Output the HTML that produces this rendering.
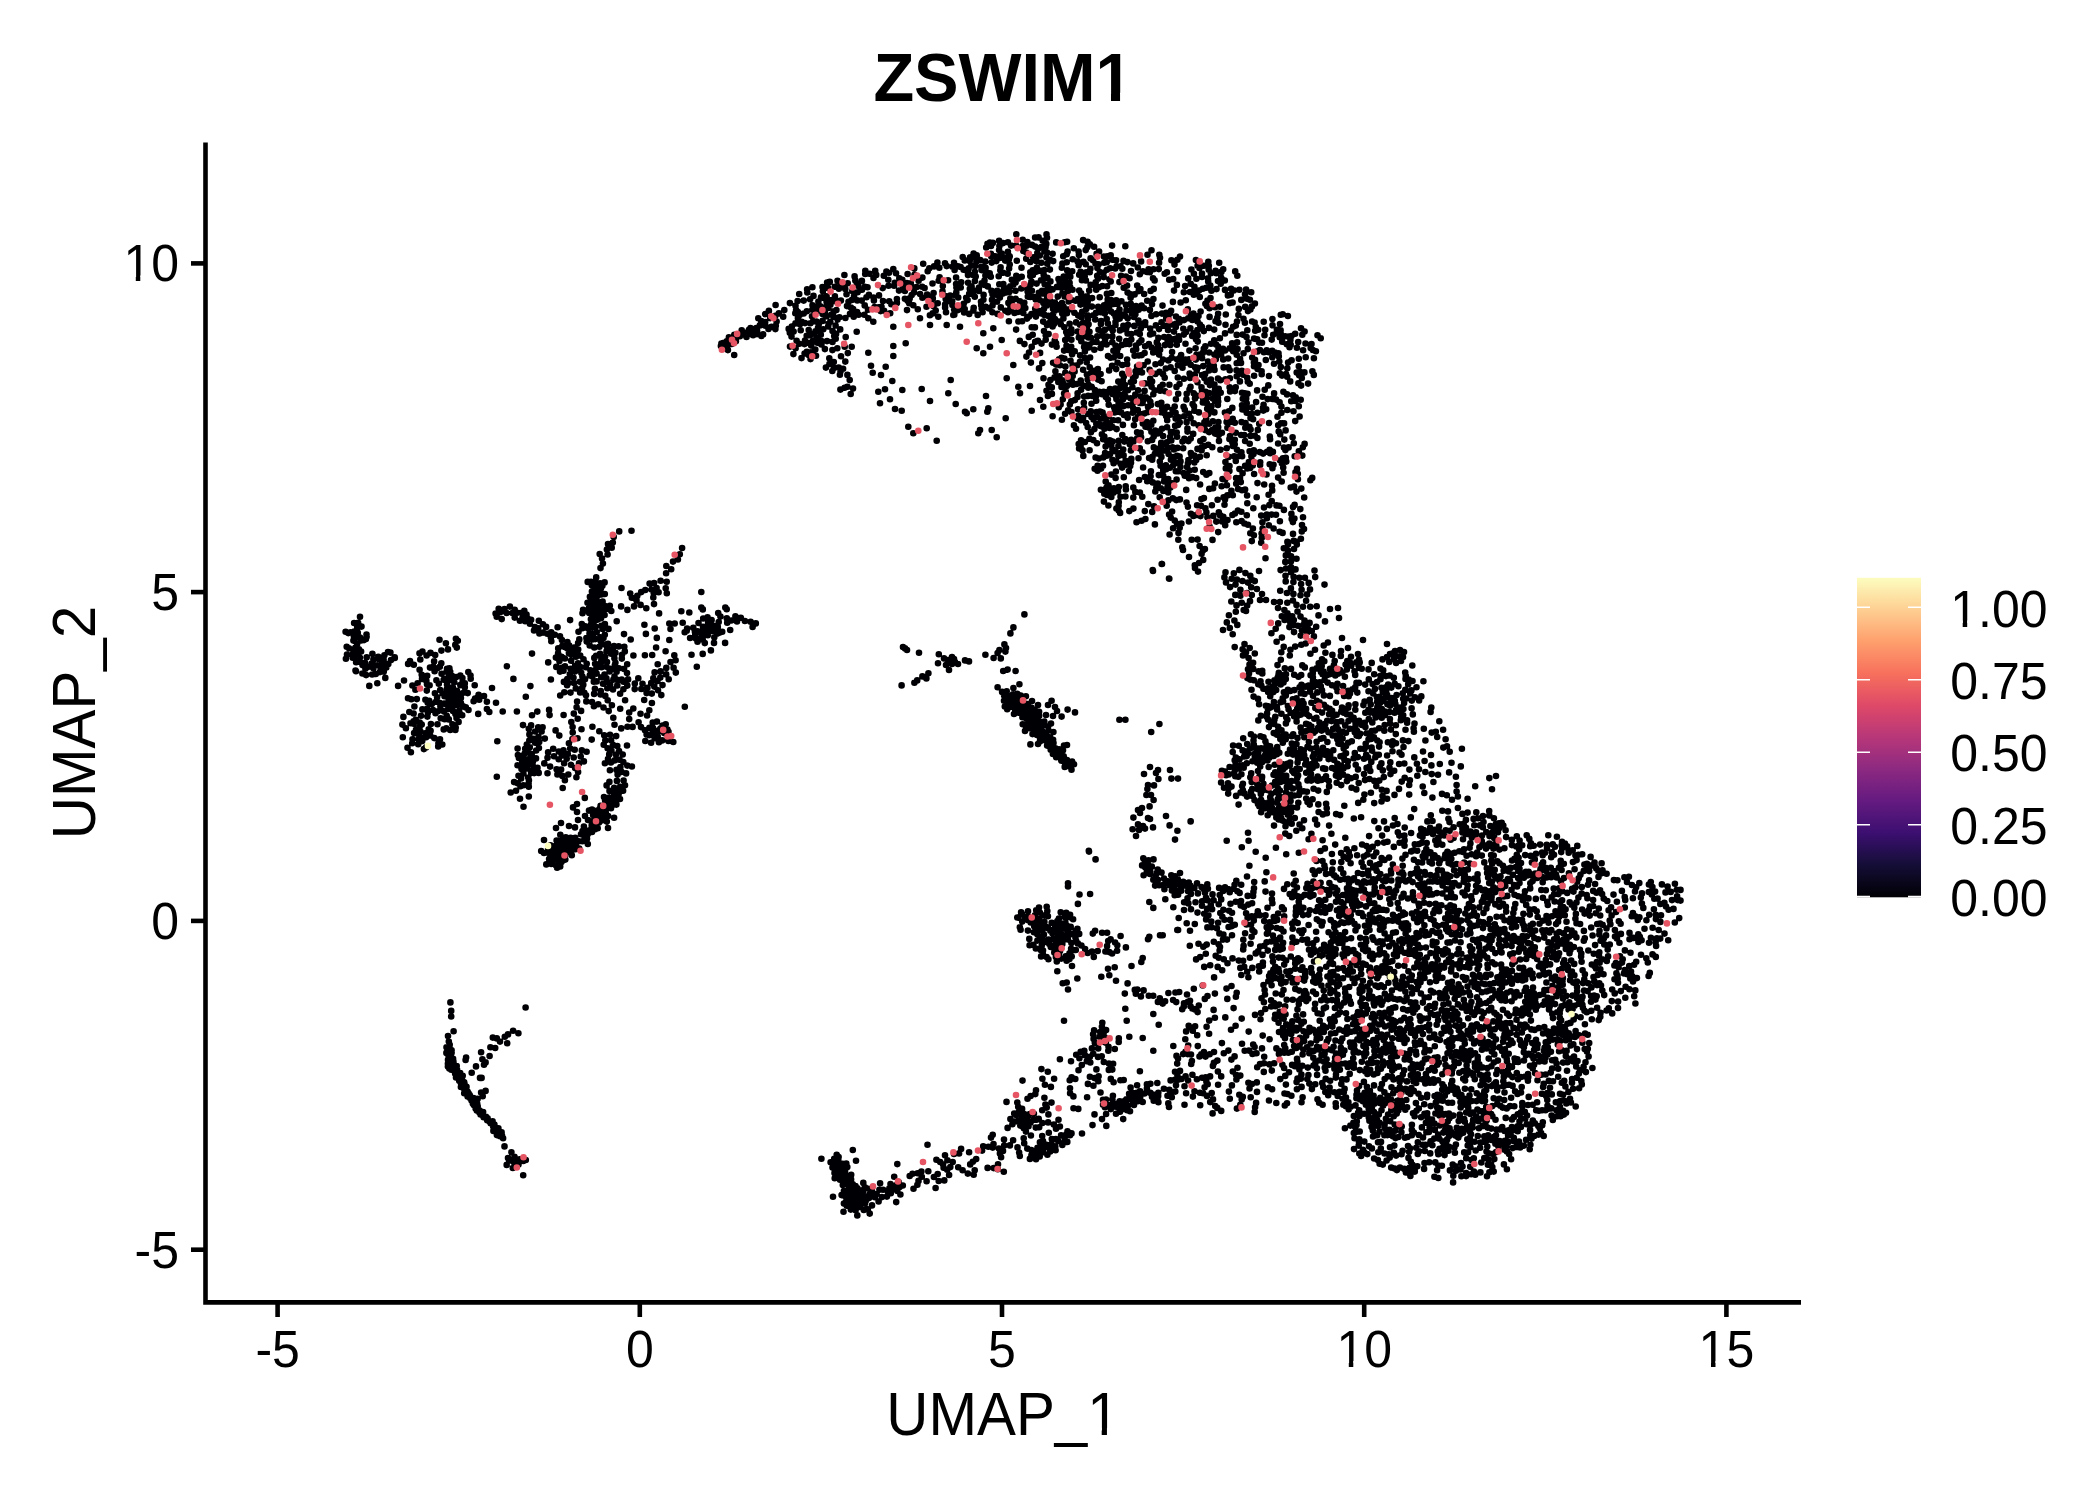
<!DOCTYPE html>
<html><head><meta charset="utf-8"><title>ZSWIM1</title><style>html,body{margin:0;padding:0;background:#fff}svg{display:block}</style></head><body><svg width="2100" height="1500" viewBox="0 0 2100 1500">
<path d="M739.9 336.2h.01M736.5 337.2h.01M746.7 332.5h.01M763.1 334.4h.01M727.0 346.8h.01M723.9 342.7h.01M744.3 333.0h.01M735.9 341.3h.01M726.7 341.4h.01M746.5 337.0h.01M720.9 346.1h.01M753.1 335.3h.01M734.3 338.8h.01M725.2 348.3h.01M753.1 330.3h.01M742.4 334.6h.01M728.9 337.4h.01M756.3 328.0h.01M757.0 334.1h.01M749.7 332.2h.01M721.4 343.6h.01M734.3 334.9h.01M727.9 350.1h.01M728.5 340.0h.01M757.1 330.9h.01M728.9 344.0h.01M741.7 330.2h.01M750.5 328.1h.01M723.7 346.0h.01M731.8 344.0h.01M726.4 344.0h.01M749.0 329.9h.01M761.4 336.0h.01M748.5 334.2h.01M734.2 355.0h.01M765.4 325.8h.01M778.9 313.4h.01M768.9 310.9h.01M775.3 315.8h.01M776.6 321.5h.01M770.1 318.1h.01M758.3 318.2h.01M761.2 321.0h.01M765.2 322.1h.01M765.1 314.1h.01M775.6 305.0h.01M759.9 325.4h.01M768.5 328.9h.01M774.0 327.1h.01M775.8 325.7h.01M775.4 329.1h.01M771.5 326.8h.01M1031.9 244.9h.01M854.0 296.3h.01M839.4 317.2h.01M856.9 283.7h.01M894.8 282.9h.01M954.3 314.8h.01M896.0 273.2h.01M914.0 287.5h.01M1008.0 312.2h.01M978.9 290.9h.01M796.1 310.1h.01M852.3 291.1h.01M924.6 288.0h.01M976.4 261.7h.01M875.2 270.7h.01M984.8 284.9h.01M1005.6 257.5h.01M1041.0 280.3h.01M1036.8 267.7h.01M818.7 324.5h.01M1007.7 273.7h.01M801.6 321.9h.01M1041.7 293.4h.01M1041.0 270.9h.01M1035.1 246.6h.01M991.5 290.9h.01M937.4 262.6h.01M975.7 276.5h.01M967.6 300.1h.01M1008.9 259.3h.01M1021.3 288.4h.01M1002.9 293.6h.01M1005.3 310.8h.01M1047.8 286.3h.01M812.4 287.3h.01M873.5 297.6h.01M999.3 284.2h.01M933.6 293.0h.01M867.5 287.2h.01M838.0 300.8h.01M807.3 292.5h.01M861.9 280.9h.01M828.4 308.0h.01M1007.9 251.7h.01M851.8 300.0h.01M1007.9 242.2h.01M865.3 270.8h.01M907.6 274.0h.01M848.5 301.8h.01M981.2 305.2h.01M824.8 312.6h.01M881.5 306.8h.01M999.4 246.0h.01M855.3 280.4h.01M826.4 316.2h.01M992.8 242.9h.01M1015.6 282.5h.01M890.2 313.2h.01M797.9 312.0h.01M822.9 291.2h.01M844.0 286.4h.01M1036.8 256.1h.01M956.4 287.5h.01M927.7 271.3h.01M1038.3 248.5h.01M957.9 310.1h.01M1008.4 302.9h.01M857.6 292.3h.01M1021.5 267.7h.01M973.1 294.5h.01M969.2 313.9h.01M969.8 288.7h.01M945.0 263.2h.01M806.8 311.2h.01M974.8 271.7h.01M1015.5 290.8h.01M991.7 262.6h.01M917.8 309.2h.01M1009.7 256.4h.01M974.9 281.0h.01M997.1 295.0h.01M893.3 269.0h.01M853.7 316.8h.01M844.4 275.0h.01M957.9 266.2h.01M963.7 303.8h.01M866.5 297.3h.01M1050.8 303.7h.01M997.1 301.6h.01M891.3 304.3h.01M946.7 266.1h.01M937.7 303.3h.01M1019.9 301.2h.01M956.1 277.6h.01M896.9 302.9h.01M830.4 304.8h.01M938.7 280.8h.01M1003.3 284.0h.01M968.7 268.3h.01M896.9 299.1h.01M1000.3 270.3h.01M999.7 292.4h.01M1041.3 262.8h.01M1009.7 264.5h.01M899.0 290.6h.01M1016.3 234.2h.01M847.0 306.1h.01M997.5 313.9h.01M986.0 271.9h.01M886.4 271.6h.01M950.2 295.6h.01M922.4 277.6h.01M954.0 262.8h.01M926.5 306.7h.01M932.7 313.4h.01M959.8 308.1h.01M942.5 291.4h.01M833.7 316.8h.01M1027.0 287.9h.01M945.7 299.1h.01M989.9 242.6h.01M1027.8 296.6h.01M865.2 274.0h.01M1035.1 237.5h.01M894.1 285.8h.01M789.9 303.1h.01M797.6 301.1h.01M807.1 289.2h.01M1003.1 243.1h.01M1017.8 278.8h.01M904.9 298.7h.01M956.3 292.4h.01M1047.2 296.7h.01M971.6 286.6h.01M1010.3 306.5h.01M1011.6 303.9h.01M946.5 296.2h.01M985.7 306.8h.01M831.8 300.1h.01M795.5 323.4h.01M850.9 307.6h.01M929.9 315.2h.01M1039.8 255.5h.01M963.6 269.7h.01M1052.6 253.7h.01M992.5 294.3h.01M826.6 302.0h.01M945.1 304.5h.01M826.6 296.2h.01M1022.6 246.0h.01M1009.3 291.9h.01M914.0 292.4h.01M979.0 287.5h.01M857.1 312.1h.01M799.6 315.0h.01M980.3 260.0h.01M784.3 310.1h.01M992.0 299.9h.01M948.1 280.3h.01M973.7 307.7h.01M981.5 270.1h.01M1030.3 276.0h.01M1009.1 268.6h.01M906.9 283.0h.01M1016.8 260.7h.01M803.7 313.5h.01M932.5 283.5h.01M853.1 309.1h.01M942.8 286.0h.01M822.5 287.0h.01M987.5 243.8h.01M929.3 268.3h.01M1033.2 257.3h.01M902.3 279.9h.01M962.7 257.0h.01M847.7 283.2h.01M868.9 294.9h.01M910.8 283.3h.01M1007.7 288.4h.01M973.0 274.9h.01M864.7 305.4h.01M889.0 272.8h.01M1043.4 303.1h.01M983.4 299.8h.01M822.6 314.0h.01M939.3 267.7h.01M883.8 275.7h.01M888.5 285.7h.01M1011.8 279.7h.01M874.6 307.1h.01M939.6 277.4h.01M922.4 297.8h.01M968.1 282.8h.01M904.9 290.9h.01M1001.6 253.6h.01M1027.6 291.6h.01M996.3 261.1h.01M1010.3 286.2h.01M961.2 282.2h.01M795.3 313.3h.01M797.9 318.2h.01M999.9 258.0h.01M864.4 314.7h.01M864.9 286.7h.01M817.2 310.9h.01M999.1 250.1h.01M1044.4 251.4h.01M976.7 255.4h.01M922.2 286.7h.01M960.7 287.5h.01M831.2 314.8h.01M934.1 266.4h.01M818.4 301.5h.01M1016.0 245.5h.01M960.6 267.0h.01M850.0 313.9h.01M974.5 257.6h.01M971.3 265.6h.01M805.0 323.1h.01M981.7 308.5h.01M967.8 272.3h.01M973.4 310.4h.01M956.1 284.1h.01M974.8 296.7h.01M933.6 306.2h.01M909.2 303.3h.01M810.1 299.3h.01M992.4 312.3h.01M833.7 311.4h.01M884.1 310.8h.01M952.4 305.0h.01M918.6 280.7h.01M1011.1 310.4h.01M964.7 309.1h.01M903.2 286.3h.01M876.2 274.9h.01M954.1 309.5h.01M834.9 296.3h.01M882.7 288.1h.01M916.7 287.0h.01M932.8 298.4h.01M861.7 300.6h.01M985.3 261.5h.01M935.7 310.6h.01M1020.5 307.7h.01M964.7 260.4h.01M954.6 270.0h.01M1035.7 299.5h.01M920.1 294.0h.01M914.3 268.4h.01M1016.3 275.8h.01M981.7 283.4h.01M834.8 286.7h.01M1026.2 258.8h.01M857.3 300.4h.01M946.0 312.3h.01M1046.6 290.5h.01M837.5 280.8h.01M983.6 294.9h.01M873.5 277.9h.01M783.2 316.7h.01M949.3 301.0h.01M826.4 306.2h.01M994.0 256.1h.01M1047.4 277.8h.01M1027.4 242.0h.01M1038.8 292.7h.01M845.3 289.1h.01M1023.3 251.0h.01M977.7 314.9h.01M999.9 297.6h.01M788.7 328.9h.01M984.5 280.6h.01M1032.7 270.4h.01M1044.5 270.1h.01M817.1 307.1h.01M969.7 260.9h.01M982.6 312.2h.01M888.3 279.8h.01M1031.4 281.6h.01M1003.2 272.7h.01M878.5 307.3h.01M968.0 275.1h.01M823.6 298.0h.01M840.1 286.4h.01M852.3 312.1h.01M997.2 290.8h.01M883.0 301.1h.01M1000.6 267.3h.01M975.1 265.9h.01M985.6 267.7h.01M899.3 278.2h.01M992.5 305.5h.01M799.2 294.0h.01M1050.2 260.0h.01M1013.4 284.4h.01M868.0 309.8h.01M997.7 256.4h.01M1011.1 245.6h.01M812.5 305.2h.01M1030.3 262.0h.01M1049.9 269.6h.01M1036.6 283.6h.01M858.6 314.8h.01M1047.3 263.8h.01M828.6 323.9h.01M812.0 316.3h.01M827.1 282.6h.01M913.3 305.2h.01M986.2 247.5h.01M1022.7 239.8h.01M1046.5 234.4h.01M1036.6 271.6h.01M914.5 274.8h.01M816.4 321.6h.01M812.3 309.8h.01M855.0 299.2h.01M821.0 297.4h.01M829.8 281.9h.01M907.0 310.1h.01M927.1 294.5h.01M907.6 300.7h.01M822.6 320.9h.01M889.2 301.2h.01M858.3 286.1h.01M1037.3 253.0h.01M1030.3 272.3h.01M985.4 275.5h.01M1030.5 284.8h.01M1003.9 289.3h.01M931.3 301.2h.01M955.4 295.3h.01M981.4 266.8h.01M1026.5 245.8h.01M990.8 276.8h.01M1006.1 292.5h.01M973.7 290.6h.01M952.6 266.7h.01M795.5 305.7h.01M835.0 301.1h.01M973.6 253.6h.01M1050.4 301.0h.01M1015.7 298.9h.01M1025.3 308.0h.01M820.3 306.3h.01M998.7 276.2h.01M1034.2 297.1h.01M1021.7 276.8h.01M958.2 297.5h.01M810.4 323.2h.01M846.5 294.2h.01M836.4 310.0h.01M945.1 307.6h.01M1014.5 313.0h.01M813.5 295.9h.01M1012.6 300.1h.01M830.3 321.8h.01M873.9 300.4h.01M1005.2 260.6h.01M1041.3 247.1h.01M969.2 293.8h.01M970.1 257.3h.01M880.6 311.1h.01M837.6 319.6h.01M840.9 300.6h.01M1032.9 274.9h.01M1039.9 300.3h.01M987.8 286.4h.01M845.4 318.0h.01M879.0 295.4h.01M828.0 287.9h.01M964.1 312.5h.01M1047.0 252.6h.01M928.5 297.4h.01M911.7 295.1h.01M966.2 297.8h.01M991.3 256.5h.01M1026.3 252.5h.01M991.0 245.9h.01M989.0 308.4h.01M923.2 263.7h.01M952.2 301.2h.01M999.1 240.8h.01M1000.8 307.4h.01M838.9 288.8h.01M862.0 289.8h.01M1010.3 298.6h.01M869.6 273.8h.01M803.7 300.6h.01M1042.7 240.8h.01M989.7 273.3h.01M1045.6 246.9h.01M909.7 298.4h.01M854.6 276.4h.01M990.9 253.7h.01M981.0 301.7h.01M844.6 387.7h.01M834.0 367.9h.01M816.1 339.3h.01M799.3 343.7h.01M817.4 342.8h.01M835.7 338.7h.01M816.0 355.8h.01M795.6 348.3h.01M808.7 330.1h.01M812.7 341.4h.01M805.0 340.6h.01M840.2 329.4h.01M840.4 389.6h.01M837.3 348.2h.01M832.3 371.0h.01M790.0 346.6h.01M827.0 341.1h.01M796.6 340.8h.01M815.5 331.2h.01M806.8 351.7h.01M839.9 374.7h.01M811.0 352.3h.01M832.5 341.9h.01M804.6 353.5h.01M804.5 344.1h.01M789.8 332.8h.01M799.9 324.3h.01M847.8 353.1h.01M813.1 321.4h.01M791.8 326.6h.01M793.6 331.6h.01M832.5 331.1h.01M833.8 362.0h.01M811.2 345.6h.01M823.3 329.3h.01M841.0 356.3h.01M829.3 358.3h.01M847.4 386.7h.01M840.5 371.6h.01M818.3 337.4h.01M835.6 325.5h.01M824.9 349.1h.01M807.7 342.8h.01M844.7 346.7h.01M810.3 335.3h.01M815.3 349.5h.01M838.7 367.5h.01M850.7 394.0h.01M810.5 359.1h.01M791.5 336.6h.01M801.5 358.1h.01M845.3 361.6h.01M821.4 341.0h.01M828.2 326.5h.01M845.7 337.1h.01M793.4 354.1h.01M836.1 333.9h.01M800.7 330.2h.01M832.4 350.1h.01M843.1 368.7h.01M821.4 344.4h.01M818.0 327.7h.01M814.2 333.5h.01M806.7 335.8h.01M853.0 388.6h.01M825.9 367.6h.01M847.4 374.9h.01M820.4 331.5h.01M808.7 355.1h.01M820.8 334.7h.01M834.2 336.1h.01M829.5 363.9h.01M849.7 380.1h.01M893.3 326.7h.01M930.0 325.0h.01M920.0 318.3h.01M938.3 316.7h.01M946.7 325.0h.01M868.3 352.7h.01M893.3 346.0h.01M905.7 343.3h.01M893.3 356.0h.01M871.0 365.7h.01M885.7 366.7h.01M872.7 372.7h.01M881.0 375.0h.01M892.3 381.0h.01M878.3 391.7h.01M885.0 389.3h.01M902.3 390.0h.01M880.0 403.3h.01M890.0 399.3h.01M921.7 389.0h.01M930.0 401.0h.01M895.0 409.0h.01M901.7 410.7h.01M948.3 393.3h.01M950.7 380.0h.01M955.7 404.0h.01M965.0 411.7h.01M966.7 413.3h.01M973.3 409.3h.01M986.0 396.0h.01M988.3 408.3h.01M987.3 411.7h.01M1005.7 418.3h.01M980.0 430.0h.01M978.3 433.3h.01M991.7 430.0h.01M996.7 437.3h.01M908.3 426.7h.01M913.3 433.3h.01M926.7 428.3h.01M936.7 440.7h.01M1006.7 378.3h.01M1018.3 386.7h.01M1020.0 393.3h.01M1030.0 386.0h.01M1031.7 410.7h.01M1043.3 406.7h.01M1040.0 400.0h.01M983.3 333.3h.01M990.0 346.7h.01M1001.7 340.0h.01M1013.3 365.0h.01M983.3 353.3h.01M976.7 348.3h.01M993.3 328.3h.01M953.3 315.0h.01M960.0 326.7h.01M851.7 346.7h.01M856.7 331.7h.01M873.3 321.7h.01M868.3 318.3h.01M1252.7 465.5h.01M1160.1 454.5h.01M1138.2 371.9h.01M1054.9 319.0h.01M1271.6 514.6h.01M1122.3 268.8h.01M1193.4 313.6h.01M1242.6 334.6h.01M1197.4 330.1h.01M1101.9 434.3h.01M1066.2 332.1h.01M1077.6 418.5h.01M1249.7 383.8h.01M1073.9 425.2h.01M1125.7 486.3h.01M1116.2 369.1h.01M1051.9 393.9h.01M1112.3 336.4h.01M1116.7 266.2h.01M1103.9 501.6h.01M1117.6 362.7h.01M1143.6 365.2h.01M1266.7 350.4h.01M1215.0 389.8h.01M1206.7 455.3h.01M1194.4 286.7h.01M1196.4 278.7h.01M1196.2 478.1h.01M1266.2 409.2h.01M1208.8 265.9h.01M1287.3 368.2h.01M1290.4 340.0h.01M1293.0 507.1h.01M1260.1 464.9h.01M1178.0 424.9h.01M1147.2 481.3h.01M1223.2 359.4h.01M1117.5 393.6h.01M1237.9 510.5h.01M1232.3 442.1h.01M1290.2 381.4h.01M1232.1 343.2h.01M1201.5 387.2h.01M1263.6 404.9h.01M1252.1 321.5h.01M1258.5 365.0h.01M1030.9 362.6h.01M1278.8 356.4h.01M1058.3 382.0h.01M1183.6 406.7h.01M1229.9 303.1h.01M1151.5 250.3h.01M1180.4 466.9h.01M1017.8 312.0h.01M1156.1 314.3h.01M1104.2 262.7h.01M1067.1 241.7h.01M1131.3 334.0h.01M1059.1 359.3h.01M1177.8 377.5h.01M1118.7 510.6h.01M1201.4 499.0h.01M1229.5 466.0h.01M1139.8 334.0h.01M1215.5 321.2h.01M1233.2 351.3h.01M1131.0 271.0h.01M1123.8 376.6h.01M1203.9 498.1h.01M1144.8 511.1h.01M1085.9 280.5h.01M1182.5 364.6h.01M1096.9 416.8h.01M1034.9 327.4h.01M1072.7 259.3h.01M1133.9 317.0h.01M1298.8 358.7h.01M1187.9 463.2h.01M1138.4 320.5h.01M1257.1 390.4h.01M1159.8 461.6h.01M1288.0 544.6h.01M1199.8 297.0h.01M1180.0 256.6h.01M1193.8 294.8h.01M1305.7 357.2h.01M1234.8 439.8h.01M1312.2 477.9h.01M1266.8 514.6h.01M1101.7 344.4h.01M1216.5 289.1h.01M1110.2 268.3h.01M1273.1 334.8h.01M1144.6 353.0h.01M1074.4 312.7h.01M1186.7 393.8h.01M1226.9 485.3h.01M1086.7 362.3h.01M1245.3 427.7h.01M1183.9 334.6h.01M1110.1 454.1h.01M1297.9 479.2h.01M1098.6 264.2h.01M1220.2 515.4h.01M1257.4 438.0h.01M1133.3 497.6h.01M1094.9 390.0h.01M1105.3 424.2h.01M1272.9 451.9h.01M1122.3 314.6h.01M1119.5 388.6h.01M1259.2 423.7h.01M1217.3 317.7h.01M1192.2 335.9h.01M1293.5 411.3h.01M1180.5 461.4h.01M1121.4 301.2h.01M1108.5 416.6h.01M1077.5 397.1h.01M1088.2 387.7h.01M1128.2 405.2h.01M1164.7 273.7h.01M1301.3 488.6h.01M1242.6 473.2h.01M1107.0 494.9h.01M1217.6 499.8h.01M1177.4 271.3h.01M1226.7 448.2h.01M1097.4 267.9h.01M1035.2 341.8h.01M1081.0 440.3h.01M1225.2 479.5h.01M1122.7 329.2h.01M1106.7 319.1h.01M1296.7 372.6h.01M1078.7 265.2h.01M1157.1 348.9h.01M1236.3 522.3h.01M1086.9 374.6h.01M1298.4 383.3h.01M1268.6 494.7h.01M1239.9 381.4h.01M1203.8 348.7h.01M1189.6 373.6h.01M1137.2 285.6h.01M1135.4 314.3h.01M1067.6 251.6h.01M1225.0 350.5h.01M1235.8 432.8h.01M1060.7 287.4h.01M1108.5 485.3h.01M1183.8 292.2h.01M1203.9 265.8h.01M1278.1 477.6h.01M1225.5 324.7h.01M1186.2 489.9h.01M1123.8 477.3h.01M1175.8 471.2h.01M1071.9 381.6h.01M1241.2 435.0h.01M1062.8 399.3h.01M1185.1 286.0h.01M1282.6 532.9h.01M1106.7 336.5h.01M1067.2 270.4h.01M1078.2 415.9h.01M1245.1 465.9h.01M1179.5 384.0h.01M1220.0 306.8h.01M1161.0 446.0h.01M1089.7 272.3h.01M1201.0 505.7h.01M1110.6 357.7h.01M1247.3 468.5h.01M1230.9 330.5h.01M1118.8 487.0h.01M1159.3 254.8h.01M1225.4 462.1h.01M1070.3 276.7h.01M1042.3 363.1h.01M1273.5 464.7h.01M1153.0 278.2h.01M1280.8 367.1h.01M1209.9 410.6h.01M1099.8 272.1h.01M1154.0 506.2h.01M1097.6 465.9h.01M1246.1 289.5h.01M1066.7 262.2h.01M1244.8 393.4h.01M1206.2 418.7h.01M1039.0 368.4h.01M1113.8 357.2h.01M1228.2 358.5h.01M1279.6 531.8h.01M1082.5 450.4h.01M1279.4 505.7h.01M1229.9 378.3h.01M1218.0 378.5h.01M1138.6 309.7h.01M1071.4 339.8h.01M1236.7 334.9h.01M1191.4 269.5h.01M1112.1 245.6h.01M1100.6 426.1h.01M1188.2 318.3h.01M1141.5 520.7h.01M1065.2 340.1h.01M1153.2 352.5h.01M1218.5 354.4h.01M1229.7 370.2h.01M1263.0 408.0h.01M1090.9 337.7h.01M1284.3 439.6h.01M1084.2 396.5h.01M1248.4 342.4h.01M1211.0 343.8h.01M1218.5 322.8h.01M1106.9 293.9h.01M1212.9 398.5h.01M1053.0 308.7h.01M1232.4 515.0h.01M1219.2 262.8h.01M1103.7 277.1h.01M1121.1 405.9h.01M1032.7 334.7h.01M1246.2 398.6h.01M1083.5 261.9h.01M1171.4 260.2h.01M1285.1 336.2h.01M1121.8 344.9h.01M1259.1 342.6h.01M1282.2 341.8h.01M1242.4 409.5h.01M1258.2 329.8h.01M1167.1 406.9h.01M1217.0 431.4h.01M1169.1 514.5h.01M1249.6 451.3h.01M1282.9 458.4h.01M1147.5 254.8h.01M1140.7 328.6h.01M1041.5 343.6h.01M1085.7 250.1h.01M1151.4 431.7h.01M1272.2 490.4h.01M1112.3 342.2h.01M1083.1 240.1h.01M1121.2 412.5h.01M1118.1 420.2h.01M1119.4 282.1h.01M1152.7 482.4h.01M1092.2 395.9h.01M1265.8 360.0h.01M1175.6 418.6h.01M1044.0 308.7h.01M1241.5 422.1h.01M1223.2 269.3h.01M1102.5 332.6h.01M1225.0 333.4h.01M1202.1 375.1h.01M1217.2 352.1h.01M1150.2 378.7h.01M1054.6 377.4h.01M1179.1 339.9h.01M1141.1 437.3h.01M1098.1 379.6h.01M1170.1 437.1h.01M1305.5 343.5h.01M1096.3 424.0h.01M1122.9 399.4h.01M1294.4 518.6h.01M1215.1 433.6h.01M1115.5 345.6h.01M1133.2 263.4h.01M1045.7 335.3h.01M1240.8 482.1h.01M1300.9 538.8h.01M1105.0 340.4h.01M1154.9 453.7h.01M1131.0 462.7h.01M1269.7 464.2h.01M1103.6 272.8h.01M1196.6 293.1h.01M1071.4 412.1h.01M1278.7 431.6h.01M1091.5 403.8h.01M1082.2 311.9h.01M1269.4 505.1h.01M1056.6 346.7h.01M1268.8 352.3h.01M1215.1 307.2h.01M1058.5 279.1h.01M1168.3 500.4h.01M1245.2 306.9h.01M1168.6 454.1h.01M1241.3 299.9h.01M1249.9 299.7h.01M1235.8 460.9h.01M1078.7 444.1h.01M1150.3 401.8h.01M1139.3 342.6h.01M1112.7 330.6h.01M1064.1 350.6h.01M1144.3 413.5h.01M1271.7 339.6h.01M1237.6 349.1h.01M1119.7 318.6h.01M1251.4 456.4h.01M1109.3 490.6h.01M1081.9 280.2h.01M1281.4 412.7h.01M1149.8 272.3h.01M1167.2 420.3h.01M1054.8 310.7h.01M1150.1 384.1h.01M1104.3 493.7h.01M1144.1 308.3h.01M1287.2 376.7h.01M1195.9 260.0h.01M1073.8 248.2h.01M1311.5 344.0h.01M1267.1 451.7h.01M1090.9 432.3h.01M1247.8 381.8h.01M1287.3 410.0h.01M1035.2 308.8h.01M1078.0 409.3h.01M1202.8 288.8h.01M1159.0 329.1h.01M1201.8 326.8h.01M1160.1 349.7h.01M1214.2 340.4h.01M1115.6 478.0h.01M1298.8 406.3h.01M1111.3 293.0h.01M1297.8 473.7h.01M1190.7 438.6h.01M1269.1 423.0h.01M1173.2 279.1h.01M1209.3 488.9h.01M1207.4 517.3h.01M1173.1 528.2h.01M1170.7 517.6h.01M1069.6 282.9h.01M1093.0 260.2h.01M1197.5 382.3h.01M1221.2 277.9h.01M1161.4 456.9h.01M1293.8 443.2h.01M1254.8 435.7h.01M1267.7 399.1h.01M1136.2 349.2h.01M1157.8 404.1h.01M1218.2 401.5h.01M1219.9 338.2h.01M1243.5 353.2h.01M1276.5 505.4h.01M1122.3 365.0h.01M1291.4 336.0h.01M1118.3 381.6h.01M1237.3 275.8h.01M1252.9 528.6h.01M1257.8 429.9h.01M1107.3 256.3h.01M1272.3 398.9h.01M1169.4 384.8h.01M1261.6 371.2h.01M1208.2 281.4h.01M1137.1 366.5h.01M1116.3 461.3h.01M1136.8 332.5h.01M1131.3 458.9h.01M1229.4 439.1h.01M1048.5 294.1h.01M1081.1 293.4h.01M1213.8 365.7h.01M1031.7 346.9h.01M1275.0 352.6h.01M1304.2 497.5h.01M1278.2 425.2h.01M1090.4 268.8h.01M1093.5 419.4h.01M1207.2 408.7h.01M1168.2 492.4h.01M1153.5 269.2h.01M1177.9 365.3h.01M1185.5 343.8h.01M1217.9 398.0h.01M1268.3 385.4h.01M1185.8 300.3h.01M1200.0 456.7h.01M1129.3 511.1h.01M1106.4 487.8h.01M1072.2 271.2h.01M1194.0 406.3h.01M1147.7 361.5h.01M1295.5 472.3h.01M1283.9 509.9h.01M1130.7 303.7h.01M1218.7 388.9h.01M1066.7 254.2h.01M1088.1 395.9h.01M1141.6 305.6h.01M1175.8 326.9h.01M1243.5 318.7h.01M1172.5 447.4h.01M1064.6 242.2h.01M1112.4 259.7h.01M1291.4 513.9h.01M1104.1 305.4h.01M1246.7 412.7h.01M1163.1 436.1h.01M1232.7 418.7h.01M1173.5 460.8h.01M1162.0 313.6h.01M1116.4 508.5h.01M1199.4 267.9h.01M1261.2 515.6h.01M1162.5 305.6h.01M1220.4 449.8h.01M1257.5 483.1h.01M1122.2 373.9h.01M1085.7 264.3h.01M1251.6 413.9h.01M1103.0 465.7h.01M1247.3 330.2h.01M1097.9 369.0h.01M1225.0 289.9h.01M1192.4 477.1h.01M1151.4 315.9h.01M1062.4 263.6h.01M1120.1 512.9h.01M1080.7 380.6h.01M1106.7 262.2h.01M1256.7 497.2h.01M1201.6 450.2h.01M1247.5 393.7h.01M1166.7 505.8h.01M1184.2 416.3h.01M1283.4 391.8h.01M1120.3 453.0h.01M1310.7 348.0h.01M1129.3 344.1h.01M1209.5 366.2h.01M1241.3 511.8h.01M1211.4 406.4h.01M1177.4 259.7h.01M1254.6 322.6h.01M1125.9 489.5h.01M1257.1 339.2h.01M1163.2 475.7h.01M1149.9 309.9h.01M1266.9 518.2h.01M1292.6 437.3h.01M1131.3 339.6h.01M1234.9 513.5h.01M1165.9 465.2h.01M1186.6 422.3h.01M1232.8 446.0h.01M1202.8 402.5h.01M1167.4 487.3h.01M1110.9 300.0h.01M1127.4 262.1h.01M1310.4 480.2h.01M1190.9 314.8h.01M1174.5 264.6h.01M1227.9 295.4h.01M1056.1 343.3h.01M1250.6 435.9h.01M1261.6 533.6h.01M1290.7 344.7h.01M1285.8 457.8h.01M1142.6 403.0h.01M1170.1 414.8h.01M1241.6 521.0h.01M1043.5 378.2h.01M1121.1 275.7h.01M1108.7 404.7h.01M1272.0 485.7h.01M1163.1 374.2h.01M1159.1 262.8h.01M1063.1 383.3h.01M1254.1 338.6h.01M1047.0 325.1h.01M1079.2 290.6h.01M1246.7 403.3h.01M1135.3 491.9h.01M1262.0 342.7h.01M1292.9 522.1h.01M1142.9 271.3h.01M1280.9 423.2h.01M1142.0 372.5h.01M1095.6 457.5h.01M1247.3 503.3h.01M1084.9 351.4h.01M1038.6 237.4h.01M1205.6 391.9h.01M1302.8 447.2h.01M1253.9 535.2h.01M1172.5 409.8h.01M1233.8 348.2h.01M1129.8 444.3h.01M1236.7 363.3h.01M1190.1 377.9h.01M1206.3 287.8h.01M1220.7 392.7h.01M1210.9 379.5h.01M1261.7 374.3h.01M1088.6 324.2h.01M1070.2 287.3h.01M1097.2 275.9h.01M1137.2 438.2h.01M1236.2 483.7h.01M1119.9 330.4h.01M1135.6 376.0h.01M1148.3 504.1h.01M1231.4 490.8h.01M1176.8 344.8h.01M1152.1 381.6h.01M1247.8 349.1h.01M1179.7 527.8h.01M1229.4 471.0h.01M1281.9 463.2h.01M1110.0 389.0h.01M1218.0 346.5h.01M1170.9 432.0h.01M1315.9 351.3h.01M1133.2 350.5h.01M1252.2 407.6h.01M1278.5 353.2h.01M1269.8 436.6h.01M1237.1 342.4h.01M1175.6 412.9h.01M1202.1 358.3h.01M1132.8 412.7h.01M1100.7 312.3h.01M1052.6 326.5h.01M1218.0 281.0h.01M1220.7 283.8h.01M1265.2 329.8h.01M1109.1 370.4h.01M1251.2 292.2h.01M1153.7 288.9h.01M1071.4 333.0h.01M1252.2 357.5h.01M1127.6 292.6h.01M1164.1 481.4h.01M1086.1 423.1h.01M1036.6 261.3h.01M1276.6 333.3h.01M1263.1 453.6h.01M1178.8 417.3h.01M1178.2 462.9h.01M1019.8 340.9h.01M1170.1 313.2h.01M1127.1 285.6h.01M1203.2 472.1h.01M1067.4 276.1h.01M1137.8 267.5h.01M1087.4 247.1h.01M1192.3 320.0h.01M1296.9 347.7h.01M1245.0 294.3h.01M1236.5 370.3h.01M1276.0 514.7h.01M1221.9 432.7h.01M1304.6 443.9h.01M1083.5 385.9h.01M1242.0 405.4h.01M1113.4 350.7h.01M1211.4 290.8h.01M1287.4 541.9h.01M1155.3 491.5h.01M1118.4 456.0h.01M1048.5 384.8h.01M1203.5 439.1h.01M1192.7 291.8h.01M1078.8 337.6h.01M1165.8 368.5h.01M1145.1 325.0h.01M1266.5 474.5h.01M1102.0 394.2h.01M1216.3 273.3h.01M1179.7 422.4h.01M1236.1 478.1h.01M1112.4 427.0h.01M1148.5 398.7h.01M1101.1 468.6h.01M1241.4 452.3h.01M1079.1 448.5h.01M1281.7 481.5h.01M1199.8 354.6h.01M1028.8 336.9h.01M1124.3 441.6h.01M1313.9 358.2h.01M1105.9 397.0h.01M1212.9 421.2h.01M1228.3 367.4h.01M1238.4 315.1h.01M1089.5 344.7h.01M1242.0 392.7h.01M1072.1 354.2h.01M1174.7 406.6h.01M1103.9 256.5h.01M1240.1 359.0h.01M1112.4 449.3h.01M1105.1 453.1h.01M1234.2 456.2h.01M1229.6 387.3h.01M1243.2 374.7h.01M1133.3 402.8h.01M1184.0 320.1h.01M1069.6 323.7h.01M1198.5 316.1h.01M1138.8 355.5h.01M1215.6 270.7h.01M1167.6 341.0h.01M1298.8 451.3h.01M1176.0 316.6h.01M1176.2 338.5h.01M1263.3 410.6h.01M1249.7 443.7h.01M1214.5 369.9h.01M1126.5 310.3h.01M1288.1 362.6h.01M1101.6 381.3h.01M1031.7 327.3h.01M1264.2 484.5h.01M1198.6 425.4h.01M1270.1 439.2h.01M1173.3 465.2h.01M1229.8 348.4h.01M1300.0 371.8h.01M1288.3 336.6h.01M1187.8 309.2h.01M1237.0 449.8h.01M1177.0 523.7h.01M1166.4 325.9h.01M1197.4 395.8h.01M1246.8 515.3h.01M1154.7 390.2h.01M1302.0 525.1h.01M1096.2 289.8h.01M1135.6 371.2h.01M1171.3 440.4h.01M1242.8 398.8h.01M1274.0 363.7h.01M1152.2 459.7h.01M1235.7 387.3h.01M1248.0 311.1h.01M1239.3 289.7h.01M1128.9 471.1h.01M1206.9 306.1h.01M1195.6 348.2h.01M1298.8 366.2h.01M1059.9 309.8h.01M1195.8 359.6h.01M1169.2 279.7h.01M1262.4 522.2h.01M1197.7 367.7h.01M1254.1 474.0h.01M1117.6 411.8h.01M1031.5 314.0h.01M1268.9 525.3h.01M1102.9 310.3h.01M1066.9 313.3h.01M1179.4 322.4h.01M1113.3 420.2h.01M1129.6 278.3h.01M1284.1 423.4h.01M1299.6 416.5h.01M1050.4 380.0h.01M1233.7 290.4h.01M1168.1 482.6h.01M1218.4 422.0h.01M1170.3 345.1h.01M1089.6 450.3h.01M1115.2 268.5h.01M1072.6 365.4h.01M1298.2 342.1h.01M1248.0 524.8h.01M1181.4 523.5h.01M1257.4 412.8h.01M1145.1 346.3h.01M1148.8 427.6h.01M1296.7 541.7h.01M1065.3 372.9h.01M1178.8 336.2h.01M1053.9 324.0h.01M1171.7 357.7h.01M1165.0 345.1h.01M1240.5 373.4h.01M1126.0 304.9h.01M1200.5 516.1h.01M1189.0 359.2h.01M1163.3 490.9h.01M1194.4 462.5h.01M1209.9 385.1h.01M1294.7 456.2h.01M1206.4 474.7h.01M1222.5 479.1h.01M1295.5 401.0h.01M1302.3 455.6h.01M1016.1 329.6h.01M1208.9 327.9h.01M1205.4 303.7h.01M1121.8 395.0h.01M1294.1 486.6h.01M1053.0 314.6h.01M1160.6 465.7h.01M1039.6 311.0h.01M1080.5 304.6h.01M1072.9 384.8h.01M1234.7 444.2h.01M1110.7 255.3h.01M1245.1 489.6h.01M1144.9 477.0h.01M1108.0 356.0h.01M1097.5 470.7h.01M1249.4 426.8h.01M1188.9 413.7h.01M1230.0 436.1h.01M1089.8 244.3h.01M1287.9 316.0h.01M1210.3 285.6h.01M1152.0 304.3h.01M1026.4 356.6h.01M1153.7 436.6h.01M1123.5 260.9h.01M1289.5 347.2h.01M1090.6 284.9h.01M1153.8 447.4h.01M1221.1 354.8h.01M1253.3 508.3h.01M1291.7 519.0h.01M1122.9 380.8h.01M1089.2 290.6h.01M1115.2 451.3h.01M1083.5 325.5h.01M1208.0 278.3h.01M1022.1 321.2h.01M1164.2 337.0h.01M1068.1 410.2h.01M1209.3 473.1h.01M1100.6 374.1h.01M1138.2 417.0h.01M1240.0 478.1h.01M1135.3 394.5h.01M1230.3 422.1h.01M1078.2 315.6h.01M1122.1 467.6h.01M1294.6 504.9h.01M1263.7 321.7h.01M1223.6 367.4h.01M1077.2 365.3h.01M1023.3 312.9h.01M1046.2 300.2h.01M1287.0 394.4h.01M1246.6 407.9h.01M1190.9 513.7h.01M1084.1 347.0h.01M1132.0 308.6h.01M1110.7 281.5h.01M1140.4 289.1h.01M1158.8 269.1h.01M1159.7 497.3h.01M1060.8 324.3h.01M1213.1 488.2h.01M1150.6 290.9h.01M1099.1 251.6h.01M1194.7 469.7h.01M1238.1 489.0h.01M1186.5 502.6h.01M1209.1 432.1h.01M1223.3 516.7h.01M1272.3 357.3h.01M1064.6 296.4h.01M1130.8 294.3h.01M1279.3 361.6h.01M1228.9 411.4h.01M1283.6 472.7h.01M1127.3 414.4h.01M1209.6 526.6h.01M1285.4 450.1h.01M1098.2 306.9h.01M1111.3 445.0h.01M1297.0 468.9h.01M1216.1 344.5h.01M1078.6 251.6h.01M1101.1 321.1h.01M1255.2 330.7h.01M1193.2 433.9h.01M1150.6 476.2h.01M1113.9 488.4h.01M1200.6 311.5h.01M1232.8 495.3h.01M1245.1 441.0h.01M1142.4 452.2h.01M1247.1 495.5h.01M1077.6 261.4h.01M1179.9 499.4h.01M1061.9 419.7h.01M1119.2 338.7h.01M1071.3 401.2h.01M1080.6 271.9h.01M1170.4 487.6h.01M1091.6 386.9h.01M1178.2 393.7h.01M1062.2 313.5h.01M1254.1 375.8h.01M1134.6 355.7h.01M1155.5 364.2h.01M1153.1 333.5h.01M1203.8 331.1h.01M1227.4 427.8h.01M1250.5 418.1h.01M1080.1 355.2h.01M1189.5 389.6h.01M1246.6 298.6h.01M1090.8 411.3h.01M1163.0 359.6h.01M1201.5 447.5h.01M1291.2 401.3h.01M1086.3 308.9h.01M1133.4 508.6h.01M1253.9 362.6h.01M1230.1 391.5h.01M1279.8 373.3h.01M1052.5 289.4h.01M1112.4 394.0h.01M1147.0 271.9h.01M1264.5 335.3h.01M1214.2 329.6h.01M1172.9 301.9h.01M1066.2 309.2h.01M1152.2 511.9h.01M1159.6 451.6h.01M1147.2 300.7h.01M1095.5 263.8h.01M1271.7 501.0h.01M1300.7 399.8h.01M1063.4 318.4h.01M1156.3 487.7h.01M1077.6 393.2h.01M1065.7 391.2h.01M1257.6 368.9h.01M1172.2 483.4h.01M1217.9 405.0h.01M1189.0 478.2h.01M1196.7 370.8h.01M1259.9 350.1h.01M1093.3 440.1h.01M1295.2 421.1h.01M1088.1 414.0h.01M1285.6 430.4h.01M1216.3 521.6h.01M1283.9 447.6h.01M1080.6 446.3h.01M1113.4 492.7h.01M1109.1 306.7h.01M1142.3 496.7h.01M1055.4 371.2h.01M1176.3 500.1h.01M1174.0 290.6h.01M1215.5 427.5h.01M1064.1 393.6h.01M1059.6 282.0h.01M1183.2 448.3h.01M1196.7 514.9h.01M1253.8 450.2h.01M1185.6 359.6h.01M1046.5 390.8h.01M1106.6 344.5h.01M1173.4 457.0h.01M1288.6 447.4h.01M1286.8 344.3h.01M1074.6 371.4h.01M1272.4 319.0h.01M1224.9 412.6h.01M1299.2 375.3h.01M1279.9 521.2h.01M1214.4 354.6h.01M1148.6 269.4h.01M1159.1 354.6h.01M1167.1 451.1h.01M1117.1 350.6h.01M1280.0 460.3h.01M1255.0 359.9h.01M1160.0 257.7h.01M1082.5 298.5h.01M1123.7 406.1h.01M1301.1 385.6h.01M1106.9 269.8h.01M1194.4 410.8h.01M1261.2 542.8h.01M1083.3 455.9h.01M1194.3 455.5h.01M1208.7 269.8h.01M1084.1 407.9h.01M1193.4 515.9h.01M1180.6 302.5h.01M1197.6 265.7h.01M1168.0 330.0h.01M1218.1 313.8h.01M1172.8 498.2h.01M1257.6 351.4h.01M1293.7 540.9h.01M1037.9 340.8h.01M1179.7 358.1h.01M1193.9 273.7h.01M1204.4 378.1h.01M1225.0 499.6h.01M1096.2 400.8h.01M1251.8 541.1h.01M1190.6 418.1h.01M1155.4 373.9h.01M1041.3 313.4h.01M1190.5 386.9h.01M1139.5 413.9h.01M1163.2 470.4h.01M1109.7 440.4h.01M1094.4 429.1h.01M1094.3 349.7h.01M1120.5 266.2h.01M1281.4 406.5h.01M1105.7 481.6h.01M1115.6 316.8h.01M1120.2 356.0h.01M1279.7 337.3h.01M1130.2 465.9h.01M1210.5 298.0h.01M1063.2 256.3h.01M1272.5 325.3h.01M1040.1 352.9h.01M1286.3 461.6h.01M1148.0 406.8h.01M1276.9 329.8h.01M1248.9 462.1h.01M1108.4 505.5h.01M1227.3 399.0h.01M1176.5 386.9h.01M1125.3 246.2h.01M1130.6 398.2h.01M1172.1 511.5h.01M1096.6 253.9h.01M1206.7 398.0h.01M1153.4 299.1h.01M1283.2 467.5h.01M1242.1 456.3h.01M1072.7 375.9h.01M1103.3 457.4h.01M1280.2 434.2h.01M1301.8 531.4h.01M1175.9 399.3h.01M1060.6 404.5h.01M1166.9 272.2h.01M1154.6 280.4h.01M1127.1 359.5h.01M1048.4 315.9h.01M1273.6 528.5h.01M1080.0 324.7h.01M1187.9 506.8h.01M1145.9 397.2h.01M1276.1 399.6h.01M1138.5 458.2h.01M1078.9 255.1h.01M1202.0 276.9h.01M1147.8 441.2h.01M1212.3 447.2h.01M1174.7 520.6h.01M1050.4 281.4h.01M1245.5 423.0h.01M1063.5 306.6h.01M1183.9 378.8h.01M1182.0 360.1h.01M1062.5 293.2h.01M1098.5 329.8h.01M1269.0 376.0h.01M1197.5 448.9h.01M1096.6 342.0h.01M1127.6 333.5h.01M1170.9 459.7h.01M1205.4 508.2h.01M1057.8 296.6h.01M1058.8 407.2h.01M1018.4 321.5h.01M1051.9 344.6h.01M1089.4 438.7h.01M1234.8 422.7h.01M1303.0 517.2h.01M1125.6 460.9h.01M1244.3 435.0h.01M1241.0 362.9h.01M1053.1 362.7h.01M1223.0 348.7h.01M1094.7 468.7h.01M1160.8 488.2h.01M1209.6 316.9h.01M1083.2 322.9h.01M1290.7 487.5h.01M1207.5 300.5h.01M1056.2 242.4h.01M1140.7 396.6h.01M1083.1 417.7h.01M1236.7 354.8h.01M1177.0 455.9h.01M1088.8 347.5h.01M1293.0 395.3h.01M1206.8 381.8h.01M1057.9 321.4h.01M1092.1 298.1h.01M1173.1 339.4h.01M1134.3 325.9h.01M1144.1 294.0h.01M1272.2 350.8h.01M1255.8 327.0h.01M1166.1 416.1h.01M1052.6 416.2h.01M1303.1 350.2h.01M1227.4 495.4h.01M1304.6 331.5h.01M1224.8 280.5h.01M1037.9 296.8h.01M1188.9 521.5h.01M1069.2 379.6h.01M1312.8 350.0h.01M1116.6 429.1h.01M1090.6 258.4h.01M1151.6 386.8h.01M1142.8 423.5h.01M1254.9 303.5h.01M1168.2 479.1h.01M1185.6 362.8h.01M1092.9 342.0h.01M1150.1 334.5h.01M1118.8 502.2h.01M1071.2 346.7h.01M1264.0 507.5h.01M1205.2 430.1h.01M1053.2 261.1h.01M1148.9 344.0h.01M1263.9 352.3h.01M1296.8 544.6h.01M1251.7 460.2h.01M1251.9 306.4h.01M1242.0 490.2h.01M1226.6 422.1h.01M1225.8 314.5h.01M1227.5 520.1h.01M1173.4 432.4h.01M1280.8 314.8h.01M1127.7 417.8h.01M1312.4 371.3h.01M1301.8 378.0h.01M1313.8 374.9h.01M1295.7 397.2h.01M1228.6 456.9h.01M1296.5 491.6h.01M1205.3 346.4h.01M1176.9 284.9h.01M1118.6 505.8h.01M1209.0 370.4h.01M1125.9 276.6h.01M1164.6 413.2h.01M1090.1 357.5h.01M1262.5 396.8h.01M1086.1 330.1h.01M1214.9 483.5h.01M1293.0 533.9h.01M1091.9 306.6h.01M1250.3 533.3h.01M1304.4 372.4h.01M1115.9 471.6h.01M1308.1 383.6h.01M1024.4 344.1h.01M1270.1 453.3h.01M1280.6 330.3h.01M1259.7 452.1h.01M1222.1 521.5h.01M1109.7 427.9h.01M1133.0 378.1h.01M1279.6 402.2h.01M1112.1 365.9h.01M1046.4 257.6h.01M1291.6 360.3h.01M1141.1 261.4h.01M1302.3 334.7h.01M1145.4 519.0h.01M1238.8 308.9h.01M1095.7 282.3h.01M1256.1 402.1h.01M1235.2 271.4h.01M1062.5 380.4h.01M1086.9 296.2h.01M1155.9 325.4h.01M1157.8 483.5h.01M1138.7 291.1h.01M1247.2 377.8h.01M1102.4 335.8h.01M1087.6 241.8h.01M1097.3 336.4h.01M1197.1 505.2h.01M1050.8 319.8h.01M1125.4 496.5h.01M1100.9 323.9h.01M1139.1 480.0h.01M1163.5 325.7h.01M1254.0 366.2h.01M1188.4 460.1h.01M1260.2 462.2h.01M1109.4 279.2h.01M1137.1 432.3h.01M1221.6 486.3h.01M1218.8 512.4h.01M1195.8 317.8h.01M1099.2 391.9h.01M1096.1 396.0h.01M1189.5 470.6h.01M1051.8 387.4h.01M1250.4 309.5h.01M1233.1 326.7h.01M1274.1 393.4h.01M1152.5 456.9h.01M1144.6 390.9h.01M1059.5 379.3h.01M1116.1 260.3h.01M1235.8 325.6h.01M1056.1 364.6h.01M1218.7 435.1h.01M1139.8 274.2h.01M1272.4 468.3h.01M1047.0 237.8h.01M1189.9 292.0h.01M1237.0 321.5h.01M1070.5 360.7h.01M1224.5 504.8h.01M1154.9 524.4h.01M1244.9 322.8h.01M1262.6 528.6h.01M1295.2 333.8h.01M1153.3 394.2h.01M1094.1 246.7h.01M1250.2 468.0h.01M1134.6 294.4h.01M1080.8 420.3h.01M1130.6 297.8h.01M1190.7 283.8h.01M1230.7 294.8h.01M1250.6 429.6h.01M1236.7 376.3h.01M1065.1 413.8h.01M1096.6 375.6h.01M1102.6 412.6h.01M1061.8 267.8h.01M1100.6 347.9h.01M1199.0 290.5h.01M1096.5 412.0h.01M1301.0 328.3h.01M1008.9 321.2h.01M1062.0 303.0h.01M1076.0 428.7h.01M1241.9 370.9h.01M1098.0 278.8h.01M1300.3 509.1h.01M1209.5 308.3h.01M1109.8 423.4h.01M1097.0 443.3h.01M1223.6 497.3h.01M1046.3 243.9h.01M1158.2 345.4h.01M1100.9 489.7h.01M1127.1 364.3h.01M1061.5 387.0h.01M1066.5 345.9h.01M1261.8 537.8h.01M1139.9 492.6h.01M1277.5 416.7h.01M1210.8 273.2h.01M1118.1 347.8h.01M1113.8 313.6h.01M1029.0 352.6h.01M1213.3 515.9h.01M1118.0 491.2h.01M1317.5 335.3h.01M1280.6 333.0h.01M1237.6 456.5h.01M1231.1 288.7h.01M1225.2 525.2h.01M1067.4 334.9h.01M1239.4 469.1h.01M1159.5 371.9h.01M1099.2 423.4h.01M1151.6 347.6h.01M1166.2 318.6h.01M1048.6 334.1h.01M1115.2 388.5h.01M1084.9 442.0h.01M1107.3 303.4h.01M1111.3 497.0h.01M1128.0 324.9h.01M1171.7 324.5h.01M1156.3 448.7h.01M1221.4 271.9h.01M1264.7 389.7h.01M1125.6 344.0h.01M1133.3 487.6h.01M1074.7 351.2h.01M1047.9 396.0h.01M1203.2 398.7h.01M1138.1 390.2h.01M1043.2 321.6h.01M1246.5 337.0h.01M1178.9 318.7h.01M1204.4 446.1h.01M1085.4 344.6h.01M1278.1 443.5h.01M1162.0 428.8h.01M1176.7 432.5h.01M1200.1 484.5h.01M1269.6 449.8h.01M1211.9 505.3h.01M1111.0 311.6h.01M1202.0 273.5h.01M1286.0 374.0h.01M1202.0 391.1h.01M1089.5 331.8h.01M1282.0 375.6h.01M1232.6 302.5h.01M1253.1 419.2h.01M1208.3 261.9h.01M1225.8 468.4h.01M1209.1 393.0h.01M1074.9 400.1h.01M1244.4 523.5h.01M1120.5 496.7h.01M1253.5 454.0h.01M1220.3 380.2h.01M1184.8 475.7h.01M1206.4 512.4h.01M1225.5 379.3h.01M1127.9 390.3h.01M1187.1 473.5h.01M1188.2 278.4h.01M1045.7 339.8h.01M1054.7 340.5h.01M1098.8 458.5h.01M1130.9 450.4h.01M1115.5 322.0h.01M1042.1 290.7h.01M1218.2 427.3h.01M1197.7 341.6h.01M1186.4 399.4h.01M1161.0 412.3h.01M1141.4 340.2h.01M1095.8 286.7h.01M1104.3 436.5h.01M1086.2 272.2h.01M1162.7 384.8h.01M1124.5 393.9h.01M1030.3 296.9h.01M1120.7 463.9h.01M1105.8 418.9h.01M1133.9 425.2h.01M1104.8 313.6h.01M1081.3 341.2h.01M1165.0 391.2h.01M1056.4 307.6h.01M1119.3 315.7h.01M1065.4 366.5h.01M1071.3 329.2h.01M1124.4 388.0h.01M1111.3 474.6h.01M1145.5 426.8h.01M1109.9 327.8h.01M1080.0 361.8h.01M1183.6 473.0h.01M1094.4 370.9h.01M1044.4 314.9h.01M1107.7 299.4h.01M1112.6 441.5h.01M1171.1 310.7h.01M1099.9 411.5h.01M1104.8 329.9h.01M1166.9 442.2h.01M1208.3 444.7h.01M1071.4 300.0h.01M1072.5 289.7h.01M1081.1 383.4h.01M1058.4 305.3h.01M1084.7 276.6h.01M1219.0 440.9h.01M1075.6 300.7h.01M1140.6 432.9h.01M1079.2 274.8h.01M1176.6 479.6h.01M1161.2 442.9h.01M1174.7 371.0h.01M1136.0 345.6h.01M1057.0 286.9h.01M1161.3 402.8h.01M1194.8 374.7h.01M1105.7 308.5h.01M1196.0 339.3h.01M1065.7 282.0h.01M1234.9 391.1h.01M1049.7 288.6h.01M1196.2 459.9h.01M1124.4 465.3h.01M1125.6 396.8h.01M1104.4 428.7h.01M1214.4 384.5h.01M1160.8 363.1h.01M1124.0 415.0h.01M1117.6 303.9h.01M1125.3 316.1h.01M1190.8 453.1h.01M1195.1 367.2h.01M1086.0 304.7h.01M1216.4 356.4h.01M1137.8 410.0h.01M1158.4 337.9h.01M1167.5 447.9h.01M1187.5 431.6h.01M1088.3 337.4h.01M1195.0 398.4h.01M1170.6 367.3h.01M1059.9 365.3h.01M1114.6 412.4h.01M1130.8 382.3h.01M1087.6 379.6h.01M1036.0 312.1h.01M1123.6 455.4h.01M1029.0 316.6h.01M1087.7 301.4h.01M1122.9 424.9h.01M1116.2 300.2h.01M1177.1 436.7h.01M1095.2 319.4h.01M1164.7 377.8h.01M1081.5 317.3h.01M1172.1 352.1h.01M1166.2 312.7h.01M1087.7 427.0h.01M1068.7 301.4h.01M1083.8 402.7h.01M1044.0 331.1h.01M1119.5 309.6h.01M1147.0 422.0h.01M1069.8 309.2h.01M1141.7 355.1h.01M1126.2 341.1h.01M1189.4 350.6h.01M1227.4 419.4h.01M1183.3 328.7h.01M1168.4 360.4h.01M1134.4 400.0h.01M1112.4 459.8h.01M1164.3 444.0h.01M1182.5 441.6h.01M1157.6 433.4h.01M1147.5 412.2h.01M1084.2 335.9h.01M1126.3 328.0h.01M1175.9 323.7h.01M1164.8 408.7h.01M1132.4 387.2h.01M1122.3 435.1h.01M1027.0 318.6h.01M1106.7 455.7h.01M1143.1 467.5h.01M1197.6 321.5h.01M1175.1 425.9h.01M1168.3 316.6h.01M1103.1 439.3h.01M1076.5 384.0h.01M1087.0 326.9h.01M1090.9 373.0h.01M1099.7 297.3h.01M1139.8 402.9h.01M1197.6 335.5h.01M1192.6 404.0h.01M1103.6 391.7h.01M1209.1 352.5h.01M1135.2 419.2h.01M1113.6 463.3h.01M1190.7 364.7h.01M1153.3 420.8h.01M1061.6 357.8h.01M1083.1 369.8h.01M1062.7 282.4h.01M1133.3 408.6h.01M1063.7 276.6h.01M1107.9 323.5h.01M1071.8 373.0h.01M1199.9 324.6h.01M1169.8 467.7h.01M1215.1 394.3h.01M1107.1 441.1h.01M1100.9 418.8h.01M1184.4 438.9h.01M1179.6 456.5h.01M1220.8 351.6h.01M1215.8 359.3h.01M1089.7 367.3h.01M1150.9 471.4h.01M1162.1 407.2h.01M1077.7 331.6h.01M1150.2 328.5h.01M1207.0 403.6h.01M1131.9 312.9h.01M1204.4 425.4h.01M1120.7 385.3h.01M1088.0 319.3h.01M1107.9 399.6h.01M1198.9 412.4h.01M1158.8 475.1h.01M1133.9 381.2h.01M1104.5 416.6h.01M1102.4 286.0h.01M1043.8 278.2h.01M1162.9 450.7h.01M1093.4 315.3h.01M1139.8 448.4h.01M1116.0 396.4h.01M1139.3 323.4h.01M1196.5 354.8h.01M1208.0 361.6h.01M1204.4 422.2h.01M1118.5 402.5h.01M1066.9 385.9h.01M1174.0 331.6h.01M1149.1 458.0h.01M1118.4 446.1h.01M1064.3 327.3h.01M1151.3 424.8h.01M1145.2 322.3h.01M1118.7 408.8h.01M1117.0 355.3h.01M1193.6 333.2h.01M1113.7 303.9h.01M1084.5 302.3h.01M1044.7 284.2h.01M1200.3 441.1h.01M1187.4 428.5h.01M1116.4 399.0h.01M1133.5 441.4h.01M1182.5 367.7h.01M1115.5 324.9h.01M1177.5 447.9h.01M1212.1 430.0h.01M1045.6 294.0h.01M1214.4 412.4h.01M1065.2 287.1h.01M1124.8 385.0h.01M1203.2 366.1h.01M1149.6 369.8h.01M1108.1 391.9h.01M1127.7 318.3h.01M1159.7 431.4h.01M1160.1 390.7h.01M1193.7 423.3h.01M1081.1 389.7h.01M1084.9 358.0h.01M1076.1 322.4h.01M1166.1 469.2h.01M1131.2 439.9h.01M1123.2 449.6h.01M1152.1 439.9h.01M1114.2 407.4h.01M1167.1 427.3h.01M1155.2 430.5h.01M1160.2 387.1h.01M1160.5 448.8h.01M1088.3 384.8h.01M1136.0 306.1h.01M1188.4 441.1h.01M1168.7 337.1h.01M1107.1 286.3h.01M1209.2 423.8h.01M1096.0 312.9h.01M1049.6 322.9h.01M1123.7 287.7h.01M1125.3 439.1h.01M1035.9 316.6h.01M1205.1 374.1h.01M1161.5 322.3h.01M1190.4 328.2h.01M1118.7 440.8h.01M1046.8 305.5h.01M1174.0 449.5h.01M1143.1 400.3h.01M1123.4 325.8h.01M1043.7 275.0h.01M1091.5 417.0h.01M1191.5 455.8h.01M1064.4 358.6h.01M1024.3 302.8h.01M1187.1 467.0h.01M1150.9 405.0h.01M1202.8 352.9h.01M1232.3 407.9h.01M1069.8 404.5h.01M1068.3 349.9h.01M1139.9 368.3h.01M1181.1 355.1h.01M1178.6 471.3h.01M1177.0 359.2h.01M1193.7 393.3h.01M1087.5 315.2h.01M1105.6 446.5h.01M1156.8 342.4h.01M1059.5 376.4h.01M1031.9 290.7h.01M1054.9 302.5h.01M1077.7 299.0h.01M1144.9 383.4h.01M1099.0 287.2h.01M1208.3 413.9h.01M1186.1 332.0h.01M1117.4 312.8h.01M1068.1 290.9h.01M1134.1 310.8h.01M1184.8 409.7h.01M1214.9 400.9h.01M1282.7 314.3h.01M1280.0 324.0h.01M1320.7 338.3h.01M1218.2 532.1h.01M1191.7 539.7h.01M1169.6 534.5h.01M1182.3 547.2h.01M1178.5 532.9h.01M1199.6 546.0h.01M1201.6 553.8h.01M1203.2 559.9h.01M1197.6 539.6h.01M1136.5 522.2h.01M1178.3 539.8h.01M1194.8 565.2h.01M1204.9 549.0h.01M1212.5 539.9h.01M1152.7 570.0h.01M1161.7 564.0h.01M1169.3 578.7h.01M1290.9 561.5h.01M1291.1 556.4h.01M1291.1 567.4h.01M1286.0 568.5h.01M1285.5 575.7h.01M1293.6 576.7h.01M1283.8 548.3h.01M1294.0 549.0h.01M1288.0 550.7h.01M1295.5 569.4h.01M1296.5 558.7h.01M1285.8 555.4h.01M1285.3 561.9h.01M1285.7 581.4h.01M1291.1 572.2h.01M1280.6 570.1h.01M1293.4 582.1h.01M1306.1 600.7h.01M1308.7 582.9h.01M1303.0 606.8h.01M1301.6 589.7h.01M1293.4 593.9h.01M1280.2 590.8h.01M1284.4 610.1h.01M1292.9 600.5h.01M1301.9 630.6h.01M1297.5 611.5h.01M1309.6 622.9h.01M1296.5 604.9h.01M1324.5 584.6h.01M1279.9 602.1h.01M1310.2 606.8h.01M1299.3 577.8h.01M1300.5 616.6h.01M1287.3 602.8h.01M1265.5 558.2h.01M1304.9 577.8h.01M1318.5 615.4h.01M1293.8 620.1h.01M1286.9 593.0h.01M1310.0 589.4h.01M1287.8 617.5h.01M1314.5 570.5h.01M1289.4 627.1h.01M1307.1 594.4h.01M1301.1 584.1h.01M1300.5 595.2h.01M1311.8 631.1h.01M1315.2 577.1h.01M1316.7 606.3h.01M1290.9 588.4h.01M1297.8 625.7h.01M1293.4 625.1h.01M1284.6 620.0h.01M1300.7 635.6h.01M1281.8 616.3h.01M1307.7 627.5h.01M1304.5 620.6h.01M1303.5 624.7h.01M1307.3 632.2h.01M1290.2 622.1h.01M1294.0 632.1h.01M1316.2 626.7h.01M1287.4 613.3h.01M1292.2 616.3h.01M1234.4 620.5h.01M1223.0 630.0h.01M1239.4 569.9h.01M1242.5 581.0h.01M1241.7 602.8h.01M1243.7 610.0h.01M1246.9 593.0h.01M1240.4 595.7h.01M1251.8 595.0h.01M1235.8 611.8h.01M1236.9 579.6h.01M1224.4 577.4h.01M1233.8 573.3h.01M1237.3 624.9h.01M1240.4 589.9h.01M1229.8 628.0h.01M1236.5 605.4h.01M1228.9 615.3h.01M1247.9 582.6h.01M1245.4 573.1h.01M1232.7 634.3h.01M1235.3 594.9h.01M1226.0 582.4h.01M1226.8 622.4h.01M1231.3 601.5h.01M1234.7 647.1h.01M1225.5 572.3h.01M1254.8 581.1h.01M1251.2 587.3h.01M1230.1 587.1h.01M1231.7 578.8h.01M1250.0 601.3h.01M1250.3 575.9h.01M1235.5 584.6h.01M1256.9 589.0h.01M1247.2 605.5h.01M1242.6 649.3h.01M1254.8 653.5h.01M1248.6 658.1h.01M1253.1 662.7h.01M1248.0 669.2h.01M1244.5 644.1h.01M1253.2 668.9h.01M1243.0 655.4h.01M1249.0 673.4h.01M1246.0 652.5h.01M1249.5 664.6h.01M1247.4 678.1h.01M1249.7 648.0h.01M1259.0 571.0h.01M1252.0 580.0h.01M1262.0 594.0h.01M1266.0 600.0h.01M1274.0 602.0h.01M1278.0 608.0h.01M1260.0 600.0h.01M1250.0 601.0h.01M1246.0 611.0h.01M1330.0 609.0h.01M1338.0 608.0h.01M1339.0 618.0h.01M1325.0 621.4h.01M1342.0 638.0h.01M1363.0 640.0h.01M1387.0 644.0h.01M1348.0 648.0h.01M1341.0 651.0h.01M1358.0 654.0h.01M1387.0 657.0h.01M1390.0 654.0h.01M1395.0 651.0h.01M1400.0 650.0h.01M1404.0 652.0h.01M1403.0 657.0h.01M1401.0 661.0h.01M1304.0 529.0h.01M1162.0 564.0h.01M1153.0 571.0h.01M1169.0 578.6h.01M1189.0 557.0h.01M1199.0 563.0h.01M1195.0 568.0h.01M1198.0 571.6h.01M1203.0 550.4h.01M1183.0 550.0h.01M1289.8 655.5h.01M1310.4 653.8h.01M1281.3 652.2h.01M1290.4 649.8h.01M1313.9 636.4h.01M1315.0 649.8h.01M1332.4 654.9h.01M1305.7 643.5h.01M1323.7 645.5h.01M1276.6 641.7h.01M1283.7 646.9h.01M1280.8 659.8h.01M1281.9 637.6h.01M1340.8 655.9h.01M1301.3 644.7h.01M1325.4 652.7h.01M1295.2 646.6h.01M1327.9 642.5h.01M1278.2 623.4h.01M1271.4 633.3h.01M1275.7 628.8h.01M1385.9 687.4h.01M1313.2 686.8h.01M1233.1 745.5h.01M1321.8 750.7h.01M1316.3 747.5h.01M1258.3 720.4h.01M1375.3 757.3h.01M1299.1 787.7h.01M1370.3 771.0h.01M1301.5 691.0h.01M1390.5 774.1h.01M1276.8 707.0h.01M1285.8 679.1h.01M1387.9 742.2h.01M1370.3 712.6h.01M1282.6 820.6h.01M1304.5 693.9h.01M1389.2 661.9h.01M1411.4 690.4h.01M1306.9 791.8h.01M1309.7 804.6h.01M1260.7 790.1h.01M1277.7 731.5h.01M1258.3 751.9h.01M1354.8 732.3h.01M1368.5 739.6h.01M1258.3 684.3h.01M1253.9 747.5h.01M1306.2 798.6h.01M1393.8 677.7h.01M1407.1 722.8h.01M1258.0 771.1h.01M1259.3 806.2h.01M1232.7 752.1h.01M1364.0 758.7h.01M1308.6 685.5h.01M1296.5 698.3h.01M1364.0 774.1h.01M1250.2 679.6h.01M1334.7 661.1h.01M1273.5 774.7h.01M1379.1 728.3h.01M1251.0 791.5h.01M1346.0 753.2h.01M1322.0 690.4h.01M1313.6 788.8h.01M1274.3 810.3h.01M1334.4 671.7h.01M1265.4 741.3h.01M1342.3 672.5h.01M1411.6 708.2h.01M1296.5 768.9h.01M1281.4 713.7h.01M1386.2 690.7h.01M1234.7 760.3h.01M1413.9 731.8h.01M1408.7 679.5h.01M1312.8 673.3h.01M1332.1 768.0h.01M1282.7 698.3h.01M1381.8 709.0h.01M1235.9 757.5h.01M1236.1 795.9h.01M1260.5 681.3h.01M1374.2 674.2h.01M1394.6 712.8h.01M1258.7 671.4h.01M1348.5 721.1h.01M1271.5 793.8h.01M1258.5 759.2h.01M1322.0 659.2h.01M1336.4 687.6h.01M1359.1 720.8h.01M1301.5 684.7h.01M1298.9 794.9h.01M1410.2 693.4h.01M1411.8 700.6h.01M1268.1 706.4h.01M1252.7 796.3h.01M1344.1 696.0h.01M1331.5 721.1h.01M1316.4 717.8h.01M1263.4 688.7h.01M1363.4 705.1h.01M1312.6 799.2h.01M1350.0 662.6h.01M1275.1 683.8h.01M1228.4 788.7h.01M1364.3 749.0h.01M1275.3 716.7h.01M1398.9 656.2h.01M1268.0 688.2h.01M1258.0 698.9h.01M1327.2 751.2h.01M1254.5 800.1h.01M1242.9 790.4h.01M1336.7 782.8h.01M1347.3 661.1h.01M1271.4 802.8h.01M1325.8 729.2h.01M1364.7 722.8h.01M1297.4 715.9h.01M1296.3 781.0h.01M1375.0 730.6h.01M1270.2 696.3h.01M1279.3 752.7h.01M1350.2 714.9h.01M1351.3 665.6h.01M1309.4 731.7h.01M1336.5 726.1h.01M1270.1 746.4h.01M1338.4 743.6h.01M1251.2 773.4h.01M1294.1 716.2h.01M1328.6 759.1h.01M1267.1 713.4h.01M1300.7 749.4h.01M1339.9 670.1h.01M1339.1 777.0h.01M1354.9 720.5h.01M1280.1 769.9h.01M1310.1 691.8h.01M1253.8 680.2h.01M1275.2 772.2h.01M1247.2 744.0h.01M1373.2 711.2h.01M1382.8 770.4h.01M1265.2 749.9h.01M1253.5 740.6h.01M1370.7 704.4h.01M1312.5 669.9h.01M1380.6 675.7h.01M1403.2 698.8h.01M1317.8 709.8h.01M1359.0 659.6h.01M1300.6 727.5h.01M1347.5 776.8h.01M1389.6 712.0h.01M1275.2 781.7h.01M1238.8 745.7h.01M1412.5 681.0h.01M1341.3 711.4h.01M1298.3 802.8h.01M1406.3 698.5h.01M1350.0 693.5h.01M1380.5 668.6h.01M1268.7 767.0h.01M1309.6 778.8h.01M1321.5 779.9h.01M1318.2 727.7h.01M1338.1 729.3h.01M1310.6 675.3h.01M1395.9 725.2h.01M1291.8 743.6h.01M1368.5 669.4h.01M1407.1 720.2h.01M1329.6 708.7h.01M1343.1 774.6h.01M1279.4 775.0h.01M1403.2 715.3h.01M1392.5 751.3h.01M1262.4 788.0h.01M1312.6 768.1h.01M1280.0 765.6h.01M1356.4 662.2h.01M1381.4 763.4h.01M1287.4 719.7h.01M1373.9 737.4h.01M1293.2 734.2h.01M1315.4 731.0h.01M1398.4 686.2h.01M1336.5 722.1h.01M1262.3 673.5h.01M1368.5 691.2h.01M1341.1 771.4h.01M1342.6 731.7h.01M1333.3 750.2h.01M1281.2 678.5h.01M1405.2 672.5h.01M1242.9 783.7h.01M1310.7 764.4h.01M1302.3 665.4h.01M1244.5 793.6h.01M1399.5 752.5h.01M1322.5 725.2h.01M1354.8 753.1h.01M1316.9 685.0h.01M1271.4 755.1h.01M1379.1 746.6h.01M1387.1 755.5h.01M1341.3 721.3h.01M1287.8 753.7h.01M1393.0 653.4h.01M1251.5 689.7h.01M1376.9 697.3h.01M1291.0 668.9h.01M1303.3 711.7h.01M1383.2 670.3h.01M1266.7 716.8h.01M1316.6 741.7h.01M1253.9 736.6h.01M1371.6 747.6h.01M1287.9 689.7h.01M1370.0 733.9h.01M1265.5 808.3h.01M1375.6 717.5h.01M1365.4 727.0h.01M1345.6 664.6h.01M1387.4 704.2h.01M1296.6 721.4h.01M1342.0 707.5h.01M1402.9 740.4h.01M1274.5 688.5h.01M1340.5 756.2h.01M1319.5 702.2h.01M1341.5 744.2h.01M1286.2 717.2h.01M1278.8 795.7h.01M1304.3 737.3h.01M1338.8 769.9h.01M1316.6 668.4h.01M1380.0 703.0h.01M1242.6 750.4h.01M1396.1 662.9h.01M1261.1 748.2h.01M1290.0 749.5h.01M1368.8 719.1h.01M1323.9 704.7h.01M1329.1 714.2h.01M1396.6 695.0h.01M1341.2 785.1h.01M1346.8 669.5h.01M1286.2 775.9h.01M1278.7 819.4h.01M1392.7 741.2h.01M1405.5 679.0h.01M1303.6 791.3h.01M1280.3 739.1h.01M1338.0 673.8h.01M1283.0 764.3h.01M1323.1 768.4h.01M1250.3 777.3h.01M1324.9 754.8h.01M1287.8 814.7h.01M1261.0 799.8h.01M1390.3 762.4h.01M1276.3 817.4h.01M1272.7 706.3h.01M1340.5 740.1h.01M1279.3 681.4h.01M1340.5 737.3h.01M1291.6 736.3h.01M1395.8 734.1h.01M1375.0 714.3h.01M1268.6 750.1h.01M1380.5 679.3h.01M1312.9 681.4h.01M1318.7 663.3h.01M1372.0 750.6h.01M1332.1 710.9h.01M1346.0 732.7h.01M1379.8 766.9h.01M1221.1 782.5h.01M1399.5 712.0h.01M1305.2 764.5h.01M1265.2 755.1h.01M1243.7 767.7h.01M1360.2 733.7h.01M1260.4 736.2h.01M1245.8 751.6h.01M1258.0 803.9h.01M1290.2 690.9h.01M1335.2 735.6h.01M1327.3 674.9h.01M1308.9 742.1h.01M1366.6 733.2h.01M1383.9 700.9h.01M1365.8 746.9h.01M1268.0 719.5h.01M1327.2 720.8h.01M1226.1 775.3h.01M1280.4 781.9h.01M1297.5 738.0h.01M1344.4 759.8h.01M1318.2 790.6h.01M1378.8 754.8h.01M1333.9 665.3h.01M1294.8 818.0h.01M1416.5 687.2h.01M1296.2 753.0h.01M1267.7 815.3h.01M1309.6 688.0h.01M1262.1 776.9h.01M1281.9 797.4h.01M1357.3 692.6h.01M1310.7 748.5h.01M1343.9 755.4h.01M1317.7 776.6h.01M1343.8 712.8h.01M1307.5 802.0h.01M1332.0 685.2h.01M1297.3 777.7h.01M1382.8 691.6h.01M1354.5 671.2h.01M1291.1 812.1h.01M1269.2 757.7h.01M1347.6 766.3h.01M1252.2 789.0h.01M1257.0 748.3h.01M1312.8 756.7h.01M1254.5 754.0h.01M1253.6 696.6h.01M1319.7 682.2h.01M1276.9 754.2h.01M1355.4 726.8h.01M1377.3 707.2h.01M1286.0 792.6h.01M1261.2 757.6h.01M1335.3 769.6h.01M1306.2 731.0h.01M1281.1 817.7h.01M1262.3 761.9h.01M1327.6 682.6h.01M1277.5 665.1h.01M1400.2 707.5h.01M1356.9 730.7h.01M1400.8 720.3h.01M1286.0 674.3h.01M1348.6 705.2h.01M1290.5 712.7h.01M1299.6 687.2h.01M1337.3 739.2h.01M1285.6 734.5h.01M1335.9 775.6h.01M1254.8 757.1h.01M1274.7 764.7h.01M1346.8 714.3h.01M1288.7 784.4h.01M1423.4 681.3h.01M1315.3 708.0h.01M1355.7 776.9h.01M1302.3 701.0h.01M1330.0 668.9h.01M1358.0 769.4h.01M1278.8 672.7h.01M1320.8 686.2h.01M1320.6 753.5h.01M1311.4 726.6h.01M1248.2 753.6h.01M1322.6 674.2h.01M1355.4 704.3h.01M1282.2 675.4h.01M1269.0 727.1h.01M1359.1 667.8h.01M1385.7 697.2h.01M1389.7 675.5h.01M1388.2 684.5h.01M1372.6 684.0h.01M1401.5 754.8h.01M1404.1 703.0h.01M1326.8 791.9h.01M1376.1 710.7h.01M1405.8 676.1h.01M1351.8 741.2h.01M1243.2 738.2h.01M1321.7 666.1h.01M1267.5 760.4h.01M1274.5 680.3h.01M1250.9 734.2h.01M1234.2 773.0h.01M1302.8 707.7h.01M1315.2 779.2h.01M1390.9 729.6h.01M1224.0 787.7h.01M1393.9 658.9h.01M1320.8 738.7h.01M1385.9 676.1h.01M1316.8 700.9h.01M1326.0 776.4h.01M1324.2 778.8h.01M1351.0 656.8h.01M1285.7 739.2h.01M1282.8 742.7h.01M1402.8 693.3h.01M1368.8 679.4h.01M1346.9 781.1h.01M1359.7 662.4h.01M1260.9 715.7h.01M1414.9 697.2h.01M1273.4 692.1h.01M1408.2 684.3h.01M1391.3 687.6h.01M1304.2 755.4h.01M1289.8 817.9h.01M1308.9 724.9h.01M1319.5 722.6h.01M1277.6 677.8h.01M1333.1 728.9h.01M1412.3 665.5h.01M1314.4 760.2h.01M1395.4 704.1h.01M1355.7 764.8h.01M1353.7 758.2h.01M1323.4 738.0h.01M1365.7 743.7h.01M1412.8 714.4h.01M1358.4 665.0h.01M1304.8 667.4h.01M1361.7 668.7h.01M1371.3 761.9h.01M1419.1 700.4h.01M1314.0 754.0h.01M1309.1 716.1h.01M1377.2 701.9h.01M1307.5 746.9h.01M1324.3 661.3h.01M1239.3 768.6h.01M1355.2 687.2h.01M1311.0 774.1h.01M1311.4 702.8h.01M1263.6 806.4h.01M1271.9 785.6h.01M1326.3 707.4h.01M1285.9 723.4h.01M1377.3 740.5h.01M1294.2 674.7h.01M1270.1 812.5h.01M1277.8 799.4h.01M1381.5 687.7h.01M1379.5 696.7h.01M1239.5 759.3h.01M1379.3 715.4h.01M1277.9 788.4h.01M1268.1 692.0h.01M1391.6 698.1h.01M1405.5 729.7h.01M1259.1 704.2h.01M1382.5 659.4h.01M1242.4 765.3h.01M1368.0 757.3h.01M1291.7 823.7h.01M1337.5 691.2h.01M1316.5 765.5h.01M1389.5 767.9h.01M1389.9 719.1h.01M1278.4 813.3h.01M1244.2 756.5h.01M1356.6 735.6h.01M1270.2 797.2h.01M1263.5 737.2h.01M1297.0 807.5h.01M1262.2 670.7h.01M1274.0 750.4h.01M1347.9 761.4h.01M1369.7 699.8h.01M1286.3 822.5h.01M1329.1 786.4h.01M1296.5 744.0h.01M1380.6 700.1h.01M1365.0 780.1h.01M1336.6 714.8h.01M1394.8 700.8h.01M1379.6 742.2h.01M1371.7 662.9h.01M1356.3 789.4h.01M1448.4 818.8h.01M1425.3 772.0h.01M1299.5 824.6h.01M1329.1 825.6h.01M1452.0 799.7h.01M1358.7 783.0h.01M1363.3 799.7h.01M1399.1 764.0h.01M1483.5 822.1h.01M1345.3 837.7h.01M1414.3 757.4h.01M1445.6 739.2h.01M1451.5 762.8h.01M1383.8 777.1h.01M1318.6 812.0h.01M1455.9 776.7h.01M1361.1 817.2h.01M1304.0 820.2h.01M1386.9 828.9h.01M1351.6 787.7h.01M1394.7 818.1h.01M1370.9 792.8h.01M1431.0 755.0h.01M1433.4 782.0h.01M1438.0 774.8h.01M1424.6 761.0h.01M1410.8 817.4h.01M1397.5 824.0h.01M1285.5 826.2h.01M1322.8 814.4h.01M1449.1 772.4h.01M1326.9 813.3h.01M1315.1 819.5h.01M1442.0 793.9h.01M1379.3 780.6h.01M1401.7 781.6h.01M1423.0 751.5h.01M1431.4 765.4h.01M1443.1 729.7h.01M1409.2 794.6h.01M1417.3 775.7h.01M1344.3 805.7h.01M1456.6 785.0h.01M1446.8 795.3h.01M1386.6 790.9h.01M1374.2 803.1h.01M1462.4 813.9h.01M1430.1 827.9h.01M1387.1 798.7h.01M1331.4 833.8h.01M1285.3 833.6h.01M1376.3 786.1h.01M1326.7 808.3h.01M1302.3 828.3h.01M1404.7 827.6h.01M1437.2 737.0h.01M1317.1 824.6h.01M1443.3 747.6h.01M1419.0 769.2h.01M1350.9 778.2h.01M1369.4 779.0h.01M1326.1 803.8h.01M1442.3 810.8h.01M1399.0 788.9h.01M1430.6 711.9h.01M1392.9 825.5h.01M1422.7 786.5h.01M1394.5 794.9h.01M1374.3 821.1h.01M1430.8 815.2h.01M1460.8 766.4h.01M1374.3 780.9h.01M1459.7 824.3h.01M1409.2 785.0h.01M1424.3 793.0h.01M1467.6 812.6h.01M1476.3 812.3h.01M1378.5 828.2h.01M1427.4 821.4h.01M1289.3 836.0h.01M1448.0 811.4h.01M1439.8 764.0h.01M1404.7 777.7h.01M1435.8 731.7h.01M1414.2 809.1h.01M1384.0 821.4h.01M1489.3 815.4h.01M1431.3 707.5h.01M1336.1 814.1h.01M1394.2 770.8h.01M1461.9 748.7h.01M1340.1 815.1h.01M1397.8 832.2h.01M1432.5 821.0h.01M1318.3 804.4h.01M1449.7 751.8h.01M1423.8 728.7h.01M1381.5 801.5h.01M1467.6 798.8h.01M1456.6 791.5h.01M1421.3 696.4h.01M1381.8 789.7h.01M1475.2 786.2h.01M1480.0 825.4h.01M1457.9 808.0h.01M1414.5 723.5h.01M1432.4 797.6h.01M1409.4 769.6h.01M1416.9 763.7h.01M1457.9 796.5h.01M1409.9 780.3h.01M1425.4 740.5h.01M1447.0 746.2h.01M1431.7 732.6h.01M1364.4 794.5h.01M1274.0 825.6h.01M1358.2 802.9h.01M1413.6 728.2h.01M1353.8 818.5h.01M1382.5 796.1h.01M1431.7 774.1h.01M1408.4 741.1h.01M1439.3 721.3h.01M1296.3 830.7h.01M1465.9 819.9h.01M1404.3 763.5h.01M1238.8 765.6h.01M1273.9 702.0h.01M1274.2 724.0h.01M1286.8 787.4h.01M1273.7 733.1h.01M1385.1 715.1h.01M1277.8 779.0h.01M1306.2 772.7h.01M1268.9 753.0h.01M1365.2 684.6h.01M1247.1 796.6h.01M1366.2 754.9h.01M1315.0 763.6h.01M1359.0 682.9h.01M1267.9 708.8h.01M1284.9 767.6h.01M1272.3 686.8h.01M1307.5 780.5h.01M1287.4 763.7h.01M1385.0 711.5h.01M1390.7 700.5h.01M1297.9 757.8h.01M1361.9 725.0h.01M1291.7 781.0h.01M1339.7 733.7h.01M1278.2 726.7h.01M1390.0 705.7h.01M1280.7 684.4h.01M1305.6 686.6h.01M1345.5 709.5h.01M1335.9 702.7h.01M1313.7 732.7h.01M1297.2 708.9h.01M1325.3 768.9h.01M1324.6 680.1h.01M1287.9 706.0h.01M1281.7 774.7h.01M1312.9 677.3h.01M1337.4 683.7h.01M1291.9 807.6h.01M1273.7 756.0h.01M1323.5 671.6h.01M1251.7 782.1h.01M1257.5 789.1h.01M1328.5 732.2h.01M1278.5 674.9h.01M1313.0 695.7h.01M1283.9 692.3h.01M1276.1 783.9h.01M1348.2 742.8h.01M1396.1 710.1h.01M1292.3 771.0h.01M1263.8 790.1h.01M1292.9 788.5h.01M1238.3 776.8h.01M1280.5 702.3h.01M1274.5 719.4h.01M1329.9 695.9h.01M1229.6 767.0h.01M1358.9 736.1h.01M1261.8 779.0h.01M1282.3 736.8h.01M1401.2 713.8h.01M1279.0 808.0h.01M1343.4 768.5h.01M1346.0 746.0h.01M1295.6 711.7h.01M1319.4 758.4h.01M1249.9 748.4h.01M1392.1 744.9h.01M1341.3 765.5h.01M1271.1 800.5h.01M1271.1 722.0h.01M1301.4 732.4h.01M1283.5 682.4h.01M1259.4 776.5h.01M1321.6 730.6h.01M1345.2 725.6h.01M1390.1 723.5h.01M1394.7 683.9h.01M1277.0 734.8h.01M1309.5 767.9h.01M1298.1 775.4h.01M1364.6 701.6h.01M1299.7 792.5h.01M1263.5 802.9h.01M1298.5 676.8h.01M1270.3 707.6h.01M1350.0 728.7h.01M1373.2 693.4h.01M1403.5 747.0h.01M1348.7 696.2h.01M1306.1 708.9h.01M1335.3 675.4h.01M1330.1 674.1h.01M1337.4 763.7h.01M1343.7 748.6h.01M1317.3 692.4h.01M1299.3 753.0h.01M1352.5 689.2h.01M1328.7 781.1h.01M1314.3 718.7h.01M1300.9 714.6h.01M1355.6 723.9h.01M1260.8 793.9h.01M1356.5 682.9h.01M1317.8 752.1h.01M1291.9 752.2h.01M1246.8 763.2h.01M1348.2 707.8h.01M1403.4 709.0h.01M1277.2 680.0h.01M1334.1 759.9h.01M1375.9 754.7h.01M1372.3 722.5h.01M1283.1 701.4h.01M1374.9 688.9h.01M1277.2 747.1h.01M1405.3 689.9h.01M1290.2 762.5h.01M1387.1 694.8h.01M1297.8 705.1h.01M1330.2 755.3h.01M1369.1 766.9h.01M1306.1 723.9h.01M1355.3 709.8h.01M1355.2 674.9h.01M1284.8 668.4h.01M1290.4 787.1h.01M1371.1 739.0h.01M1277.1 802.8h.01M1261.3 685.6h.01M1303.7 750.9h.01M1396.0 743.3h.01M1353.6 717.8h.01M1294.0 748.3h.01M1281.5 730.4h.01M1401.2 716.7h.01M1276.2 690.0h.01M1285.8 695.6h.01M1360.4 748.7h.01M1315.1 682.0h.01M1326.9 753.6h.01M1377.0 682.1h.01M1268.3 790.3h.01M1332.7 735.5h.01M1294.4 690.1h.01M1277.1 709.5h.01M1290.6 794.8h.01M1235.3 776.2h.01M1323.0 747.9h.01M1294.4 795.5h.01M1257.3 784.3h.01M1344.9 676.8h.01M1288.6 709.2h.01M1287.3 809.0h.01M1265.9 705.8h.01M1381.7 717.8h.01M1343.1 686.0h.01M1366.6 767.9h.01M1365.3 712.7h.01M1322.1 712.6h.01M1379.2 708.8h.01M1348.2 690.7h.01M1384.3 730.8h.01M1292.8 699.3h.01M1321.0 672.1h.01M1333.3 715.9h.01M1240.6 792.5h.01M1305.9 759.7h.01M1286.4 804.9h.01M1241.4 774.3h.01M1380.7 712.0h.01M1342.6 738.5h.01M1384.7 725.0h.01M1311.2 780.6h.01M1306.7 714.1h.01M1357.8 757.1h.01M1368.6 709.7h.01M1266.6 745.0h.01M1317.8 780.7h.01M1303.6 703.5h.01M1296.6 701.2h.01M1282.9 769.4h.01M1325.3 723.8h.01M1327.4 742.0h.01M1371.8 731.1h.01M1323.9 695.4h.01M1301.2 675.0h.01M1268.5 681.7h.01M1392.8 702.0h.01M1300.8 693.2h.01M1496.0 776.0h.01M1489.3 778.1h.01M1492.0 789.3h.01M1190.7 821.3h.01M1226.7 840.8h.01M1248.0 832.8h.01M1548.3 1050.0h.01M1359.0 1142.2h.01M1514.6 997.5h.01M1412.8 1064.4h.01M1465.0 895.4h.01M1420.1 878.3h.01M1479.6 1095.5h.01M1563.1 1062.6h.01M1474.1 1027.1h.01M1461.7 1007.5h.01M1537.6 1044.4h.01M1376.7 1044.5h.01M1493.4 1047.8h.01M1499.0 900.0h.01M1573.4 1061.5h.01M1548.8 1080.9h.01M1525.2 979.4h.01M1490.0 1029.1h.01M1456.9 914.5h.01M1415.9 1031.4h.01M1359.8 1070.1h.01M1537.5 1006.0h.01M1470.4 831.5h.01M1382.1 835.6h.01M1407.4 1027.6h.01M1563.2 907.0h.01M1526.6 1004.4h.01M1411.8 975.5h.01M1317.1 1046.8h.01M1385.4 970.6h.01M1365.9 1104.7h.01M1561.6 845.2h.01M1375.2 1125.5h.01M1455.0 910.9h.01M1262.9 962.6h.01M1354.0 1149.1h.01M1416.3 938.0h.01M1541.3 1074.7h.01M1422.4 1063.2h.01M1350.6 1106.7h.01M1390.3 903.8h.01M1470.4 1147.3h.01M1482.0 1101.1h.01M1514.6 1058.5h.01M1362.1 844.5h.01M1512.6 1148.1h.01M1363.9 1081.9h.01M1514.3 908.6h.01M1497.5 930.7h.01M1495.3 892.1h.01M1497.6 1087.2h.01M1486.2 1140.8h.01M1416.3 1054.6h.01M1502.2 1127.1h.01M1330.7 972.5h.01M1533.7 845.7h.01M1438.7 831.0h.01M1458.7 949.1h.01M1488.4 946.9h.01M1374.6 890.0h.01M1295.2 963.4h.01M1296.4 1015.7h.01M1511.1 1159.3h.01M1482.2 983.5h.01M1335.1 1057.9h.01M1373.5 939.8h.01M1329.5 908.8h.01M1285.0 1038.3h.01M1379.9 924.5h.01M1483.4 899.2h.01M1424.1 1044.7h.01M1437.9 1014.6h.01M1401.4 1132.3h.01M1578.7 878.2h.01M1468.1 1152.3h.01M1561.8 1082.7h.01M1397.0 1089.8h.01M1514.6 923.7h.01M1424.4 1052.4h.01M1470.4 1113.9h.01M1452.1 1102.7h.01M1505.7 1117.9h.01M1480.1 1029.8h.01M1433.0 967.2h.01M1411.2 851.4h.01M1475.0 1067.0h.01M1418.4 1028.3h.01M1394.6 1068.3h.01M1424.5 1113.9h.01M1516.7 1034.8h.01M1476.8 915.9h.01M1355.3 894.8h.01M1364.9 925.8h.01M1499.8 881.3h.01M1452.0 986.6h.01M1402.7 865.7h.01M1451.2 1084.2h.01M1487.3 1068.0h.01M1554.7 980.1h.01M1436.5 1060.8h.01M1502.1 887.9h.01M1567.9 966.8h.01M1294.9 1066.3h.01M1289.7 894.1h.01M1442.4 1098.2h.01M1443.2 924.8h.01M1450.5 1031.8h.01M1390.7 1012.7h.01M1582.6 970.2h.01M1453.2 1115.6h.01M1324.6 1053.7h.01M1378.8 1114.4h.01M1521.9 1032.5h.01M1358.0 1012.0h.01M1448.3 1015.5h.01M1279.1 972.0h.01M1511.6 946.1h.01M1507.6 1037.5h.01M1521.0 863.1h.01M1290.2 971.0h.01M1461.2 920.6h.01M1512.0 1119.4h.01M1315.3 1084.2h.01M1510.7 867.9h.01M1577.2 881.7h.01M1344.6 1088.9h.01M1471.1 963.3h.01M1331.8 886.8h.01M1556.0 874.5h.01M1404.4 835.6h.01M1443.4 1004.5h.01M1437.8 1112.6h.01M1388.4 982.7h.01M1445.5 1030.8h.01M1572.9 862.1h.01M1543.7 1083.9h.01M1383.2 1105.4h.01M1342.5 954.4h.01M1348.0 899.9h.01M1525.2 855.1h.01M1436.5 942.2h.01M1299.1 1000.6h.01M1473.6 818.9h.01M1535.2 999.0h.01M1417.9 944.9h.01M1398.4 1104.2h.01M1492.5 832.4h.01M1306.3 888.0h.01M1429.5 831.8h.01M1319.1 974.9h.01M1390.3 1134.8h.01M1410.4 1176.0h.01M1525.3 1013.1h.01M1477.1 1041.0h.01M1350.4 1125.6h.01M1542.1 852.6h.01M1362.9 1149.7h.01M1537.5 1080.3h.01M1493.4 1021.4h.01M1537.7 917.0h.01M1536.0 853.7h.01M1281.1 929.1h.01M1558.9 867.7h.01M1534.1 909.2h.01M1514.3 978.9h.01M1309.3 1053.3h.01M1383.5 926.9h.01M1483.5 912.9h.01M1430.2 1153.4h.01M1429.6 1127.3h.01M1434.8 1129.9h.01M1476.1 885.8h.01M1374.6 909.2h.01M1427.5 1117.5h.01M1519.4 942.5h.01M1271.2 1006.5h.01M1545.6 1057.4h.01M1328.4 1038.9h.01M1516.2 1147.0h.01M1489.2 883.1h.01M1448.3 1102.7h.01M1364.3 1141.6h.01M1393.9 1020.9h.01M1447.4 851.8h.01M1542.7 855.2h.01M1564.9 843.5h.01M1524.4 929.2h.01M1452.3 886.8h.01M1531.9 874.9h.01M1324.4 865.6h.01M1503.8 1076.9h.01M1351.8 920.8h.01M1456.5 864.0h.01M1373.7 1002.9h.01M1393.9 954.6h.01M1474.3 825.3h.01M1475.2 1174.8h.01M1499.1 828.2h.01M1425.9 1122.8h.01M1500.5 876.2h.01M1272.4 956.4h.01M1381.5 1004.8h.01M1429.5 862.0h.01M1522.7 936.1h.01M1393.5 1079.4h.01M1541.3 890.0h.01M1486.9 895.9h.01M1417.3 963.1h.01M1434.3 1138.6h.01M1549.9 1000.7h.01M1317.1 1074.9h.01M1536.0 1039.7h.01M1468.4 916.4h.01M1518.6 857.8h.01M1539.5 923.8h.01M1582.2 854.3h.01M1496.1 1152.1h.01M1448.4 1150.8h.01M1560.0 1111.0h.01M1410.5 1050.0h.01M1504.6 1130.9h.01M1432.1 964.4h.01M1479.4 907.4h.01M1455.5 1011.5h.01M1484.3 1091.4h.01M1312.5 887.9h.01M1316.5 1040.3h.01M1514.5 858.9h.01M1394.7 1124.6h.01M1561.7 943.4h.01M1491.4 1139.9h.01M1322.3 955.0h.01M1429.5 1006.1h.01M1568.4 1091.9h.01M1360.8 968.8h.01M1538.9 966.5h.01M1530.5 1001.8h.01M1435.1 1003.7h.01M1462.4 828.8h.01M1412.8 895.8h.01M1480.0 1111.0h.01M1561.9 1050.4h.01M1445.0 1130.4h.01M1511.1 980.4h.01M1528.0 1074.1h.01M1444.2 967.6h.01M1548.9 972.9h.01M1321.5 1055.2h.01M1476.2 1116.3h.01M1319.7 1029.5h.01M1306.3 1001.1h.01M1478.9 1128.3h.01M1420.7 1030.8h.01M1582.4 1004.9h.01M1467.8 869.4h.01M1384.0 842.6h.01M1443.4 1132.6h.01M1409.5 1167.8h.01M1319.1 1102.7h.01M1521.7 1015.5h.01M1304.2 980.6h.01M1381.5 1110.3h.01M1434.5 1007.6h.01M1486.2 974.7h.01M1448.1 1132.3h.01M1377.7 1101.0h.01M1436.9 893.1h.01M1446.2 1142.8h.01M1284.0 888.9h.01M1421.8 883.9h.01M1449.1 1146.9h.01M1488.5 1079.6h.01M1450.7 839.8h.01M1391.3 1110.0h.01M1370.0 967.6h.01M1433.3 992.4h.01M1535.4 952.2h.01M1569.3 1002.4h.01M1323.4 1049.1h.01M1329.5 963.5h.01M1381.0 1141.9h.01M1308.6 925.0h.01M1308.4 1075.0h.01M1354.4 848.3h.01M1464.0 878.4h.01M1543.1 866.9h.01M1505.6 830.3h.01M1530.2 950.1h.01M1292.8 999.8h.01M1363.8 1037.7h.01M1450.4 905.3h.01M1382.8 1164.6h.01M1456.6 1018.3h.01M1298.8 1004.0h.01M1440.3 1108.6h.01M1416.5 1067.2h.01M1415.0 873.1h.01M1382.5 941.5h.01M1480.1 1074.7h.01M1410.9 1032.8h.01M1426.3 849.1h.01M1278.6 1022.7h.01M1547.2 901.7h.01M1478.5 1121.2h.01M1372.4 1101.9h.01M1344.8 879.1h.01M1325.5 1070.7h.01M1525.3 1076.6h.01M1328.7 956.8h.01M1516.8 854.9h.01M1391.5 1087.2h.01M1421.1 1097.7h.01M1471.5 1159.9h.01M1372.3 996.9h.01M1556.5 915.1h.01M1313.1 943.4h.01M1556.6 933.6h.01M1556.9 836.8h.01M1529.4 929.9h.01M1547.5 1105.7h.01M1530.2 888.4h.01M1434.5 1057.8h.01M1318.3 982.2h.01M1555.0 1004.1h.01M1518.2 1062.0h.01M1487.5 964.6h.01M1434.3 1034.5h.01M1460.5 960.4h.01M1361.6 862.5h.01M1396.7 1113.6h.01M1451.1 917.8h.01M1395.7 945.5h.01M1457.5 1055.3h.01M1408.1 925.4h.01M1340.0 935.3h.01M1530.6 943.8h.01M1332.4 1026.6h.01M1309.8 910.2h.01M1503.7 870.7h.01M1307.5 883.9h.01M1414.3 967.6h.01M1462.0 929.3h.01M1396.9 956.1h.01M1493.6 827.0h.01M1490.7 929.1h.01M1496.3 845.7h.01M1488.8 897.8h.01M1572.7 1008.7h.01M1353.8 1116.0h.01M1508.9 1044.8h.01M1441.0 1113.1h.01M1357.8 882.3h.01M1486.9 1086.5h.01M1283.5 990.1h.01M1463.8 823.9h.01M1542.8 1122.3h.01M1326.7 890.1h.01M1392.5 1008.1h.01M1523.8 877.8h.01M1281.2 983.6h.01M1547.3 1031.3h.01M1300.6 978.7h.01M1481.8 855.6h.01M1517.5 860.5h.01M1501.9 981.8h.01M1534.8 1123.3h.01M1354.5 1138.2h.01M1347.2 953.2h.01M1451.9 897.2h.01M1374.6 1022.5h.01M1388.2 999.1h.01M1334.3 927.3h.01M1437.1 1170.2h.01M1442.2 1124.1h.01M1404.3 1017.9h.01M1551.1 877.3h.01M1527.0 1039.6h.01M1489.1 990.4h.01M1507.4 868.7h.01M1293.9 884.4h.01M1459.8 990.8h.01M1383.4 1048.8h.01M1434.4 855.4h.01M1384.5 1016.1h.01M1472.9 907.2h.01M1555.5 911.2h.01M1568.7 1033.4h.01M1311.9 1089.1h.01M1357.2 903.1h.01M1449.6 1128.2h.01M1357.1 1015.2h.01M1503.3 1086.3h.01M1349.0 883.4h.01M1452.3 864.8h.01M1354.7 1031.1h.01M1438.0 870.1h.01M1281.5 976.8h.01M1422.1 842.8h.01M1552.1 1060.2h.01M1538.3 1126.1h.01M1340.2 879.8h.01M1498.0 993.8h.01M1537.2 1048.2h.01M1311.7 972.8h.01M1556.6 1063.6h.01M1335.9 1106.8h.01M1361.5 986.0h.01M1504.9 1140.7h.01M1417.0 868.5h.01M1507.3 895.9h.01M1560.7 907.9h.01M1471.8 837.4h.01M1552.8 1120.0h.01M1510.5 1033.0h.01M1484.9 1045.6h.01M1499.7 1141.1h.01M1550.5 1032.2h.01M1552.9 1039.6h.01M1363.4 1045.9h.01M1354.5 923.9h.01M1489.2 811.0h.01M1525.9 1055.2h.01M1374.0 1112.1h.01M1482.3 1067.4h.01M1338.0 968.6h.01M1559.9 902.2h.01M1446.2 962.5h.01M1313.5 895.1h.01M1483.0 928.1h.01M1544.6 1047.9h.01M1552.1 1068.6h.01M1331.1 1022.9h.01M1575.1 1016.3h.01M1460.1 1026.8h.01M1546.0 871.0h.01M1469.8 1138.0h.01M1429.2 889.4h.01M1529.0 955.0h.01M1303.6 1031.2h.01M1540.5 869.1h.01M1467.5 986.5h.01M1463.1 992.5h.01M1359.7 993.0h.01M1549.5 932.5h.01M1572.7 850.3h.01M1561.6 969.0h.01M1393.2 1093.3h.01M1568.6 1009.5h.01M1476.0 832.3h.01M1511.8 927.6h.01M1413.1 1078.1h.01M1325.3 1092.0h.01M1437.5 881.8h.01M1482.2 890.2h.01M1494.6 933.8h.01M1442.3 844.8h.01M1428.8 997.3h.01M1537.1 959.0h.01M1393.2 1048.3h.01M1404.3 1168.9h.01M1531.2 1006.3h.01M1358.2 1022.1h.01M1453.1 1182.4h.01M1373.6 856.2h.01M1430.0 1082.7h.01M1320.9 904.0h.01M1468.9 992.2h.01M1511.1 1097.7h.01M1452.7 1164.6h.01M1518.3 863.8h.01M1405.0 1137.8h.01M1586.9 1051.6h.01M1429.2 1162.2h.01M1430.7 1106.1h.01M1447.6 879.5h.01M1454.8 897.4h.01M1537.1 1102.2h.01M1418.2 919.7h.01M1465.3 913.5h.01M1562.9 1035.0h.01M1349.9 894.8h.01M1295.7 915.2h.01M1373.0 1014.1h.01M1438.6 978.0h.01M1547.3 1093.1h.01M1547.8 905.0h.01M1581.6 999.8h.01M1379.8 941.4h.01M1584.9 1024.2h.01M1546.3 930.2h.01M1408.2 1092.3h.01M1387.5 841.7h.01M1534.8 859.4h.01M1402.8 1033.7h.01M1494.9 1140.2h.01M1445.5 990.7h.01M1438.6 837.6h.01M1533.9 993.4h.01M1330.4 906.2h.01M1369.0 849.5h.01M1451.9 981.7h.01M1529.3 838.9h.01M1369.4 970.9h.01M1414.1 900.2h.01M1502.1 1051.0h.01M1391.3 880.5h.01M1370.6 882.2h.01M1379.0 1002.3h.01M1343.4 903.7h.01M1480.8 977.4h.01M1551.6 897.2h.01M1356.5 1124.9h.01M1486.3 939.4h.01M1520.3 1024.8h.01M1417.8 1142.2h.01M1345.9 1106.2h.01M1355.8 953.8h.01M1350.1 1063.3h.01M1487.1 873.1h.01M1337.3 1003.0h.01M1489.7 943.7h.01M1391.9 990.5h.01M1511.9 845.1h.01M1418.3 885.0h.01M1486.5 991.4h.01M1551.8 852.2h.01M1574.3 907.8h.01M1479.6 1067.4h.01M1369.8 914.9h.01M1385.6 966.5h.01M1401.7 1126.5h.01M1339.2 915.9h.01M1411.4 979.9h.01M1554.0 871.1h.01M1361.5 1029.7h.01M1389.2 889.0h.01M1579.9 949.7h.01M1392.6 920.7h.01M1424.1 1168.9h.01M1378.3 1152.3h.01M1394.3 894.0h.01M1563.1 1094.8h.01M1494.3 1054.4h.01M1499.2 1098.7h.01M1398.6 882.1h.01M1429.4 904.1h.01M1424.7 997.6h.01M1455.4 1025.6h.01M1361.6 913.3h.01M1443.1 954.4h.01M1404.4 1037.0h.01M1435.7 975.9h.01M1477.7 1059.9h.01M1384.5 859.9h.01M1346.5 1079.4h.01M1328.2 1095.3h.01M1477.2 1008.3h.01M1276.5 945.2h.01M1410.8 874.1h.01M1425.3 1083.4h.01M1471.0 1134.2h.01M1432.4 894.4h.01M1429.6 1037.8h.01M1272.9 961.6h.01M1382.3 966.2h.01M1343.3 1104.7h.01M1295.9 911.4h.01M1353.8 1133.1h.01M1533.0 987.6h.01M1348.8 996.8h.01M1571.9 971.6h.01M1300.4 960.0h.01M1524.7 991.0h.01M1457.6 1132.3h.01M1310.5 892.6h.01M1326.0 1007.3h.01M1414.6 1116.2h.01M1493.0 873.7h.01M1467.0 1126.2h.01M1413.9 850.2h.01M1391.5 1029.7h.01M1435.3 1162.4h.01M1370.5 894.7h.01M1395.4 980.4h.01M1368.5 875.4h.01M1338.0 896.6h.01M1539.3 1061.4h.01M1566.6 939.2h.01M1351.3 901.3h.01M1483.7 1042.7h.01M1331.9 854.0h.01M1354.0 878.2h.01M1392.4 961.1h.01M1404.2 1001.1h.01M1479.4 847.2h.01M1468.0 1104.4h.01M1548.3 835.3h.01M1474.5 978.5h.01M1454.4 1147.5h.01M1454.6 852.8h.01M1425.3 963.2h.01M1489.8 984.0h.01M1483.8 1141.8h.01M1516.9 975.9h.01M1398.4 1110.2h.01M1380.3 1055.7h.01M1395.5 1138.1h.01M1528.3 1077.1h.01M1449.5 822.1h.01M1379.8 998.4h.01M1369.1 994.9h.01M1374.0 1117.9h.01M1451.3 858.8h.01M1266.7 927.2h.01M1480.8 1118.8h.01M1449.7 1050.6h.01M1503.1 1041.7h.01M1283.8 909.5h.01M1384.1 923.0h.01M1434.4 1123.6h.01M1288.2 975.0h.01M1513.5 1027.7h.01M1567.0 929.3h.01M1564.7 1026.9h.01M1448.3 882.2h.01M1387.5 1135.1h.01M1492.2 949.0h.01M1279.0 1032.0h.01M1386.6 1160.5h.01M1440.8 965.7h.01M1536.2 1110.3h.01M1464.8 875.0h.01M1349.8 856.0h.01M1525.0 891.2h.01M1307.1 939.5h.01M1292.4 937.5h.01M1546.7 844.8h.01M1301.2 912.2h.01M1350.4 951.2h.01M1381.4 1050.5h.01M1482.0 835.5h.01M1544.6 1061.4h.01M1366.9 1086.8h.01M1273.9 1003.1h.01M1374.3 903.3h.01M1409.6 945.5h.01M1512.6 1085.9h.01M1512.8 874.9h.01M1423.2 896.8h.01M1353.6 1052.5h.01M1471.8 900.1h.01M1393.8 1024.4h.01M1368.2 1063.2h.01M1503.3 825.5h.01M1412.6 882.1h.01M1470.2 1166.7h.01M1572.1 888.7h.01M1448.1 913.6h.01M1424.4 925.2h.01M1464.7 1004.5h.01M1321.1 1047.5h.01M1495.5 1119.8h.01M1438.1 1080.2h.01M1326.0 873.9h.01M1444.3 1012.1h.01M1429.9 1143.8h.01M1478.8 955.9h.01M1353.4 1122.8h.01M1558.5 987.6h.01M1442.2 833.0h.01M1522.3 1106.4h.01M1565.6 909.2h.01M1489.4 1172.3h.01M1465.1 1080.5h.01M1404.8 985.4h.01M1573.3 982.6h.01M1406.6 997.4h.01M1331.0 1033.6h.01M1295.3 988.9h.01M1425.4 857.2h.01M1451.2 911.7h.01M1576.9 981.6h.01M1572.0 1082.7h.01M1556.7 877.4h.01M1549.7 1006.5h.01M1417.8 1074.4h.01M1479.2 1099.4h.01M1509.7 922.1h.01M1359.7 989.4h.01M1328.5 1065.0h.01M1321.0 912.2h.01M1437.5 1057.3h.01M1560.2 1101.1h.01M1302.3 1065.7h.01M1430.4 852.2h.01M1436.7 1024.8h.01M1406.7 1039.5h.01M1432.5 881.5h.01M1493.7 855.5h.01M1447.4 1091.5h.01M1463.4 1035.6h.01M1317.9 907.0h.01M1395.8 1052.5h.01M1363.0 949.2h.01M1403.0 976.9h.01M1418.8 1135.0h.01M1563.7 933.4h.01M1411.3 941.3h.01M1278.7 957.6h.01M1545.8 890.3h.01M1467.6 885.2h.01M1372.0 1062.9h.01M1543.1 1087.0h.01M1534.8 947.2h.01M1316.6 951.3h.01M1447.0 897.6h.01M1455.9 1144.6h.01M1316.9 960.1h.01M1306.2 1035.7h.01M1384.8 1012.8h.01M1358.3 1052.5h.01M1575.7 1106.5h.01M1550.0 1087.7h.01M1562.7 984.8h.01M1397.2 1032.9h.01M1438.3 1165.5h.01M1316.0 1033.5h.01M1374.3 1005.4h.01M1449.2 1026.5h.01M1494.7 875.7h.01M1399.3 940.5h.01M1455.6 1094.0h.01M1405.4 991.7h.01M1422.8 1002.6h.01M1576.5 995.2h.01M1370.0 1031.0h.01M1316.7 887.1h.01M1419.8 954.7h.01M1520.9 1126.9h.01M1316.0 994.0h.01M1416.7 982.0h.01M1516.1 926.6h.01M1322.2 1083.0h.01M1366.2 932.0h.01M1560.7 979.5h.01M1519.5 967.9h.01M1345.6 997.2h.01M1468.9 879.0h.01M1350.2 968.5h.01M1351.6 898.2h.01M1538.9 1110.7h.01M1510.5 1133.2h.01M1495.3 995.3h.01M1457.7 1091.2h.01M1523.7 940.2h.01M1418.5 1093.8h.01M1578.6 1003.8h.01M1476.9 942.3h.01M1425.4 931.7h.01M1464.2 1119.1h.01M1339.2 984.4h.01M1346.0 1097.5h.01M1495.0 964.2h.01M1384.9 1037.4h.01M1562.2 891.2h.01M1286.4 971.5h.01M1462.8 977.0h.01M1439.3 1138.8h.01M1378.5 878.0h.01M1345.1 932.0h.01M1394.3 1145.6h.01M1319.6 979.3h.01M1519.8 1040.1h.01M1309.5 1027.9h.01M1465.6 1055.6h.01M1396.1 1155.6h.01M1476.8 1024.4h.01M1389.9 937.4h.01M1340.7 868.7h.01M1439.3 993.0h.01M1453.6 838.0h.01M1469.9 946.2h.01M1350.1 889.1h.01M1412.8 1005.4h.01M1347.6 949.0h.01M1413.0 1113.3h.01M1491.0 1164.4h.01M1398.2 965.7h.01M1259.2 971.5h.01M1534.1 956.2h.01M1435.3 840.5h.01M1477.6 874.4h.01M1434.8 1046.3h.01M1462.1 1048.3h.01M1516.5 992.1h.01M1333.6 1046.7h.01M1395.9 932.3h.01M1369.7 1098.4h.01M1304.7 894.9h.01M1323.8 1032.0h.01M1407.0 1081.4h.01M1367.4 854.5h.01M1553.0 1018.1h.01M1362.6 874.1h.01M1471.6 915.4h.01M1491.2 1128.6h.01M1344.9 1128.3h.01M1303.3 907.7h.01M1407.5 1010.4h.01M1448.5 1067.6h.01M1570.6 1058.8h.01M1523.7 948.5h.01M1555.8 1102.2h.01M1421.1 828.9h.01M1523.4 913.8h.01M1570.0 1098.7h.01M1387.2 1034.8h.01M1472.4 949.3h.01M1281.8 994.4h.01M1374.4 1051.0h.01M1258.9 966.2h.01M1474.8 1079.3h.01M1453.0 1090.0h.01M1553.9 1028.5h.01M1368.5 920.5h.01M1459.3 851.3h.01M1282.7 948.6h.01M1530.9 843.3h.01M1302.6 1054.5h.01M1513.8 1137.9h.01M1387.5 938.7h.01M1334.4 1016.7h.01M1513.8 1141.0h.01M1330.4 989.6h.01M1516.8 836.3h.01M1415.9 1051.5h.01M1369.9 1090.8h.01M1500.0 976.6h.01M1292.7 982.5h.01M1332.1 1000.1h.01M1368.8 1117.4h.01M1405.5 854.9h.01M1473.4 1075.6h.01M1550.9 1051.8h.01M1383.8 987.1h.01M1326.2 966.8h.01M1565.4 1030.6h.01M1566.5 921.7h.01M1487.5 904.1h.01M1484.1 955.5h.01M1307.3 1079.0h.01M1310.7 1043.5h.01M1344.4 1050.5h.01M1416.3 1076.9h.01M1327.9 1049.2h.01M1457.5 1014.1h.01M1419.9 835.6h.01M1556.0 993.0h.01M1467.2 934.4h.01M1545.6 1074.5h.01M1404.3 1053.6h.01M1307.9 943.2h.01M1512.0 860.5h.01M1555.1 957.0h.01M1507.9 879.0h.01M1492.0 998.3h.01M1335.5 938.9h.01M1441.8 870.5h.01M1483.6 1116.6h.01M1347.0 888.4h.01M1574.9 1037.0h.01M1330.7 959.8h.01M1460.7 1107.5h.01M1357.9 873.0h.01M1389.9 969.1h.01M1580.6 1017.2h.01M1562.9 978.0h.01M1508.5 1130.2h.01M1512.4 941.2h.01M1323.7 990.6h.01M1448.7 1046.4h.01M1563.2 963.3h.01M1535.1 1073.1h.01M1532.0 997.0h.01M1569.0 1039.3h.01M1492.4 1106.1h.01M1498.8 1020.0h.01M1336.0 1053.6h.01M1470.4 843.4h.01M1564.2 1080.7h.01M1492.3 962.4h.01M1559.2 916.8h.01M1432.4 931.0h.01M1357.8 962.6h.01M1438.5 842.0h.01M1403.1 1009.0h.01M1429.0 894.7h.01M1397.8 885.8h.01M1502.6 978.0h.01M1315.1 1003.7h.01M1436.5 1039.0h.01M1292.9 1040.0h.01M1532.3 1043.0h.01M1466.3 978.0h.01M1305.0 991.0h.01M1386.4 1131.0h.01M1335.4 1040.5h.01M1491.9 881.8h.01M1471.0 1072.8h.01M1453.6 827.3h.01M1339.2 1056.9h.01M1522.0 919.7h.01M1569.0 936.7h.01M1461.4 1176.2h.01M1379.4 1131.7h.01M1519.2 849.6h.01M1585.5 1062.2h.01M1550.7 1072.6h.01M1534.4 1006.9h.01M1524.1 971.4h.01M1521.7 1087.1h.01M1577.3 845.9h.01M1543.2 994.0h.01M1545.6 867.9h.01M1386.9 892.7h.01M1465.1 967.0h.01M1389.3 899.3h.01M1404.5 1043.0h.01M1315.4 1062.9h.01M1574.4 933.4h.01M1347.8 1066.9h.01M1296.4 941.8h.01M1443.4 1146.5h.01M1307.0 1047.3h.01M1410.8 1075.4h.01M1466.1 1173.1h.01M1592.4 1068.0h.01M1539.8 1128.3h.01M1413.8 1132.6h.01M1363.3 866.8h.01M1459.9 1117.6h.01M1459.8 1114.5h.01M1309.2 1031.7h.01M1546.2 1096.0h.01M1477.6 969.0h.01M1524.0 1060.5h.01M1547.8 1047.3h.01M1381.5 1018.4h.01M1430.2 1122.3h.01M1335.8 1077.6h.01M1310.3 1050.5h.01M1502.0 1028.5h.01M1337.2 976.6h.01M1484.8 889.9h.01M1500.4 1105.8h.01M1543.3 877.4h.01M1528.7 1096.9h.01M1466.2 1100.8h.01M1302.4 939.7h.01M1484.3 862.4h.01M1385.9 1052.6h.01M1371.6 1126.9h.01M1469.5 923.3h.01M1373.3 1040.0h.01M1446.2 929.2h.01M1439.0 826.6h.01M1370.2 1069.9h.01M1511.9 1127.1h.01M1511.9 983.8h.01M1313.5 1065.5h.01M1313.3 1057.8h.01M1426.4 1132.3h.01M1391.9 1076.9h.01M1319.2 870.6h.01M1341.4 922.4h.01M1363.2 916.3h.01M1392.5 942.7h.01M1317.5 1099.2h.01M1452.4 1069.3h.01M1302.4 967.3h.01M1528.0 1105.0h.01M1486.7 1120.3h.01M1348.8 852.1h.01M1466.0 827.9h.01M1306.5 994.0h.01M1275.2 949.9h.01M1591.8 1019.3h.01M1384.2 953.2h.01M1445.5 1020.0h.01M1494.4 1012.8h.01M1267.8 950.6h.01M1328.4 985.5h.01M1304.8 998.7h.01M1271.5 979.3h.01M1551.8 978.4h.01M1411.4 1088.1h.01M1472.6 955.4h.01M1575.4 855.3h.01M1355.5 930.4h.01M1398.0 1126.5h.01M1448.0 982.7h.01M1316.8 919.3h.01M1392.3 1038.3h.01M1329.9 1019.2h.01M1570.6 1045.5h.01M1501.9 968.5h.01M1422.7 856.2h.01M1382.1 1023.9h.01M1514.5 894.7h.01M1407.5 1137.0h.01M1305.2 971.0h.01M1494.2 837.9h.01M1334.2 875.4h.01M1310.9 954.8h.01M1426.1 1027.0h.01M1584.9 974.3h.01M1389.6 1129.8h.01M1375.6 922.3h.01M1505.6 1028.4h.01M1374.0 1085.4h.01M1478.1 939.5h.01M1461.4 1051.4h.01M1498.4 1024.1h.01M1574.0 1056.5h.01M1465.5 1051.3h.01M1460.6 942.3h.01M1275.7 993.5h.01M1408.2 929.8h.01M1468.2 834.0h.01M1378.3 986.9h.01M1514.1 885.0h.01M1487.5 1127.6h.01M1401.9 1039.2h.01M1469.5 1035.0h.01M1437.2 1064.8h.01M1467.3 1139.3h.01M1393.0 914.8h.01M1329.5 891.8h.01M1449.4 1118.3h.01M1335.7 949.2h.01M1432.6 945.1h.01M1506.5 945.1h.01M1468.8 1143.1h.01M1554.1 894.3h.01M1519.6 840.6h.01M1502.1 973.5h.01M1451.1 893.4h.01M1468.2 1018.3h.01M1501.6 952.5h.01M1412.9 938.2h.01M1315.9 911.0h.01M1516.3 846.5h.01M1493.0 1153.9h.01M1364.4 1152.2h.01M1415.4 1002.5h.01M1549.0 1009.4h.01M1445.3 994.4h.01M1458.6 984.2h.01M1437.7 858.1h.01M1446.5 1042.1h.01M1535.2 873.5h.01M1367.4 1009.4h.01M1565.2 1004.6h.01M1523.8 1145.6h.01M1476.5 1101.1h.01M1334.4 1068.7h.01M1486.2 1003.0h.01M1401.7 939.4h.01M1444.4 876.8h.01M1488.3 1042.0h.01M1381.6 858.1h.01M1559.1 970.1h.01M1430.9 990.7h.01M1558.1 1033.3h.01M1418.0 862.3h.01M1465.6 1008.0h.01M1470.3 1005.7h.01M1375.0 1017.0h.01M1506.7 1058.7h.01M1336.0 1074.4h.01M1477.7 1056.8h.01M1565.8 1056.1h.01M1523.9 925.9h.01M1447.4 917.5h.01M1359.4 1116.1h.01M1562.0 841.7h.01M1464.5 1040.3h.01M1482.4 1080.2h.01M1372.8 1130.6h.01M1581.3 1081.0h.01M1481.4 1011.5h.01M1360.9 944.8h.01M1551.3 1108.4h.01M1466.6 855.7h.01M1560.0 993.0h.01M1291.2 1034.0h.01M1333.6 982.2h.01M1398.4 1137.0h.01M1532.6 880.9h.01M1402.8 1074.6h.01M1413.9 859.8h.01M1414.8 844.3h.01M1371.9 1107.8h.01M1374.9 1100.0h.01M1299.8 908.0h.01M1288.3 1052.8h.01M1462.3 1057.8h.01M1466.2 1158.2h.01M1462.6 873.4h.01M1318.7 1049.5h.01M1471.7 1025.6h.01M1489.3 843.6h.01M1520.7 975.9h.01M1563.6 991.3h.01M1356.9 1131.7h.01M1447.0 874.7h.01M1578.4 854.7h.01M1439.6 1100.2h.01M1579.1 1088.3h.01M1385.9 1118.8h.01M1422.7 1079.4h.01M1279.7 1011.9h.01M1339.6 1091.9h.01M1332.9 956.3h.01M1337.2 890.4h.01M1330.4 953.0h.01M1387.0 972.8h.01M1319.8 956.7h.01M1566.3 995.9h.01M1461.4 1095.0h.01M1336.0 901.8h.01M1314.7 874.2h.01M1364.7 1092.9h.01M1284.2 916.4h.01M1554.1 939.2h.01M1520.5 872.7h.01M1335.5 932.3h.01M1492.4 1116.3h.01M1496.6 916.8h.01M1442.4 1084.3h.01M1552.3 1013.9h.01M1443.8 874.2h.01M1481.3 1162.5h.01M1292.7 928.7h.01M1368.7 1108.5h.01M1475.1 1053.2h.01M1471.5 982.3h.01M1355.5 1105.4h.01M1369.4 1120.7h.01M1338.1 924.5h.01M1330.7 920.1h.01M1522.9 900.2h.01M1407.2 941.2h.01M1543.1 862.3h.01M1471.1 896.4h.01M1568.9 873.3h.01M1510.5 918.9h.01M1576.6 860.1h.01M1373.7 1045.7h.01M1301.4 897.1h.01M1387.3 1049.0h.01M1491.1 1114.0h.01M1342.5 914.3h.01M1482.9 827.3h.01M1275.0 940.6h.01M1581.6 961.7h.01M1570.1 1007.1h.01M1424.0 902.7h.01M1427.2 1094.9h.01M1373.7 1074.5h.01M1377.0 1119.8h.01M1346.5 916.1h.01M1308.3 914.6h.01M1433.0 858.0h.01M1442.4 1115.3h.01M1535.2 930.5h.01M1504.4 929.1h.01M1438.8 1062.5h.01M1469.8 863.5h.01M1449.0 920.0h.01M1310.2 896.6h.01M1481.1 1003.6h.01M1549.9 1037.5h.01M1524.8 1111.7h.01M1482.9 1126.1h.01M1556.1 924.1h.01M1364.0 1096.0h.01M1460.8 988.1h.01M1388.2 920.4h.01M1527.3 875.5h.01M1569.9 944.7h.01M1368.6 998.5h.01M1425.4 874.8h.01M1442.7 1149.6h.01M1471.8 1012.5h.01M1564.0 878.1h.01M1378.1 1126.1h.01M1384.6 1124.4h.01M1498.7 933.9h.01M1418.6 958.6h.01M1465.6 834.0h.01M1471.7 1101.0h.01M1445.5 1125.3h.01M1322.6 1104.7h.01M1350.9 1047.1h.01M1402.4 858.6h.01M1290.8 956.5h.01M1313.7 1050.9h.01M1498.9 944.3h.01M1428.3 971.5h.01M1468.3 1108.0h.01M1400.4 988.4h.01M1340.2 940.9h.01M1461.0 1163.0h.01M1452.6 1019.6h.01M1434.7 910.0h.01M1488.1 877.5h.01M1491.3 860.6h.01M1417.2 850.8h.01M1371.3 1059.2h.01M1316.1 931.8h.01M1478.2 818.3h.01M1454.1 870.3h.01M1490.6 871.0h.01M1359.2 1110.3h.01M1530.7 855.9h.01M1399.6 842.7h.01M1385.7 881.1h.01M1361.8 1061.7h.01M1567.1 846.3h.01M1511.1 1040.6h.01M1479.7 888.0h.01M1370.0 956.2h.01M1416.6 1110.8h.01M1432.9 834.1h.01M1349.7 1073.9h.01M1361.9 1016.5h.01M1547.7 918.8h.01M1581.3 953.6h.01M1400.8 948.6h.01M1574.6 869.3h.01M1564.3 1100.8h.01M1490.4 826.0h.01M1425.4 916.1h.01M1570.7 975.2h.01M1479.1 921.5h.01M1515.8 1009.5h.01M1559.2 888.3h.01M1405.3 1109.7h.01M1517.8 1114.3h.01M1333.0 963.9h.01M1485.0 1100.8h.01M1417.3 1166.2h.01M1480.4 1172.4h.01M1548.6 922.8h.01M1513.3 913.1h.01M1393.8 846.9h.01M1491.8 1051.4h.01M1567.4 1062.3h.01M1326.8 1041.9h.01M1568.5 850.0h.01M1313.2 981.6h.01M1486.5 1048.4h.01M1578.9 1073.4h.01M1446.9 1010.9h.01M1297.5 1009.4h.01M1402.3 872.2h.01M1411.8 1129.9h.01M1380.9 1068.8h.01M1456.0 935.0h.01M1424.9 911.8h.01M1393.5 897.2h.01M1475.7 1150.5h.01M1559.1 1051.2h.01M1451.3 968.8h.01M1442.4 977.7h.01M1422.1 862.4h.01M1399.7 1081.7h.01M1373.6 1095.8h.01M1338.1 1014.5h.01M1539.8 871.7h.01M1300.0 1043.6h.01M1508.7 1053.7h.01M1507.8 937.8h.01M1567.2 892.9h.01M1366.2 941.7h.01M1517.1 938.8h.01M1489.4 891.4h.01M1415.3 1009.3h.01M1410.1 1009.7h.01M1459.3 1072.7h.01M1456.0 1170.8h.01M1529.7 909.5h.01M1519.0 1141.5h.01M1439.5 1148.8h.01M1403.5 928.5h.01M1576.5 902.6h.01M1515.3 904.1h.01M1460.5 1102.3h.01M1424.8 1150.9h.01M1557.5 1039.2h.01M1506.9 1169.3h.01M1347.5 890.9h.01M1404.5 952.7h.01M1504.0 1144.8h.01M1571.6 930.5h.01M1376.8 968.3h.01M1304.1 1041.1h.01M1434.4 1176.7h.01M1509.0 1065.7h.01M1426.0 1076.4h.01M1525.9 871.8h.01M1282.4 957.8h.01M1448.6 863.1h.01M1484.5 1110.9h.01M1419.2 906.5h.01M1358.1 1112.8h.01M1581.1 956.6h.01M1398.4 879.5h.01M1574.2 963.9h.01M1297.0 1058.9h.01M1579.1 1035.2h.01M1419.3 1044.0h.01M1276.8 928.0h.01M1442.4 893.5h.01M1424.9 1059.4h.01M1390.6 996.1h.01M1314.0 961.5h.01M1432.8 941.5h.01M1456.0 930.1h.01M1301.4 1023.7h.01M1487.3 1146.5h.01M1482.8 952.3h.01M1272.9 935.5h.01M1441.8 1010.1h.01M1374.3 1103.8h.01M1361.2 974.0h.01M1483.0 816.0h.01M1463.0 852.0h.01M1343.6 856.7h.01M1277.7 939.7h.01M1381.4 1034.5h.01M1576.7 1077.8h.01M1397.0 1055.9h.01M1411.9 1124.8h.01M1489.8 919.1h.01M1576.5 923.3h.01M1343.3 873.3h.01M1434.7 829.8h.01M1585.1 1033.6h.01M1405.6 933.5h.01M1408.5 1157.9h.01M1409.1 1171.5h.01M1444.6 1155.1h.01M1353.9 1064.0h.01M1492.7 989.9h.01M1327.1 1000.6h.01M1345.3 1063.6h.01M1484.9 1096.1h.01M1376.3 865.3h.01M1545.7 1042.3h.01M1352.2 904.4h.01M1281.0 1017.2h.01M1285.6 982.1h.01M1275.7 978.0h.01M1332.6 941.1h.01M1361.5 884.8h.01M1491.6 846.5h.01M1568.7 852.8h.01M1410.7 1068.4h.01M1437.0 948.9h.01M1424.2 1104.2h.01M1484.3 1158.1h.01M1459.8 962.9h.01M1393.0 1064.8h.01M1456.0 995.2h.01M1412.9 1071.9h.01M1370.0 862.9h.01M1511.8 956.6h.01M1460.8 1033.5h.01M1271.6 985.3h.01M1285.2 1006.4h.01M1530.2 846.3h.01M1539.5 995.0h.01M1482.5 1038.6h.01M1576.4 937.4h.01M1391.0 1057.6h.01M1413.3 1012.8h.01M1523.2 967.9h.01M1352.8 971.5h.01M1493.8 1137.1h.01M1561.0 880.9h.01M1480.1 1147.7h.01M1346.7 1033.8h.01M1397.4 1100.8h.01M1357.1 855.3h.01M1491.2 1007.9h.01M1509.8 977.3h.01M1380.3 909.7h.01M1418.3 985.7h.01M1434.2 1015.0h.01M1369.1 836.1h.01M1491.6 896.9h.01M1345.2 992.8h.01M1497.9 1060.6h.01M1502.4 1141.9h.01M1350.8 915.0h.01M1518.0 871.1h.01M1410.3 1019.1h.01M1464.9 1088.7h.01M1542.9 897.8h.01M1292.2 923.6h.01M1515.9 867.0h.01M1552.8 844.4h.01M1345.5 1101.4h.01M1384.4 1092.2h.01M1390.0 1147.2h.01M1563.0 998.4h.01M1482.1 1018.3h.01M1529.7 1149.2h.01M1510.1 1106.1h.01M1411.8 1135.2h.01M1427.2 1113.3h.01M1575.6 1031.1h.01M1451.8 1073.4h.01M1433.3 1037.0h.01M1523.7 1028.0h.01M1294.6 921.4h.01M1501.7 822.9h.01M1532.8 923.9h.01M1496.0 1135.3h.01M1373.2 867.5h.01M1418.1 876.4h.01M1297.7 923.0h.01M1455.1 940.5h.01M1577.0 987.1h.01M1504.5 1149.7h.01M1296.3 1027.7h.01M1353.3 1042.6h.01M1406.4 923.4h.01M1517.7 1131.2h.01M1457.9 1004.4h.01M1468.3 1060.6h.01M1453.3 1175.8h.01M1471.4 1038.5h.01M1507.2 934.9h.01M1352.7 909.7h.01M1525.2 1118.8h.01M1386.5 910.3h.01M1427.0 1008.6h.01M1502.7 1107.6h.01M1346.0 1013.3h.01M1402.5 943.3h.01M1551.8 1094.4h.01M1499.4 849.6h.01M1268.1 930.8h.01M1506.1 1023.0h.01M1562.2 848.1h.01M1291.8 1051.8h.01M1359.9 1095.6h.01M1477.1 959.9h.01M1491.4 1066.3h.01M1432.4 1145.3h.01M1297.8 896.4h.01M1353.8 1067.7h.01M1319.7 1020.7h.01M1526.7 835.2h.01M1466.7 1010.9h.01M1575.4 918.7h.01M1517.5 1094.0h.01M1490.3 868.3h.01M1532.7 1068.3h.01M1329.8 1091.5h.01M1580.0 1070.4h.01M1449.9 1170.4h.01M1437.1 1098.8h.01M1430.5 919.0h.01M1589.2 1043.1h.01M1369.0 924.9h.01M1372.6 1027.8h.01M1430.0 982.3h.01M1437.2 1107.4h.01M1520.9 1077.0h.01M1434.7 1070.7h.01M1518.7 951.8h.01M1570.9 1102.5h.01M1415.5 955.8h.01M1570.1 980.3h.01M1436.7 844.7h.01M1473.0 1031.4h.01M1560.1 1041.0h.01M1442.2 1089.7h.01M1489.6 1000.8h.01M1537.1 878.0h.01M1268.3 981.3h.01M1373.5 1120.6h.01M1299.3 1046.5h.01M1528.6 1053.8h.01M1335.1 887.8h.01M1561.0 864.0h.01M1469.6 847.8h.01M1292.9 893.9h.01M1542.7 882.2h.01M1420.5 982.2h.01M1292.3 1021.4h.01M1376.1 1040.7h.01M1371.9 1148.4h.01M1409.6 950.1h.01M1587.0 863.9h.01M1445.8 1070.6h.01M1425.5 1049.3h.01M1532.1 934.3h.01M1575.3 887.4h.01M1372.8 918.4h.01M1422.5 1144.7h.01M1341.1 853.0h.01M1464.8 1121.7h.01M1567.0 1070.7h.01M1359.3 1153.5h.01M1522.2 845.2h.01M1381.2 1100.7h.01M1296.5 982.4h.01M1361.1 1156.0h.01M1540.1 844.6h.01M1532.8 1120.5h.01M1357.1 1028.0h.01M1473.0 939.8h.01M1275.4 1006.3h.01M1505.3 940.3h.01M1469.3 967.7h.01M1424.5 978.0h.01M1524.3 895.5h.01M1542.8 1056.9h.01M1527.1 1115.5h.01M1437.8 1151.5h.01M1399.4 1107.5h.01M1474.5 878.5h.01M1505.3 885.9h.01M1471.2 1174.2h.01M1456.8 1127.7h.01M1314.4 976.9h.01M1435.8 1102.5h.01M1300.1 1037.7h.01M1551.6 998.7h.01M1557.2 1012.3h.01M1546.9 954.1h.01M1506.1 837.1h.01M1442.6 885.5h.01M1464.8 1043.7h.01M1493.9 1084.2h.01M1458.9 911.1h.01M1367.4 1073.9h.01M1404.5 845.7h.01M1338.9 978.7h.01M1452.4 883.3h.01M1584.7 1049.0h.01M1514.0 1117.0h.01M1335.3 1033.0h.01M1488.1 1135.2h.01M1377.2 1135.3h.01M1429.3 1030.4h.01M1528.6 871.8h.01M1343.0 895.0h.01M1277.3 919.9h.01M1313.4 881.5h.01M1559.4 983.6h.01M1485.8 948.6h.01M1428.9 1131.9h.01M1356.5 1094.9h.01M1586.8 1012.2h.01M1502.9 865.8h.01M1432.0 863.5h.01M1587.7 1034.7h.01M1372.7 846.8h.01M1516.8 1073.0h.01M1480.4 1142.5h.01M1548.4 1041.6h.01M1309.3 1083.6h.01M1420.2 887.5h.01M1316.5 860.9h.01M1529.8 914.6h.01M1359.7 1034.5h.01M1588.0 884.7h.01M1382.8 1061.3h.01M1320.0 969.6h.01M1343.8 1030.9h.01M1377.4 1072.9h.01M1313.1 991.6h.01M1477.3 984.0h.01M1275.2 1014.8h.01M1510.2 954.4h.01M1441.4 1033.8h.01M1428.0 1058.5h.01M1498.9 823.2h.01M1395.3 1007.4h.01M1391.0 870.4h.01M1398.6 1038.8h.01M1331.9 1050.3h.01M1436.4 932.7h.01M1505.4 881.7h.01M1496.6 1014.8h.01M1488.6 1110.7h.01M1421.9 1127.4h.01M1357.6 926.6h.01M1495.9 824.0h.01M1408.8 954.0h.01M1288.4 1033.3h.01M1356.4 964.9h.01M1363.6 1031.8h.01M1463.2 1071.0h.01M1299.2 1028.4h.01M1501.6 946.5h.01M1526.2 958.9h.01M1275.2 966.9h.01M1484.8 845.2h.01M1519.3 948.7h.01M1584.3 979.4h.01M1422.5 837.1h.01M1342.9 1054.8h.01M1547.8 1004.4h.01M1473.9 1171.6h.01M1350.9 1003.7h.01M1538.8 1028.1h.01M1419.1 936.6h.01M1468.3 963.9h.01M1369.0 1103.2h.01M1467.7 1145.5h.01M1551.3 930.0h.01M1379.2 917.9h.01M1359.3 1139.2h.01M1307.8 1067.6h.01M1529.9 1014.5h.01M1557.8 1044.5h.01M1463.0 1025.3h.01M1534.2 1136.0h.01M1573.1 1088.7h.01M1495.9 1082.4h.01M1325.7 1078.9h.01M1384.8 993.8h.01M1447.5 907.5h.01M1332.3 869.5h.01M1369.0 1146.2h.01M1407.9 898.5h.01M1312.7 870.3h.01M1478.6 1004.8h.01M1399.2 872.5h.01M1422.2 930.5h.01M1497.4 878.7h.01M1427.9 1018.3h.01M1474.4 1141.7h.01M1456.8 1088.5h.01M1358.3 958.5h.01M1452.4 992.2h.01M1551.2 857.3h.01M1437.7 959.8h.01M1358.7 1145.6h.01M1334.2 1066.0h.01M1479.1 965.6h.01M1553.0 1081.3h.01M1571.7 904.7h.01M1451.5 962.9h.01M1491.1 855.0h.01M1303.9 995.2h.01M1340.6 1006.1h.01M1376.6 1030.9h.01M1485.2 984.2h.01M1343.8 1092.2h.01M1388.7 1154.3h.01M1564.8 915.3h.01M1342.1 1079.4h.01M1518.2 896.3h.01M1376.8 1062.8h.01M1391.3 892.3h.01M1424.6 883.5h.01M1454.5 1014.2h.01M1401.5 1154.2h.01M1421.7 1027.7h.01M1456.0 1052.0h.01M1545.8 959.9h.01M1285.5 1031.6h.01M1264.6 990.0h.01M1451.3 1132.0h.01M1486.0 848.6h.01M1569.7 902.2h.01M1493.7 1171.6h.01M1381.9 1084.0h.01M1503.9 1164.4h.01M1383.2 909.8h.01M1334.7 1021.2h.01M1398.7 908.5h.01M1474.5 986.7h.01M1531.8 954.1h.01M1450.4 889.1h.01M1342.6 1098.7h.01M1380.5 1088.5h.01M1321.2 949.5h.01M1532.7 1104.8h.01M1554.0 854.8h.01M1542.2 1125.3h.01M1558.3 955.9h.01M1341.2 902.0h.01M1534.8 1045.6h.01M1421.5 913.8h.01M1439.7 1125.5h.01M1504.5 1092.5h.01M1487.9 1164.7h.01M1526.3 952.8h.01M1544.3 1027.0h.01M1439.5 969.2h.01M1491.9 1086.1h.01M1570.4 950.0h.01M1498.4 1146.5h.01M1390.2 1121.2h.01M1530.1 1129.9h.01M1494.8 924.2h.01M1399.3 835.6h.01M1336.8 1000.0h.01M1506.4 969.6h.01M1459.7 1134.8h.01M1445.3 854.6h.01M1495.4 1143.7h.01M1456.7 919.1h.01M1394.2 972.0h.01M1523.8 1052.3h.01M1409.1 1151.7h.01M1358.2 955.2h.01M1492.8 936.0h.01M1474.1 1043.5h.01M1459.4 1096.6h.01M1344.9 908.7h.01M1575.9 913.9h.01M1360.5 1002.2h.01M1274.7 920.9h.01M1324.4 996.9h.01M1544.4 990.1h.01M1344.1 1002.5h.01M1562.1 900.3h.01M1280.2 937.6h.01M1319.1 900.3h.01M1467.1 908.5h.01M1360.4 904.7h.01M1438.3 1178.0h.01M1340.7 1041.7h.01M1550.8 867.7h.01M1389.4 1009.4h.01M1564.3 960.4h.01M1499.4 998.2h.01M1460.3 935.0h.01M1486.3 832.0h.01M1545.9 965.3h.01M1565.8 949.0h.01M1362.3 998.3h.01M1380.8 1148.6h.01M1504.4 848.3h.01M1366.7 882.6h.01M1442.3 1074.2h.01M1548.5 1108.7h.01M1376.3 852.6h.01M1426.2 889.8h.01M1328.9 894.8h.01M1435.6 903.9h.01M1470.4 933.2h.01M1401.8 1104.7h.01M1444.0 1086.9h.01M1477.2 925.3h.01M1449.1 1136.1h.01M1509.3 1015.8h.01M1282.3 945.8h.01M1396.0 950.2h.01M1456.7 875.1h.01M1557.1 938.4h.01M1399.9 1167.5h.01M1387.7 1076.4h.01M1294.2 979.3h.01M1508.7 1074.5h.01M1368.1 1113.3h.01M1497.4 1070.0h.01M1441.4 905.2h.01M1298.1 958.4h.01M1520.1 1147.4h.01M1427.8 853.4h.01M1370.2 982.8h.01M1467.4 1070.0h.01M1466.1 1176.1h.01M1529.6 974.2h.01M1389.9 976.8h.01M1373.3 879.3h.01M1391.0 1099.5h.01M1341.3 862.0h.01M1327.2 951.8h.01M1357.7 905.7h.01M1509.1 1154.1h.01M1558.2 1068.7h.01M1494.3 1159.1h.01M1270.4 973.2h.01M1462.5 1166.6h.01M1445.5 1065.1h.01M1342.3 1038.5h.01M1379.9 1103.1h.01M1393.7 1116.2h.01M1412.4 1164.8h.01M1387.5 1095.8h.01M1463.5 870.0h.01M1377.6 843.1h.01M1409.3 879.9h.01M1305.1 974.1h.01M1349.2 987.0h.01M1292.5 943.2h.01M1517.6 1126.4h.01M1487.1 1114.5h.01M1410.0 1148.4h.01M1526.7 1124.2h.01M1521.0 1112.3h.01M1428.7 1070.3h.01M1303.4 930.2h.01M1496.5 1129.6h.01M1337.7 1095.9h.01M1421.1 1068.0h.01M1315.7 982.7h.01M1334.9 1008.0h.01M1488.5 1153.2h.01M1531.6 1138.6h.01M1379.6 1163.8h.01M1434.9 877.4h.01M1452.2 1080.9h.01M1305.2 977.2h.01M1271.1 1000.3h.01M1350.6 863.2h.01M1559.9 1106.8h.01M1379.4 970.2h.01M1502.9 1009.7h.01M1378.0 1068.2h.01M1441.9 1165.8h.01M1573.7 1019.4h.01M1303.8 1021.8h.01M1372.8 911.4h.01M1285.5 1014.3h.01M1322.5 861.1h.01M1438.0 973.2h.01M1507.0 992.7h.01M1330.9 976.6h.01M1389.9 1065.9h.01M1459.5 968.2h.01M1384.4 1135.2h.01M1503.6 1037.8h.01M1565.5 945.6h.01M1296.1 907.2h.01M1355.7 900.4h.01M1518.1 878.0h.01M1517.7 980.0h.01M1484.3 1136.4h.01M1420.5 1020.8h.01M1435.1 924.7h.01M1505.5 1000.8h.01M1412.9 892.3h.01M1440.0 860.5h.01M1458.9 885.5h.01M1399.8 999.2h.01M1413.8 1090.9h.01M1421.1 920.5h.01M1320.6 882.7h.01M1573.9 947.0h.01M1483.9 1075.9h.01M1479.2 1000.9h.01M1559.7 1013.3h.01M1546.6 877.4h.01M1264.3 945.7h.01M1488.5 1025.0h.01M1363.9 856.6h.01M1469.8 1131.6h.01M1548.5 942.4h.01M1324.3 907.1h.01M1436.1 956.6h.01M1458.4 1093.8h.01M1542.1 1110.3h.01M1367.2 1100.5h.01M1491.0 1044.5h.01M1397.0 917.3h.01M1553.0 951.5h.01M1531.9 862.5h.01M1392.8 864.5h.01M1385.9 1044.3h.01M1577.0 1049.1h.01M1466.6 1065.2h.01M1347.4 1018.9h.01M1553.7 888.6h.01M1558.1 921.7h.01M1436.2 980.9h.01M1497.2 1090.4h.01M1278.1 913.6h.01M1295.3 960.1h.01M1366.0 906.4h.01M1520.5 939.8h.01M1325.2 912.7h.01M1517.1 886.4h.01M1412.1 993.4h.01M1427.0 832.7h.01M1368.0 950.2h.01M1581.8 887.0h.01M1543.6 932.9h.01M1499.6 1016.8h.01M1548.1 989.9h.01M1463.1 1132.8h.01M1391.1 873.5h.01M1361.9 1006.2h.01M1353.1 1024.2h.01M1356.4 1098.2h.01M1454.9 1152.7h.01M1464.0 849.3h.01M1269.1 976.1h.01M1448.8 959.2h.01M1366.5 846.1h.01M1442.4 1141.3h.01M1489.9 936.0h.01M1534.6 1029.9h.01M1283.5 931.5h.01M1578.4 897.6h.01M1408.3 1022.1h.01M1311.1 968.0h.01M1323.2 1086.9h.01M1414.8 1171.6h.01M1472.9 974.8h.01M1499.6 1047.4h.01M1497.3 861.2h.01M1525.2 1001.7h.01M1530.4 925.6h.01M1418.8 1108.5h.01M1515.2 1130.0h.01M1492.3 1167.1h.01M1455.3 1135.6h.01M1409.3 1053.5h.01M1533.5 1058.6h.01M1548.0 949.4h.01M1522.3 1103.1h.01M1403.6 893.7h.01M1467.1 889.3h.01M1420.2 947.8h.01M1392.9 1136.2h.01M1558.2 1076.7h.01M1495.3 953.1h.01M1453.9 1066.3h.01M1398.3 921.6h.01M1365.8 1013.4h.01M1393.0 932.8h.01M1365.7 938.8h.01M1382.6 1001.5h.01M1566.0 1112.8h.01M1336.9 910.2h.01M1463.7 1098.5h.01M1532.2 1056.1h.01M1491.6 940.3h.01M1262.8 965.7h.01M1583.0 983.1h.01M1436.5 875.3h.01M1498.0 832.2h.01M1283.2 1035.4h.01M1298.7 901.7h.01M1439.9 1040.0h.01M1556.9 1116.2h.01M1394.6 1168.6h.01M1293.0 1027.2h.01M1508.9 871.5h.01M1398.9 1066.6h.01M1296.9 887.5h.01M1327.5 947.4h.01M1588.2 983.2h.01M1348.1 859.0h.01M1449.6 830.7h.01M1551.6 1115.6h.01M1457.8 988.2h.01M1510.0 880.9h.01M1557.0 946.5h.01M1451.6 934.3h.01M1486.2 1106.7h.01M1385.1 1103.3h.01M1510.3 1023.1h.01M1451.4 955.9h.01M1375.5 985.6h.01M1404.6 840.4h.01M1460.6 869.9h.01M1483.2 922.4h.01M1531.4 1029.4h.01M1297.6 961.7h.01M1532.5 973.6h.01M1547.3 1100.1h.01M1303.0 915.1h.01M1419.8 978.6h.01M1461.7 1128.9h.01M1479.8 952.5h.01M1386.5 956.2h.01M1585.9 1072.1h.01M1420.4 967.7h.01M1423.0 1137.5h.01M1506.9 1151.4h.01M1456.0 975.3h.01M1279.8 949.6h.01M1411.9 913.6h.01M1374.8 882.1h.01M1290.6 977.7h.01M1353.4 950.1h.01M1519.7 995.4h.01M1518.3 919.8h.01M1286.7 999.8h.01M1535.5 1003.1h.01M1313.2 1029.9h.01M1538.5 1134.6h.01M1483.3 1083.1h.01M1573.3 1044.2h.01M1495.3 904.4h.01M1369.0 899.9h.01M1389.1 857.6h.01M1330.1 1080.7h.01M1339.9 1069.7h.01M1340.9 1063.7h.01M1385.0 1026.4h.01M1418.6 903.8h.01M1528.5 898.4h.01M1357.4 1039.2h.01M1468.0 1129.0h.01M1445.5 949.2h.01M1425.9 947.5h.01M1543.1 1033.4h.01M1493.4 848.6h.01M1563.7 939.5h.01M1350.0 1042.6h.01M1335.7 893.7h.01M1401.5 897.4h.01M1397.7 903.0h.01M1494.7 869.9h.01M1353.2 1058.3h.01M1402.2 980.7h.01M1454.5 1061.3h.01M1419.1 844.1h.01M1340.0 1012.3h.01M1334.6 1062.6h.01M1478.9 944.4h.01M1447.5 1053.3h.01M1414.0 918.2h.01M1401.6 926.7h.01M1448.3 1023.3h.01M1418.9 1151.4h.01M1477.3 878.8h.01M1289.4 1026.3h.01M1416.8 988.9h.01M1530.9 1020.6h.01M1392.0 1062.1h.01M1501.1 964.5h.01M1314.7 1009.0h.01M1283.7 1018.7h.01M1544.3 937.6h.01M1359.1 1086.1h.01M1377.2 978.3h.01M1430.6 1013.1h.01M1299.1 905.4h.01M1511.5 889.9h.01M1374.1 1158.5h.01M1319.5 1060.2h.01M1351.1 938.2h.01M1356.8 1121.5h.01M1483.8 1013.0h.01M1331.6 947.9h.01M1584.5 1010.7h.01M1405.9 1172.4h.01M1474.0 912.4h.01M1506.4 1030.9h.01M1505.9 906.9h.01M1433.6 920.5h.01M1495.5 843.2h.01M1399.8 1028.8h.01M1388.1 1114.5h.01M1322.1 889.0h.01M1555.2 976.5h.01M1466.6 1075.1h.01M1309.0 949.8h.01M1462.8 1105.1h.01M1552.8 873.8h.01M1538.1 939.2h.01M1522.6 923.2h.01M1471.4 1002.0h.01M1386.7 996.7h.01M1567.4 1023.7h.01M1424.9 959.5h.01M1372.0 921.6h.01M1458.7 1121.1h.01M1493.2 1036.3h.01M1262.5 954.9h.01M1422.6 964.3h.01M1507.5 974.9h.01M1470.1 995.5h.01M1490.7 1034.7h.01M1405.8 881.5h.01M1450.3 876.2h.01M1526.2 904.9h.01M1486.8 868.3h.01M1413.6 1081.5h.01M1294.1 1046.0h.01M1530.3 883.3h.01M1591.0 1001.7h.01M1362.9 980.7h.01M1325.0 868.5h.01M1299.4 1069.5h.01M1430.9 1080.2h.01M1482.1 938.1h.01M1406.3 1100.0h.01M1576.2 1066.5h.01M1553.1 1033.0h.01M1360.8 1012.3h.01M1416.6 911.8h.01M1526.1 1139.7h.01M1473.8 1158.3h.01M1316.9 1068.2h.01M1284.2 1045.0h.01M1591.3 1010.8h.01M1565.9 964.7h.01M1365.2 946.4h.01M1473.0 1112.5h.01M1572.1 1079.0h.01M1453.9 906.5h.01M1516.5 1019.7h.01M1389.6 1025.4h.01M1360.2 937.8h.01M1566.3 1103.5h.01M1475.8 1012.0h.01M1552.1 957.2h.01M1534.1 1064.7h.01M1378.2 907.8h.01M1376.6 870.8h.01M1454.4 920.7h.01M1370.8 976.4h.01M1372.6 959.3h.01M1527.9 1080.7h.01M1351.2 1031.8h.01M1503.3 1081.2h.01M1296.3 1030.5h.01M1488.8 1010.4h.01M1392.2 1070.6h.01M1507.0 1061.5h.01M1365.7 893.8h.01M1499.6 990.6h.01M1360.3 890.5h.01M1530.1 970.6h.01M1481.8 902.1h.01M1399.8 1087.2h.01M1577.5 1061.1h.01M1458.1 924.8h.01M1347.1 896.1h.01M1444.8 881.7h.01M1487.0 1176.3h.01M1542.3 930.2h.01M1505.7 1085.1h.01M1432.0 1119.5h.01M1393.8 998.8h.01M1393.9 1152.8h.01M1430.5 953.1h.01M1433.8 1082.7h.01M1582.9 1007.7h.01M1404.4 965.8h.01M1444.3 835.5h.01M1528.0 943.1h.01M1334.0 923.0h.01M1349.9 1001.0h.01M1547.5 1054.4h.01M1322.6 922.1h.01M1577.0 997.9h.01M1384.5 1153.5h.01M1479.3 1064.3h.01M1393.9 1027.1h.01M1340.8 1047.8h.01M1354.7 1021.2h.01M1493.4 887.4h.01M1415.1 1036.0h.01M1295.7 880.7h.01M1563.8 863.7h.01M1325.3 899.8h.01M1298.2 1019.9h.01M1541.7 864.6h.01M1330.5 980.3h.01M1515.4 1013.6h.01M1473.7 925.9h.01M1519.5 883.1h.01M1437.3 1094.7h.01M1504.3 1055.5h.01M1581.8 1084.4h.01M1463.2 1078.8h.01M1365.8 1005.1h.01M1385.6 889.7h.01M1438.1 1020.3h.01M1560.7 860.8h.01M1425.3 935.5h.01M1512.4 1077.1h.01M1443.9 998.1h.01M1497.4 977.3h.01M1521.3 1118.4h.01M1565.8 1040.2h.01M1323.2 1025.7h.01M1428.9 934.7h.01M1560.9 911.9h.01M1470.9 1055.2h.01M1396.1 890.4h.01M1459.9 1056.4h.01M1283.1 942.7h.01M1530.9 1124.2h.01M1371.7 1017.5h.01M1541.1 1133.1h.01M1502.1 916.8h.01M1351.6 880.5h.01M1560.0 1093.8h.01M1522.5 980.4h.01M1458.7 1063.0h.01M1583.8 940.8h.01M1486.4 908.5h.01M1546.5 916.1h.01M1350.0 963.7h.01M1474.1 1014.9h.01M1492.2 863.5h.01M1444.6 857.9h.01M1508.5 1142.1h.01M1407.4 937.6h.01M1542.6 920.7h.01M1373.9 955.5h.01M1417.8 1153.9h.01M1448.5 1003.4h.01M1415.9 1103.1h.01M1336.2 877.2h.01M1526.9 936.3h.01M1328.6 932.3h.01M1384.7 1079.1h.01M1420.6 1040.9h.01M1299.3 930.7h.01M1419.1 916.6h.01M1380.3 874.1h.01M1382.5 919.6h.01M1343.9 957.7h.01M1332.0 935.4h.01M1295.1 968.7h.01M1561.6 870.0h.01M1447.7 1121.6h.01M1530.4 1144.8h.01M1354.5 983.0h.01M1519.5 1121.5h.01M1495.9 1039.4h.01M1454.9 990.5h.01M1352.6 978.5h.01M1444.3 1017.0h.01M1296.3 1047.9h.01M1478.1 989.0h.01M1284.2 964.6h.01M1472.4 1124.1h.01M1279.1 1004.6h.01M1345.8 939.2h.01M1552.5 985.8h.01M1301.4 1074.5h.01M1535.8 898.9h.01M1559.4 1028.2h.01M1470.8 1028.3h.01M1499.4 906.7h.01M1521.1 1045.1h.01M1511.8 839.9h.01M1566.6 1050.9h.01M1377.9 1160.1h.01M1507.8 1070.3h.01M1496.3 1074.0h.01M1424.4 852.9h.01M1391.2 1167.6h.01M1561.2 852.1h.01M1388.4 1063.1h.01M1463.0 839.3h.01M1506.7 1108.4h.01M1332.8 862.2h.01M1479.2 947.1h.01M1534.3 938.0h.01M1508.1 1135.5h.01M1391.3 1044.2h.01M1364.0 881.3h.01M1404.7 1059.4h.01M1494.2 983.0h.01M1522.4 897.4h.01M1470.9 926.4h.01M1335.5 954.2h.01M1543.9 1050.7h.01M1359.7 1131.5h.01M1330.3 993.1h.01M1379.2 954.4h.01M1430.6 1141.2h.01M1481.8 841.2h.01M1403.4 874.5h.01M1502.4 1023.9h.01M1514.3 1106.2h.01M1514.4 994.1h.01M1460.5 1169.4h.01M1454.7 998.8h.01M1377.8 1037.5h.01M1404.1 1070.3h.01M1583.9 930.9h.01M1517.4 1059.2h.01M1421.5 832.6h.01M1433.3 913.3h.01M1493.9 818.3h.01M1543.1 1004.8h.01M1299.2 990.6h.01M1591.4 987.4h.01M1554.9 846.8h.01M1504.2 1100.0h.01M1389.7 1157.6h.01M1470.5 1050.6h.01M1404.0 1030.9h.01M1411.1 833.0h.01M1499.4 983.2h.01M1297.4 1061.7h.01M1440.1 951.1h.01M1394.1 977.7h.01M1532.8 978.1h.01M1512.0 1067.0h.01M1355.9 890.9h.01M1501.3 1000.2h.01M1426.7 843.1h.01M1563.1 1110.8h.01M1509.1 1084.8h.01M1502.9 1072.1h.01M1331.5 873.2h.01M1355.3 1127.3h.01M1476.1 856.2h.01M1496.2 927.9h.01M1455.5 1166.3h.01M1337.2 1066.6h.01M1285.3 1048.2h.01M1458.8 1030.2h.01M1400.1 951.1h.01M1471.5 854.3h.01M1303.4 1049.7h.01M1499.8 1129.4h.01M1414.7 942.7h.01M1383.1 880.6h.01M1413.4 1030.4h.01M1497.3 1103.9h.01M1587.8 1048.7h.01M1362.9 1101.2h.01M1476.7 1093.2h.01M1452.3 1037.8h.01M1530.3 1135.3h.01M1574.6 1005.7h.01M1480.6 1085.2h.01M1556.5 1110.3h.01M1424.5 1163.1h.01M1530.0 1065.8h.01M1560.2 1009.5h.01M1499.4 863.2h.01M1506.6 1145.7h.01M1420.2 974.3h.01M1379.4 864.0h.01M1544.8 1001.3h.01M1291.1 1029.1h.01M1559.8 1017.8h.01M1391.4 1051.4h.01M1541.8 1093.8h.01M1335.7 1103.3h.01M1370.5 1094.7h.01M1341.3 1084.0h.01M1283.0 1028.0h.01M1464.2 1152.4h.01M1536.7 911.2h.01M1415.1 1167.9h.01M1358.5 912.8h.01M1298.8 1066.7h.01M1269.7 922.3h.01M1438.3 1154.2h.01M1342.9 936.6h.01M1393.7 1056.4h.01M1447.7 951.0h.01M1504.5 1034.6h.01M1563.9 1114.6h.01M1366.4 1041.7h.01M1519.5 844.9h.01M1274.7 1018.6h.01M1480.7 1043.4h.01M1400.8 1020.5h.01M1301.1 998.9h.01M1438.2 1134.6h.01M1434.6 1096.1h.01M1463.8 999.8h.01M1543.7 1136.0h.01M1582.5 996.7h.01M1382.7 944.3h.01M1286.1 960.5h.01M1538.3 1055.3h.01M1558.4 894.1h.01M1468.9 904.0h.01M1445.8 924.8h.01M1388.5 1101.1h.01M1379.9 897.0h.01M1465.2 1129.1h.01M1401.6 1079.7h.01M1475.7 891.8h.01M1396.9 1170.1h.01M1365.3 1071.5h.01M1481.9 992.2h.01M1465.1 1059.8h.01M1408.1 1055.9h.01M1588.6 1056.5h.01M1376.9 999.2h.01M1326.3 1027.5h.01M1334.5 1092.2h.01M1525.1 1043.4h.01M1582.4 1042.8h.01M1402.5 914.9h.01M1445.7 830.4h.01M1545.5 1110.3h.01M1294.3 891.6h.01M1423.7 830.0h.01M1379.5 1122.9h.01M1521.1 877.6h.01M1422.9 1034.1h.01M1300.7 969.7h.01M1369.6 990.7h.01M1273.2 973.6h.01M1382.1 887.0h.01M1395.1 1130.8h.01M1451.0 853.8h.01M1405.5 1088.8h.01M1435.0 964.5h.01M1303.1 1014.4h.01M1386.4 876.5h.01M1373.0 1136.5h.01M1321.6 1013.9h.01M1562.4 1031.6h.01M1348.4 1102.2h.01M1378.4 975.9h.01M1388.6 1018.3h.01M1339.5 908.9h.01M1519.5 868.8h.01M1427.3 1078.9h.01M1485.4 1123.5h.01M1368.1 870.7h.01M1430.4 875.1h.01M1278.5 969.1h.01M1580.4 874.7h.01M1514.9 961.8h.01M1477.8 1136.0h.01M1461.3 953.8h.01M1547.0 848.2h.01M1437.9 926.0h.01M1292.1 897.3h.01M1316.8 1037.7h.01M1510.8 991.2h.01M1347.2 1027.4h.01M1527.0 996.5h.01M1426.7 957.5h.01M1477.2 852.5h.01M1319.0 1033.1h.01M1384.6 933.4h.01M1451.7 1015.1h.01M1572.6 995.6h.01M1321.7 925.4h.01M1573.5 891.6h.01M1493.7 1098.3h.01M1571.9 934.7h.01M1568.0 1036.8h.01M1374.9 971.5h.01M1329.6 1087.5h.01M1498.6 888.3h.01M1470.9 951.6h.01M1488.2 1159.2h.01M1334.1 991.2h.01M1344.4 948.5h.01M1560.5 1116.2h.01M1308.3 998.8h.01M1457.2 954.1h.01M1558.2 944.2h.01M1424.7 872.0h.01M1527.2 972.2h.01M1286.2 1024.2h.01M1504.7 932.5h.01M1486.5 1151.6h.01M1552.0 945.4h.01M1389.1 962.0h.01M1580.1 924.0h.01M1494.7 1029.2h.01M1462.4 832.5h.01M1417.4 922.3h.01M1378.0 1142.2h.01M1345.1 988.5h.01M1348.0 878.9h.01M1326.6 1059.3h.01M1407.1 1107.2h.01M1415.3 1045.3h.01M1317.6 1013.2h.01M1425.5 1144.9h.01M1329.4 883.1h.01M1447.9 858.0h.01M1419.6 871.8h.01M1279.8 979.5h.01M1395.7 983.5h.01M1402.6 1150.8h.01M1370.2 1025.9h.01M1471.2 1089.3h.01M1301.7 933.2h.01M1271.1 941.5h.01M1489.5 836.1h.01M1571.2 1036.4h.01M1539.3 975.5h.01M1479.4 975.1h.01M1472.5 1127.6h.01M1487.8 968.0h.01M1364.1 1113.7h.01M1429.1 1024.6h.01M1565.4 1086.5h.01M1324.7 1067.7h.01M1476.2 962.7h.01M1313.4 952.5h.01M1343.0 978.2h.01M1429.3 881.4h.01M1464.2 862.5h.01M1583.6 1066.9h.01M1456.2 964.5h.01M1439.2 911.3h.01M1502.0 987.1h.01M1316.5 939.8h.01M1526.0 987.7h.01M1447.5 942.6h.01M1396.8 986.9h.01M1545.0 852.7h.01M1273.3 969.7h.01M1313.6 948.8h.01M1320.2 1038.0h.01M1433.4 1079.4h.01M1348.4 922.2h.01M1416.3 1147.8h.01M1376.8 910.7h.01M1526.7 1026.5h.01M1410.8 1161.7h.01M1410.3 1093.9h.01M1475.6 835.1h.01M1548.9 874.5h.01M1436.5 952.1h.01M1367.3 1154.1h.01M1417.2 1064.7h.01M1408.0 1146.0h.01M1346.7 849.2h.01M1513.2 953.2h.01M1452.3 1046.1h.01M1357.0 1090.5h.01M1491.4 900.1h.01M1568.0 970.1h.01M1348.7 1109.2h.01M1429.5 1050.4h.01M1324.0 1061.7h.01M1439.8 1095.8h.01M1595.1 945.1h.01M1609.8 944.5h.01M1652.6 927.7h.01M1583.8 870.9h.01M1594.1 995.6h.01M1641.6 940.2h.01M1602.1 894.1h.01M1641.0 954.8h.01M1632.3 976.3h.01M1658.7 930.0h.01M1635.2 916.3h.01M1588.8 910.0h.01M1593.5 977.0h.01M1589.2 871.1h.01M1653.9 909.3h.01M1589.7 915.6h.01M1602.2 873.1h.01M1616.4 973.3h.01M1624.9 950.4h.01M1593.1 906.0h.01M1598.5 876.9h.01M1603.9 938.3h.01M1640.8 897.6h.01M1631.9 885.0h.01M1672.0 900.1h.01M1596.3 868.4h.01M1599.0 955.7h.01M1649.2 914.7h.01M1607.3 901.0h.01M1591.2 927.5h.01M1598.7 1020.1h.01M1596.8 962.1h.01M1589.9 906.5h.01M1612.2 989.6h.01M1613.9 880.1h.01M1611.8 1001.1h.01M1602.5 870.3h.01M1610.4 924.2h.01M1679.2 918.1h.01M1591.1 996.0h.01M1656.1 945.9h.01M1602.6 924.8h.01M1680.5 889.9h.01M1677.1 896.2h.01M1600.6 940.8h.01M1650.9 937.8h.01M1621.9 890.9h.01M1606.6 1010.5h.01M1608.8 1008.2h.01M1634.2 996.3h.01M1597.2 924.0h.01M1655.1 891.6h.01M1617.5 975.8h.01M1619.4 942.7h.01M1648.6 976.0h.01M1633.0 981.4h.01M1614.4 965.5h.01M1664.5 933.6h.01M1620.0 956.2h.01M1629.4 989.3h.01M1600.3 969.2h.01M1636.9 978.1h.01M1614.9 930.1h.01M1629.5 932.9h.01M1668.6 909.7h.01M1665.5 892.4h.01M1634.1 964.7h.01M1648.9 884.5h.01M1638.4 941.9h.01M1624.7 897.0h.01M1649.0 942.8h.01M1646.3 958.3h.01M1598.8 908.6h.01M1590.6 856.9h.01M1614.5 979.2h.01M1597.8 974.9h.01M1646.4 920.3h.01M1655.6 942.6h.01M1631.7 916.3h.01M1616.9 938.4h.01M1624.8 970.0h.01M1622.0 962.6h.01M1600.3 1016.8h.01M1680.5 900.6h.01M1616.9 901.8h.01M1647.8 962.5h.01M1599.5 930.7h.01M1649.8 972.9h.01M1637.8 919.9h.01M1589.1 880.4h.01M1593.1 900.0h.01M1638.3 934.2h.01M1639.8 936.8h.01M1624.0 973.4h.01M1602.3 990.6h.01M1603.7 898.6h.01M1618.6 967.3h.01M1594.3 981.2h.01M1582.1 909.6h.01M1627.0 882.0h.01M1607.7 949.6h.01M1673.5 908.9h.01M1604.2 995.1h.01M1616.0 912.0h.01M1630.5 952.8h.01M1624.8 907.5h.01M1595.8 913.2h.01M1670.7 891.9h.01M1636.1 887.3h.01M1660.4 921.9h.01M1655.8 914.7h.01M1601.0 985.5h.01M1587.6 991.1h.01M1661.9 884.4h.01M1676.8 889.8h.01M1596.0 968.5h.01M1611.1 907.3h.01M1667.6 886.6h.01M1604.3 944.4h.01M1632.9 913.1h.01M1587.2 867.6h.01M1591.8 964.5h.01M1588.3 950.5h.01M1661.0 915.2h.01M1584.1 990.6h.01M1620.8 991.1h.01M1624.4 877.3h.01M1618.1 1001.5h.01M1652.5 954.4h.01M1625.2 900.1h.01M1617.7 978.7h.01M1603.5 974.2h.01M1674.8 922.5h.01M1636.2 961.7h.01M1650.8 882.0h.01M1600.1 890.4h.01M1613.5 894.6h.01M1660.2 938.6h.01M1594.5 862.6h.01M1630.3 978.5h.01M1635.3 990.4h.01M1592.6 935.5h.01M1674.9 883.7h.01M1641.9 903.6h.01M1615.9 963.0h.01M1599.3 952.2h.01M1618.0 982.7h.01M1611.6 915.5h.01M1606.1 935.4h.01M1620.9 933.9h.01M1648.8 892.0h.01M1655.8 956.9h.01M1652.4 887.1h.01M1606.6 873.7h.01M1600.1 923.6h.01M1642.0 893.4h.01M1587.4 898.2h.01M1609.7 920.5h.01M1635.4 1003.5h.01M1639.4 917.2h.01M1654.3 898.7h.01M1594.4 966.1h.01M1625.6 986.7h.01M1595.5 999.6h.01M1664.4 902.7h.01M1596.7 996.3h.01M1656.9 938.3h.01M1602.2 959.2h.01M1643.3 907.9h.01M1599.3 983.4h.01M1660.3 904.0h.01M1657.6 898.6h.01M1596.5 892.7h.01M1597.1 1007.8h.01M1618.0 1008.0h.01M1633.6 937.9h.01M1608.6 910.2h.01M1595.1 884.0h.01M1617.5 934.6h.01M1593.2 890.9h.01M1601.6 863.3h.01M1668.2 940.3h.01M1617.4 880.3h.01M1593.8 953.7h.01M1655.9 919.1h.01M1584.8 938.3h.01M1635.0 891.5h.01M1677.8 900.1h.01M1606.5 928.5h.01M1594.7 866.0h.01M1620.6 923.7h.01M1639.3 883.1h.01M1615.0 936.5h.01M1598.1 870.5h.01M1581.7 893.6h.01M1600.2 915.5h.01M1625.3 997.7h.01M1597.0 985.1h.01M1591.6 865.4h.01M1608.1 956.4h.01M1622.7 959.3h.01M1614.7 993.4h.01M1600.5 1012.9h.01M1606.8 961.0h.01M1644.5 928.7h.01M1612.2 1013.4h.01M1584.6 913.6h.01M1586.7 895.1h.01M1651.8 894.6h.01M1628.9 876.7h.01M1631.0 971.6h.01M1629.2 966.0h.01M1587.4 912.4h.01M1599.6 962.8h.01M1618.8 921.3h.01M1599.3 934.5h.01M1666.0 906.5h.01M1629.5 939.3h.01M1632.9 898.2h.01M1627.3 974.3h.01M1584.4 864.5h.01M1547.8 997.8h.01M1507.1 1013.6h.01M1364.5 1056.4h.01M1444.8 1058.9h.01M1493.2 1043.6h.01M1433.7 969.6h.01M1476.9 1069.9h.01M1366.0 1048.5h.01M1377.4 942.5h.01M1523.0 1008.6h.01M1486.2 1090.1h.01M1462.5 892.6h.01M1524.9 1024.5h.01M1414.8 1042.2h.01M1554.6 901.5h.01M1379.5 1013.1h.01M1455.2 1054.7h.01M1372.4 937.4h.01M1404.1 923.5h.01M1473.1 1120.0h.01M1446.9 988.8h.01M1362.4 990.8h.01M1557.1 912.9h.01M1559.2 932.0h.01M1477.7 881.3h.01M1493.8 1062.5h.01M1503.0 903.7h.01M1408.4 971.2h.01M1426.9 1097.3h.01M1521.0 1092.5h.01M1446.7 997.5h.01M1403.5 879.9h.01M1383.7 1040.0h.01M1369.5 930.0h.01M1381.0 985.3h.01M1479.4 959.5h.01M1421.1 1117.2h.01M1487.3 957.9h.01M1380.3 1097.8h.01M1425.9 1074.0h.01M1423.5 1018.5h.01M1546.4 982.5h.01M1504.5 920.3h.01M1490.6 974.6h.01M1571.2 960.6h.01M1374.6 1055.9h.01M1511.9 970.9h.01M1391.8 1019.7h.01M1337.3 986.3h.01M1506.2 911.6h.01M1410.7 1024.8h.01M1315.3 979.6h.01M1447.2 1139.4h.01M1486.0 977.2h.01M1518.0 1079.2h.01M1468.1 1072.8h.01M1467.7 1030.8h.01M1357.3 977.6h.01M1381.8 972.5h.01M1323.8 1008.4h.01M1439.2 863.3h.01M1452.5 1008.5h.01M1393.2 1104.7h.01M1372.4 953.7h.01M1379.1 1050.5h.01M1441.6 879.4h.01M1484.2 896.6h.01M1457.6 1037.9h.01M1343.2 968.1h.01M1521.2 945.3h.01M1415.4 949.8h.01M1574.4 975.2h.01M1366.2 1053.2h.01M1410.6 1002.4h.01M1505.7 982.4h.01M1512.9 918.2h.01M1378.9 893.0h.01M1451.1 971.5h.01M1327.4 976.5h.01M1446.5 889.3h.01M1459.2 1020.2h.01M1425.1 972.4h.01M1396.5 1108.7h.01M1379.9 929.7h.01M1449.1 1040.3h.01M1458.7 994.8h.01M1401.5 1092.6h.01M1548.5 1034.4h.01M1447.8 931.6h.01M1373.2 894.4h.01M1488.4 924.1h.01M1450.4 928.2h.01M1432.2 1067.7h.01M1418.0 1079.0h.01M1452.9 1086.7h.01M1498.0 1026.5h.01M1500.6 929.7h.01M1488.7 1058.6h.01M1500.9 993.5h.01M1512.3 964.2h.01M1409.5 1059.8h.01M1543.7 972.3h.01M1344.0 922.9h.01M1448.9 1113.6h.01M1477.4 1109.5h.01M1535.8 1009.8h.01M1366.5 1068.7h.01M1487.6 1074.3h.01M1423.3 891.6h.01M1466.2 1112.5h.01M1519.1 1013.1h.01M1461.6 1038.8h.01M1454.7 883.1h.01M1401.0 985.2h.01M1400.3 915.7h.01M1561.6 1006.4h.01M1463.7 881.8h.01M1359.7 1040.3h.01M1469.0 957.2h.01M1418.8 934.1h.01M1520.2 959.5h.01M1352.5 890.1h.01M1562.1 941.0h.01M1446.1 952.8h.01M1469.7 961.3h.01M1351.5 1044.5h.01M1400.1 1032.6h.01M1556.6 959.4h.01M1429.2 967.2h.01M1485.9 1025.8h.01M1439.5 1115.4h.01M1321.4 985.5h.01M1577.1 991.3h.01M1368.9 1043.0h.01M1379.8 949.1h.01M1550.1 964.4h.01M1569.5 953.2h.01M1468.8 1057.5h.01M1483.1 1029.0h.01M1395.8 1022.1h.01M1458.3 1137.6h.01M1363.9 889.6h.01M1445.6 1114.1h.01M1528.5 1008.7h.01M1517.0 1028.7h.01M1333.3 972.0h.01M1341.1 1051.1h.01M1469.8 929.8h.01M1348.6 919.3h.01M1477.0 997.3h.01M1511.6 1001.2h.01M1513.6 936.0h.01M1444.8 1095.8h.01M1363.8 1053.5h.01M1570.4 1022.9h.01M1503.9 896.4h.01M1440.7 936.6h.01M1397.3 999.6h.01M1330.8 942.9h.01M1534.1 1050.1h.01M1451.7 1056.4h.01M1420.9 993.5h.01M1369.9 903.1h.01M1470.2 1010.6h.01M1474.8 1063.4h.01M1562.5 981.3h.01M1365.8 964.8h.01M1416.2 1082.9h.01M1353.4 1017.6h.01M1555.2 1059.9h.01M1400.1 1099.9h.01M1524.3 974.3h.01M1426.0 967.3h.01M1412.2 953.8h.01M1438.1 905.3h.01M1499.6 939.6h.01M1523.9 1047.3h.01M1319.5 921.2h.01M1403.2 912.5h.01M1405.0 914.0h.01M1411.2 987.5h.01M1542.8 968.7h.01M1481.9 1049.7h.01M1561.1 1020.4h.01M1440.2 998.3h.01M1406.6 983.9h.01M1439.2 932.3h.01M1449.6 1089.3h.01M1366.8 1034.4h.01M1409.3 978.6h.01M1345.0 970.7h.01M1354.7 1050.1h.01M1465.0 979.9h.01M1528.2 1037.1h.01M1339.3 1029.5h.01M1559.1 953.3h.01M1435.4 1113.5h.01M1504.9 1049.3h.01M1480.0 1027.1h.01M1378.9 1024.5h.01M1389.0 946.4h.01M1545.0 974.6h.01M1450.0 942.4h.01M1500.3 948.7h.01M1416.5 933.1h.01M1540.7 963.7h.01M1443.9 1027.7h.01M1367.5 986.6h.01M1362.8 963.5h.01M1519.9 1010.8h.01M1515.1 1061.8h.01M1559.3 1023.8h.01M1419.7 1016.4h.01M1516.2 940.8h.01M1504.8 996.9h.01M1467.4 920.0h.01M1385.5 961.1h.01M1452.4 1040.2h.01M1342.4 943.2h.01M1354.2 1045.3h.01M1515.1 1091.2h.01M1512.6 1043.0h.01M1466.6 957.7h.01M1556.6 996.2h.01M1337.5 994.8h.01M1398.9 1078.3h.01M1383.4 1099.8h.01M1384.6 1127.7h.01M1365.5 951.1h.01M1442.8 1100.8h.01M1417.1 1007.2h.01M1321.2 1000.3h.01M1360.1 1099.5h.01M1374.7 887.6h.01M1428.5 892.4h.01M1383.0 1065.6h.01M1324.1 944.9h.01M1348.1 974.4h.01M1338.4 942.9h.01M1551.9 916.3h.01M1530.3 992.0h.01M1445.2 918.2h.01M1424.3 887.2h.01M1469.5 1095.6h.01M1204.2 966.9h.01M1197.9 893.4h.01M1246.1 913.2h.01M1231.9 926.1h.01M1260.0 915.3h.01M1218.1 922.8h.01M1236.3 880.8h.01M1213.8 941.7h.01M1190.0 930.7h.01M1265.5 891.6h.01M1233.5 888.7h.01M1273.7 917.0h.01M1224.4 919.8h.01M1272.0 893.5h.01M1218.7 957.7h.01M1253.4 892.1h.01M1223.4 934.5h.01M1215.7 955.7h.01M1264.2 921.1h.01M1198.5 943.8h.01M1253.1 895.9h.01M1228.6 927.0h.01M1270.9 927.0h.01M1202.0 905.7h.01M1212.1 909.2h.01M1223.8 959.2h.01M1258.2 951.4h.01M1207.4 900.2h.01M1247.0 876.5h.01M1190.5 885.9h.01M1205.8 953.8h.01M1238.8 960.6h.01M1201.5 887.1h.01M1200.2 957.1h.01M1237.4 891.2h.01M1225.0 887.3h.01M1219.4 933.4h.01M1232.0 912.7h.01M1241.3 975.0h.01M1234.8 924.8h.01M1245.1 933.2h.01M1203.3 946.8h.01M1207.3 884.4h.01M1243.1 960.8h.01M1214.1 977.4h.01M1219.1 887.9h.01M1253.8 920.6h.01M1248.3 904.6h.01M1195.5 902.3h.01M1265.5 915.3h.01M1251.8 916.4h.01M1249.9 957.7h.01M1206.7 944.6h.01M1204.2 913.7h.01M1240.3 967.9h.01M1243.3 939.8h.01M1241.2 884.7h.01M1252.3 967.9h.01M1266.6 942.2h.01M1287.3 884.3h.01M1218.6 944.2h.01M1232.5 958.4h.01M1228.0 889.0h.01M1222.2 970.3h.01M1217.7 966.9h.01M1260.2 946.6h.01M1257.8 911.4h.01M1227.5 963.2h.01M1230.5 903.7h.01M1271.9 899.4h.01M1232.0 935.3h.01M1254.4 932.1h.01M1272.4 903.3h.01M1196.1 959.4h.01M1210.2 965.2h.01M1282.0 907.4h.01M1230.1 919.9h.01M1241.0 901.1h.01M1222.3 916.7h.01M1240.7 905.5h.01M1254.0 888.3h.01M1267.5 907.8h.01M1243.2 949.4h.01M1251.6 936.7h.01M1190.9 893.9h.01M1247.7 895.9h.01M1206.1 919.4h.01M1247.2 971.7h.01M1244.1 906.9h.01M1194.4 888.0h.01M1197.5 912.6h.01M1239.6 892.9h.01M1216.9 928.3h.01M1207.4 927.4h.01M1227.0 939.6h.01M1246.5 924.4h.01M1244.2 966.7h.01M1256.7 915.3h.01M1203.6 889.0h.01M1229.7 892.3h.01M1234.6 884.8h.01M1190.5 888.6h.01M1243.6 945.9h.01M1189.8 945.8h.01M1247.6 917.9h.01M1211.3 921.5h.01M1206.0 897.8h.01M1219.6 950.5h.01M1251.0 924.8h.01M1220.0 947.1h.01M1194.8 924.0h.01M1252.1 903.2h.01M1266.9 933.7h.01M1255.7 953.4h.01M1223.0 939.6h.01M1252.4 930.1h.01M1208.4 915.2h.01M1250.6 943.8h.01M1229.1 910.8h.01M1211.7 927.2h.01M1188.7 1025.8h.01M1186.1 1031.4h.01M1269.6 1039.2h.01M1231.5 986.0h.01M1197.2 1035.2h.01M1261.5 998.2h.01M1261.0 1013.0h.01M1193.8 988.7h.01M1204.8 998.9h.01M1187.0 994.5h.01M1192.8 1030.8h.01M1241.7 1018.6h.01M1236.7 992.8h.01M1255.0 1014.9h.01M1235.6 1025.7h.01M1179.2 992.0h.01M1265.3 1009.0h.01M1206.6 1026.7h.01M1225.3 1017.4h.01M1214.9 1017.8h.01M1233.6 1008.1h.01M1248.7 1031.6h.01M1197.8 1046.1h.01M1188.2 1045.5h.01M1214.9 993.6h.01M1235.9 996.8h.01M1226.5 988.6h.01M1209.2 1020.6h.01M1263.5 985.0h.01M1213.6 1009.9h.01M1260.5 1019.2h.01M1207.5 996.1h.01M1263.9 1002.3h.01M1195.1 1026.3h.01M1190.5 1006.3h.01M1175.4 992.5h.01M1265.0 994.5h.01M1231.0 1029.7h.01M1209.1 1033.8h.01M1248.4 977.3h.01M1227.3 998.9h.01M1187.9 1001.8h.01M1262.7 1035.6h.01M1184.5 1086.2h.01M1237.5 1067.8h.01M1274.2 1063.2h.01M1176.5 1055.9h.01M1284.5 1093.5h.01M1242.8 1096.9h.01M1228.4 1050.6h.01M1196.9 1079.3h.01M1285.9 1084.6h.01M1267.9 1087.3h.01M1167.5 1095.7h.01M1217.2 1107.9h.01M1210.2 1102.1h.01M1218.1 1084.8h.01M1234.6 1056.4h.01M1213.9 1062.9h.01M1187.6 1054.1h.01M1287.0 1103.3h.01M1263.9 1063.3h.01M1236.9 1108.6h.01M1184.5 1104.7h.01M1231.9 1085.4h.01M1153.7 1100.8h.01M1228.9 1091.6h.01M1269.0 1100.5h.01M1199.9 1092.8h.01M1176.0 1085.3h.01M1285.2 1075.9h.01M1175.3 1091.6h.01M1177.2 1063.6h.01M1255.1 1107.3h.01M1254.6 1047.0h.01M1192.9 1096.6h.01M1256.1 1102.9h.01M1232.8 1071.5h.01M1284.2 1052.8h.01M1212.9 1065.9h.01M1301.5 1102.3h.01M1262.0 1048.4h.01M1263.8 1071.9h.01M1284.8 1105.5h.01M1278.9 1054.0h.01M1229.8 1098.8h.01M1180.0 1070.9h.01M1287.4 1094.0h.01M1204.6 1087.3h.01M1203.9 1052.1h.01M1271.8 1070.6h.01M1301.6 1086.9h.01M1279.1 1050.9h.01M1202.1 1077.7h.01M1188.1 1080.5h.01M1269.5 1064.4h.01M1257.0 1091.9h.01M1194.5 1091.2h.01M1240.3 1104.8h.01M1241.7 1099.4h.01M1200.2 1105.2h.01M1205.5 1056.6h.01M1284.1 1068.0h.01M1192.4 1074.7h.01M1248.4 1082.7h.01M1292.1 1064.9h.01M1185.6 1076.2h.01M1203.1 1093.3h.01M1239.3 1094.8h.01M1221.2 1076.4h.01M1282.4 1064.7h.01M1280.3 1079.1h.01M1253.2 1044.6h.01M1215.2 1106.0h.01M1214.0 1052.0h.01M1240.3 1075.6h.01M1207.0 1095.9h.01M1254.7 1111.9h.01M1276.4 1048.4h.01M1210.1 1076.4h.01M1212.6 1113.4h.01M1256.5 1053.2h.01M1231.4 1059.6h.01M1171.8 1097.3h.01M1213.0 1099.4h.01M1178.0 1058.6h.01M1276.3 1103.0h.01M1199.5 1056.5h.01M1206.4 1081.8h.01M1242.0 1043.7h.01M1250.7 1097.3h.01M1291.4 1095.8h.01M1177.4 1075.6h.01M1209.6 1054.3h.01M1211.7 1093.1h.01M1236.4 1079.4h.01M1191.0 1054.5h.01M1236.0 1074.8h.01M1205.7 1077.3h.01M1256.8 1082.4h.01M1183.2 1054.1h.01M1297.5 1078.5h.01M1185.5 1051.9h.01M1296.6 1082.1h.01M1248.9 1050.6h.01M1251.9 1084.1h.01M1223.8 1053.3h.01M1175.0 1071.8h.01M1169.4 1089.9h.01M1201.3 1054.2h.01M1252.5 1053.9h.01M1207.7 1084.2h.01M1289.0 1072.3h.01M1221.2 1110.9h.01M1260.0 1064.1h.01M1257.2 1067.3h.01M1191.9 1061.0h.01M1217.9 1071.5h.01M1217.4 1060.6h.01M1302.6 1097.3h.01M1296.9 1089.3h.01M1244.7 1050.8h.01M1300.8 1078.7h.01M1186.1 1093.3h.01M1221.9 1043.1h.01M1191.2 1064.0h.01M1264.2 1056.7h.01M1272.1 1089.2h.01M1249.5 1088.5h.01M1160.0 935.3h.01M1177.3 930.0h.01M1149.3 936.7h.01M1165.3 899.3h.01M1173.3 907.3h.01M1184.0 910.0h.01M1186.7 923.3h.01M1178.7 918.0h.01M1174.7 895.3h.01M1169.8 885.3h.01M1149.9 874.0h.01M1164.4 889.3h.01M1185.8 885.8h.01M1148.3 865.5h.01M1157.7 869.6h.01M1157.8 879.9h.01M1177.8 879.2h.01M1155.7 876.9h.01M1163.5 884.9h.01M1168.0 881.2h.01M1159.2 885.2h.01M1177.2 890.8h.01M1148.5 860.3h.01M1164.0 878.6h.01M1146.8 871.9h.01M1174.5 885.5h.01M1171.3 875.3h.01M1188.1 891.3h.01M1171.9 890.4h.01M1145.2 867.2h.01M1180.7 886.1h.01M1142.1 865.4h.01M1143.3 858.3h.01M1150.1 870.4h.01M1151.8 866.6h.01M1177.7 883.0h.01M1181.2 890.8h.01M1155.1 885.6h.01M1143.6 875.2h.01M1153.5 859.4h.01M1175.0 876.3h.01M1183.2 881.9h.01M1161.5 872.6h.01M1178.1 894.8h.01M1153.3 879.7h.01M1156.5 873.4h.01M1144.7 862.7h.01M1172.9 879.7h.01M1188.8 882.5h.01M1221.2 899.4h.01M1220.3 913.0h.01M1207.1 908.9h.01M1180.0 873.0h.01M1197.0 883.3h.01M1187.5 898.3h.01M1202.1 901.2h.01M1184.1 902.2h.01M1210.8 905.2h.01M1213.6 900.2h.01M1207.9 888.7h.01M1205.0 892.8h.01M1212.5 894.4h.01M1218.7 904.2h.01M1219.7 895.1h.01M1223.4 909.8h.01M1223.1 890.9h.01M1188.4 903.4h.01M1191.0 909.3h.01M1235.8 901.8h.01M1194.9 1009.4h.01M1168.4 993.0h.01M1127.6 983.4h.01M1124.8 993.6h.01M1148.8 995.7h.01M1198.8 1005.6h.01M1143.6 990.4h.01M1153.2 995.7h.01M1182.2 1009.3h.01M1190.0 1000.7h.01M1173.1 1000.0h.01M1183.8 1006.4h.01M1162.7 1003.6h.01M1184.0 1003.3h.01M1176.2 1002.1h.01M1192.3 1008.5h.01M1159.8 998.2h.01M1137.3 989.6h.01M1134.8 989.9h.01M1135.8 993.7h.01M1165.1 1001.3h.01M1197.6 1012.1h.01M1157.9 1001.9h.01M1140.9 996.4h.01M1061.1 923.6h.01M1043.0 950.5h.01M1067.0 925.9h.01M1035.8 948.5h.01M1050.3 930.7h.01M1066.8 929.5h.01M1057.6 946.2h.01M1058.5 948.3h.01M1069.5 953.4h.01M1069.1 935.0h.01M1072.6 950.3h.01M1036.2 910.2h.01M1041.7 945.8h.01M1039.6 937.5h.01M1038.7 910.8h.01M1040.3 926.0h.01M1034.8 917.5h.01M1055.8 940.3h.01M1048.6 939.6h.01M1027.9 930.6h.01M1054.3 952.4h.01M1066.2 912.8h.01M1075.8 930.9h.01M1077.4 928.9h.01M1058.9 918.6h.01M1062.3 943.9h.01M1053.4 930.0h.01M1071.4 943.1h.01M1043.9 934.6h.01M1039.0 907.5h.01M1049.3 944.1h.01M1073.1 919.3h.01M1061.1 933.5h.01M1029.3 938.9h.01M1051.7 922.8h.01M1056.8 961.4h.01M1076.0 940.6h.01M1030.7 922.5h.01M1042.3 938.1h.01M1040.8 949.9h.01M1031.2 919.5h.01M1021.1 912.3h.01M1037.4 940.6h.01M1048.4 959.2h.01M1057.4 921.0h.01M1050.8 946.9h.01M1053.3 938.8h.01M1070.1 914.9h.01M1062.7 941.0h.01M1041.1 956.4h.01M1072.7 933.6h.01M1060.7 912.2h.01M1033.0 922.8h.01M1046.6 957.0h.01M1071.1 948.8h.01M1047.9 916.2h.01M1028.2 920.2h.01M1060.0 950.9h.01M1025.0 917.0h.01M1077.8 943.4h.01M1033.9 932.3h.01M1034.2 926.3h.01M1052.4 933.2h.01M1055.9 956.9h.01M1033.4 944.7h.01M1048.5 928.6h.01M1055.3 944.6h.01M1057.8 943.4h.01M1063.4 927.6h.01M1035.0 915.2h.01M1058.1 936.5h.01M1044.1 915.5h.01M1022.2 921.6h.01M1036.2 930.0h.01M1028.1 916.8h.01M1058.4 956.2h.01M1042.7 953.0h.01M1044.4 922.1h.01M1070.7 926.9h.01M1029.6 945.3h.01M1075.4 937.6h.01M1028.0 911.3h.01M1066.6 960.8h.01M1045.1 941.8h.01M1071.7 956.5h.01M1067.9 939.5h.01M1079.2 933.9h.01M1041.0 922.3h.01M1056.0 931.1h.01M1055.2 925.8h.01M1042.8 943.1h.01M1059.0 953.4h.01M1042.4 930.4h.01M1046.4 927.1h.01M1020.6 929.8h.01M1065.4 935.2h.01M1065.4 922.8h.01M1036.6 923.4h.01M1069.4 917.3h.01M1058.3 925.1h.01M1064.8 916.9h.01M1054.9 923.2h.01M1019.8 927.3h.01M1056.0 954.1h.01M1075.8 950.0h.01M1018.3 917.6h.01M1065.7 956.2h.01M1037.3 934.3h.01M1036.0 920.2h.01M1060.8 939.4h.01M1055.3 950.2h.01M1047.3 911.0h.01M1058.9 930.9h.01M1068.5 932.6h.01M1057.9 939.5h.01M1081.4 945.5h.01M1061.3 958.6h.01M1039.2 919.1h.01M1069.5 959.1h.01M1115.1 942.5h.01M1107.1 932.8h.01M1120.6 936.0h.01M1087.7 953.0h.01M1117.3 945.2h.01M1097.7 951.0h.01M1107.1 946.0h.01M1102.1 932.7h.01M1112.1 953.5h.01M1105.4 951.5h.01M1125.9 947.4h.01M1093.8 956.9h.01M1109.3 952.1h.01M1095.1 930.7h.01M1092.0 951.5h.01M1117.1 950.7h.01M1085.1 949.0h.01M1108.2 941.1h.01M1092.8 933.6h.01M1110.6 939.2h.01M1017.3 917.5h.01M1021.9 914.0h.01M1040.0 912.7h.01M1046.7 906.8h.01M1068.0 883.3h.01M1068.0 886.5h.01M1079.5 894.5h.01M1090.1 894.0h.01M1077.9 903.9h.01M1088.8 850.8h.01M1095.5 859.3h.01M1057.3 971.3h.01M1072.0 966.0h.01M1077.3 978.5h.01M1062.7 983.3h.01M1066.7 982.5h.01M1068.0 989.5h.01M1101.3 976.7h.01M1108.0 968.7h.01M1114.7 967.3h.01M1116.0 980.7h.01M1109.3 975.3h.01M1131.5 966.0h.01M1142.7 958.0h.01M1141.3 962.0h.01M1149.3 936.7h.01M1162.7 935.3h.01M1148.0 939.3h.01M1178.1 930.0h.01M1149.3 902.0h.01M1153.3 907.9h.01M1064.0 1020.7h.01M1125.3 1008.7h.01M1126.7 1020.7h.01M1129.3 1036.7h.01M1142.7 1038.0h.01M1153.3 1014.0h.01M1158.7 1024.7h.01M1153.3 1050.8h.01M1173.3 1046.0h.01M1185.3 1039.3h.01M1189.3 1027.3h.01M1202.7 985.5h.01M1076.2 1054.7h.01M1103.8 1062.0h.01M1099.5 1036.7h.01M959.1 1153.4h.01M1071.0 1061.3h.01M1108.8 1069.9h.01M1094.1 1030.4h.01M1146.9 1084.4h.01M1102.0 1119.1h.01M940.2 1162.0h.01M1071.5 1133.4h.01M943.6 1167.8h.01M1025.9 1131.6h.01M954.0 1153.9h.01M1003.8 1171.8h.01M935.6 1188.0h.01M1069.7 1080.2h.01M1113.6 1082.2h.01M991.0 1137.6h.01M1087.1 1097.2h.01M945.0 1155.3h.01M1129.1 1093.9h.01M1163.9 1088.7h.01M1042.2 1136.0h.01M969.1 1152.2h.01M1048.1 1122.4h.01M1120.4 1080.3h.01M992.7 1134.8h.01M1170.6 1080.4h.01M1048.4 1114.4h.01M1022.5 1080.6h.01M1046.7 1107.6h.01M912.5 1173.7h.01M1059.9 1059.3h.01M1078.5 1070.2h.01M936.4 1159.7h.01M1113.1 1063.8h.01M1081.8 1065.1h.01M1127.2 1110.3h.01M1070.0 1088.2h.01M947.4 1160.3h.01M1035.3 1094.1h.01M1123.2 1119.1h.01M1178.5 1079.6h.01M993.7 1168.1h.01M1168.3 1103.4h.01M918.5 1180.9h.01M983.2 1146.3h.01M1028.3 1116.0h.01M938.7 1181.0h.01M1075.3 1079.0h.01M1078.3 1108.9h.01M1139.9 1071.3h.01M997.8 1169.3h.01M1169.0 1107.0h.01M1028.5 1126.3h.01M1096.4 1069.4h.01M1094.5 1114.4h.01M1087.9 1083.9h.01M1042.4 1078.7h.01M1045.4 1104.5h.01M1093.4 1085.7h.01M1098.6 1076.2h.01M1181.5 1079.0h.01M961.1 1148.9h.01M1098.3 1081.2h.01M1053.8 1124.6h.01M921.8 1176.8h.01M1006.5 1101.9h.01M1037.5 1147.7h.01M1036.0 1159.3h.01M1016.2 1114.9h.01M1058.5 1119.8h.01M1108.5 1046.7h.01M988.4 1146.7h.01M1027.5 1098.7h.01M1054.1 1078.8h.01M1044.4 1097.7h.01M1051.5 1102.6h.01M1019.1 1152.6h.01M1110.8 1078.9h.01M1021.6 1119.5h.01M1084.3 1050.8h.01M1112.9 1095.8h.01M1036.0 1090.3h.01M1094.8 1042.7h.01M1013.1 1140.2h.01M1070.1 1093.2h.01M1044.9 1084.8h.01M1056.0 1128.8h.01M1024.2 1143.2h.01M937.7 1174.0h.01M1112.3 1069.6h.01M1018.8 1120.5h.01M949.1 1175.0h.01M1082.0 1133.5h.01M1120.0 1111.8h.01M1017.3 1102.5h.01M1004.2 1145.6h.01M1059.9 1126.5h.01M1092.5 1125.1h.01M913.5 1188.8h.01M950.3 1167.1h.01M1046.4 1144.7h.01M1108.9 1063.6h.01M933.9 1177.0h.01M987.6 1167.9h.01M1089.9 1076.8h.01M1039.2 1127.2h.01M1123.7 1080.0h.01M1106.1 1114.0h.01M1047.8 1071.8h.01M1071.6 1077.3h.01M1106.3 1125.9h.01M1051.3 1147.0h.01M1174.8 1079.7h.01M1064.5 1137.4h.01M1103.0 1099.8h.01M1036.6 1119.8h.01M1170.3 1094.1h.01M1039.9 1142.3h.01M1042.4 1123.0h.01M917.6 1173.2h.01M1085.0 1055.2h.01M1055.3 1146.5h.01M1103.0 1104.7h.01M1126.0 1104.1h.01M1106.0 1099.5h.01M943.0 1164.3h.01M1094.5 1078.1h.01M1100.5 1092.5h.01M1041.4 1069.1h.01M1050.9 1086.9h.01M1157.5 1099.4h.01M1073.5 1108.3h.01M1030.6 1096.0h.01M976.2 1159.1h.01M1130.6 1087.6h.01M1042.2 1110.2h.01M1137.1 1085.3h.01M1048.8 1132.7h.01M1073.4 1096.4h.01M1014.8 1121.6h.01M921.4 1171.5h.01M1108.1 1105.1h.01M917.4 1184.8h.01M1019.8 1156.0h.01M1018.5 1112.4h.01M1033.8 1119.8h.01M1030.5 1122.7h.01M1025.7 1114.5h.01M1033.9 1113.8h.01M1023.8 1128.2h.01M1022.0 1115.8h.01M1022.1 1108.9h.01M1020.3 1125.6h.01M1020.7 1122.3h.01M1023.6 1113.7h.01M1012.4 1124.3h.01M1025.3 1123.0h.01M1035.8 1127.6h.01M1014.2 1113.5h.01M1030.9 1135.5h.01M1027.2 1120.9h.01M1024.6 1117.5h.01M1018.2 1106.8h.01M1038.7 1118.9h.01M1022.7 1125.8h.01M1029.9 1114.0h.01M1023.7 1138.3h.01M926.6 1181.3h.01M993.5 1144.1h.01M928.3 1171.2h.01M958.2 1167.2h.01M998.9 1148.6h.01M1017.5 1147.4h.01M973.7 1174.8h.01M967.8 1173.6h.01M1010.4 1119.1h.01M982.1 1150.6h.01M947.2 1169.8h.01M1004.0 1139.6h.01M962.6 1170.2h.01M1007.6 1127.9h.01M952.7 1162.1h.01M970.2 1164.4h.01M992.7 1147.6h.01M998.0 1164.3h.01M972.8 1161.7h.01M944.3 1180.4h.01M974.7 1170.3h.01M1009.9 1145.4h.01M999.9 1153.5h.01M1001.1 1157.3h.01M1003.0 1150.9h.01M1064.2 1142.5h.01M1043.4 1152.2h.01M1043.1 1147.9h.01M1035.8 1152.9h.01M1048.6 1147.6h.01M1062.3 1145.0h.01M1031.3 1150.0h.01M1042.9 1144.6h.01M1067.5 1131.2h.01M1050.2 1151.5h.01M1033.5 1152.6h.01M1040.8 1150.7h.01M1067.3 1141.9h.01M1061.1 1135.3h.01M1039.7 1156.5h.01M1066.4 1134.4h.01M1038.0 1153.2h.01M1027.3 1148.6h.01M1070.0 1135.3h.01M1051.5 1144.0h.01M1031.4 1155.2h.01M1058.2 1141.1h.01M1047.4 1154.8h.01M1051.8 1139.0h.01M1065.2 1140.5h.01M1038.6 1150.0h.01M1043.0 1141.1h.01M1029.9 1158.9h.01M1055.6 1150.2h.01M1055.8 1139.0h.01M1112.4 1099.4h.01M1122.6 1101.5h.01M1121.3 1105.8h.01M1158.3 1092.7h.01M1142.7 1102.0h.01M1110.8 1109.1h.01M1141.0 1094.0h.01M1104.9 1107.2h.01M1140.2 1098.0h.01M1126.4 1099.4h.01M1117.6 1107.3h.01M1128.0 1105.7h.01M1137.8 1101.2h.01M1133.0 1102.2h.01M1136.7 1092.7h.01M1119.7 1101.4h.01M1138.7 1095.0h.01M1130.0 1111.3h.01M1116.4 1104.0h.01M1134.0 1104.9h.01M1140.1 1091.3h.01M1132.8 1099.6h.01M1113.9 1106.6h.01M1150.4 1092.9h.01M1158.4 1102.3h.01M1157.3 1083.0h.01M1134.5 1094.7h.01M1154.1 1094.7h.01M1116.0 1113.8h.01M1150.4 1083.8h.01M1152.0 1096.7h.01M1144.5 1093.5h.01M1146.9 1088.6h.01M1135.7 1100.6h.01M1123.4 1108.9h.01M1158.2 1096.1h.01M1129.3 1099.0h.01M1111.9 1104.5h.01M1132.3 1092.9h.01M1155.0 1098.4h.01M1080.7 1051.7h.01M1098.2 1048.4h.01M1091.9 1048.4h.01M1118.7 1041.9h.01M1106.1 1030.1h.01M1093.1 1034.2h.01M1098.0 1056.9h.01M1100.2 1032.0h.01M1089.9 1056.7h.01M1102.3 1022.8h.01M1101.7 1056.2h.01M1104.7 1037.3h.01M1079.4 1058.3h.01M1102.1 1041.7h.01M1105.9 1042.7h.01M1118.8 1038.4h.01M1086.8 1061.3h.01M1090.3 1062.5h.01M1108.3 1050.7h.01M1114.8 1049.0h.01M1093.2 1053.7h.01M1103.6 1033.1h.01M1093.6 1038.9h.01M1101.9 1026.7h.01M855.1 1197.6h.01M851.2 1174.7h.01M845.1 1173.9h.01M849.2 1197.1h.01M847.8 1190.6h.01M842.7 1166.8h.01M852.7 1188.2h.01M834.2 1158.9h.01M838.1 1173.4h.01M842.7 1176.8h.01M849.4 1201.1h.01M840.0 1179.7h.01M838.6 1157.0h.01M850.1 1183.4h.01M842.6 1163.7h.01M850.5 1203.8h.01M857.7 1202.8h.01M837.1 1168.1h.01M855.6 1210.3h.01M851.1 1179.4h.01M854.4 1192.2h.01M830.6 1162.3h.01M850.8 1194.1h.01M839.5 1163.7h.01M847.3 1167.1h.01M841.5 1169.4h.01M853.1 1200.5h.01M821.4 1158.8h.01M843.9 1203.6h.01M858.4 1197.4h.01M862.8 1192.3h.01M846.5 1181.0h.01M842.9 1181.4h.01M852.8 1207.7h.01M846.3 1177.2h.01M842.8 1185.1h.01M835.8 1164.2h.01M839.7 1166.9h.01M845.1 1170.8h.01M836.7 1154.7h.01M856.1 1207.0h.01M832.5 1167.6h.01M848.5 1185.8h.01M860.7 1195.0h.01M860.2 1207.0h.01M846.3 1163.6h.01M834.7 1178.2h.01M857.1 1193.9h.01M834.5 1173.1h.01M855.5 1186.0h.01M834.9 1169.9h.01M844.9 1196.1h.01M843.9 1191.1h.01M838.3 1160.0h.01M865.0 1196.9h.01M854.1 1203.5h.01M837.2 1176.6h.01M842.1 1172.6h.01M874.9 1197.3h.01M879.4 1189.8h.01M899.6 1186.9h.01M868.3 1188.7h.01M883.1 1189.8h.01M898.6 1182.1h.01M878.6 1201.5h.01M880.1 1183.3h.01M881.9 1197.1h.01M869.0 1198.1h.01M894.2 1176.7h.01M869.4 1194.4h.01M890.8 1193.2h.01M897.4 1190.9h.01M902.8 1185.5h.01M889.4 1188.3h.01M900.4 1194.5h.01M865.7 1200.9h.01M857.3 1215.4h.01M909.7 1176.0h.01M887.9 1191.4h.01M890.5 1184.0h.01M860.0 1200.2h.01M893.4 1185.8h.01M863.8 1209.9h.01M872.1 1191.4h.01M867.8 1209.2h.01M893.2 1189.2h.01M886.9 1196.6h.01M896.2 1202.1h.01M896.9 1184.9h.01M876.6 1194.1h.01M841.6 1195.1h.01M857.4 1188.3h.01M861.0 1203.9h.01M846.8 1205.8h.01M869.7 1213.6h.01M863.3 1182.9h.01M853.7 1194.9h.01M846.1 1201.3h.01M833.0 1196.8h.01M865.0 1203.4h.01M872.0 1205.4h.01M847.6 1193.2h.01M864.8 1187.4h.01M859.9 1190.3h.01M852.8 1184.3h.01M850.6 1191.0h.01M850.8 1209.6h.01M843.5 1211.7h.01M852.8 1150.0h.01M856.0 1160.7h.01M927.5 1144.7h.01M897.3 1164.1h.01M360.0 616.7h.01M353.8 636.0h.01M365.9 639.0h.01M357.8 632.8h.01M354.1 623.0h.01M357.1 644.1h.01M358.1 622.7h.01M345.6 631.8h.01M354.2 631.5h.01M360.0 637.5h.01M356.9 629.5h.01M366.5 634.5h.01M350.5 632.4h.01M357.2 626.8h.01M353.2 649.7h.01M348.3 633.1h.01M366.6 636.7h.01M361.1 640.4h.01M364.0 640.1h.01M361.5 626.6h.01M349.0 648.3h.01M353.0 654.1h.01M354.9 652.2h.01M356.8 659.1h.01M357.9 652.8h.01M352.7 657.7h.01M347.0 654.6h.01M356.0 654.2h.01M361.1 651.5h.01M358.9 649.2h.01M366.7 657.2h.01M353.4 640.6h.01M359.9 657.7h.01M355.3 647.7h.01M346.7 646.8h.01M355.8 638.1h.01M386.3 667.5h.01M362.4 673.5h.01M359.8 661.8h.01M383.6 659.6h.01M362.5 665.1h.01M391.0 660.1h.01M382.9 663.6h.01M355.5 670.6h.01M375.3 665.4h.01M384.4 655.2h.01M375.8 673.9h.01M366.1 675.1h.01M372.4 653.7h.01M390.4 652.6h.01M383.8 671.4h.01M368.5 666.8h.01M379.9 672.1h.01M372.1 674.5h.01M388.3 663.9h.01M373.4 668.2h.01M378.3 656.8h.01M371.7 663.6h.01M380.2 665.7h.01M373.4 659.4h.01M394.8 657.9h.01M365.0 662.9h.01M380.7 668.8h.01M379.3 659.7h.01M365.4 668.8h.01M356.1 662.2h.01M345.9 658.7h.01M356.0 671.2h.01M369.3 685.9h.01M377.3 683.2h.01M385.3 677.9h.01M398.1 685.9h.01M404.0 680.5h.01M388.0 652.0h.01M394.7 657.3h.01M460.9 697.9h.01M422.0 737.9h.01M452.4 724.2h.01M442.3 744.5h.01M434.1 661.4h.01M441.3 663.2h.01M439.5 639.7h.01M434.3 738.1h.01M420.6 731.7h.01M438.4 743.3h.01M460.3 685.1h.01M431.8 703.9h.01M452.8 687.2h.01M455.4 714.0h.01M456.9 690.7h.01M427.4 716.6h.01M451.0 680.1h.01M430.6 730.7h.01M445.9 643.2h.01M457.8 700.6h.01M437.3 668.3h.01M413.6 721.2h.01M441.6 673.7h.01M455.4 730.0h.01M412.4 685.5h.01M427.9 712.8h.01M423.9 749.1h.01M430.0 667.6h.01M461.1 693.9h.01M445.9 694.3h.01M459.8 713.5h.01M464.3 692.4h.01M462.2 715.2h.01M426.4 681.1h.01M413.8 664.8h.01M430.5 652.9h.01M417.6 683.3h.01M441.4 650.6h.01M429.2 700.7h.01M463.1 706.4h.01M419.6 669.7h.01M436.4 680.3h.01M411.3 699.2h.01M426.0 747.4h.01M430.2 735.5h.01M447.0 668.9h.01M444.1 703.5h.01M456.2 677.0h.01M434.9 693.3h.01M458.6 721.9h.01M450.8 695.7h.01M410.9 752.2h.01M470.5 675.5h.01M456.8 647.6h.01M422.4 651.5h.01M437.9 711.2h.01M420.3 659.5h.01M436.0 701.8h.01M443.7 729.4h.01M426.6 655.5h.01M473.6 701.2h.01M454.9 695.8h.01M412.2 743.2h.01M464.8 687.2h.01M419.5 653.2h.01M418.2 744.3h.01M468.3 672.1h.01M437.5 724.2h.01M402.4 724.6h.01M402.8 737.2h.01M446.7 715.7h.01M446.3 728.3h.01M427.0 684.3h.01M442.5 693.5h.01M486.9 709.0h.01M451.9 675.8h.01M434.6 671.2h.01M422.0 678.9h.01M460.3 675.5h.01M412.5 739.2h.01M415.4 689.7h.01M407.5 747.8h.01M422.4 709.4h.01M462.6 681.9h.01M448.0 649.4h.01M464.8 683.4h.01M486.9 701.7h.01M478.6 694.7h.01M479.2 699.8h.01M455.3 644.9h.01M452.7 691.9h.01M429.6 685.2h.01M409.3 712.0h.01M444.6 719.2h.01M475.1 698.5h.01M414.4 706.5h.01M426.1 737.2h.01M425.4 699.8h.01M426.1 733.1h.01M453.0 711.1h.01M418.6 739.3h.01M433.3 666.7h.01M455.9 638.8h.01M435.2 655.0h.01M408.1 663.9h.01M457.8 640.7h.01M465.8 707.4h.01M421.7 674.8h.01M446.8 689.2h.01M438.2 746.4h.01M414.1 733.1h.01M462.4 678.1h.01M410.0 661.0h.01M478.2 713.9h.01M440.4 706.2h.01M417.0 733.5h.01M427.2 675.8h.01M452.4 707.1h.01M467.7 693.1h.01M421.0 715.8h.01M438.8 683.8h.01M426.8 690.6h.01M468.5 710.0h.01M439.8 666.8h.01M459.1 711.0h.01M444.0 711.4h.01M448.5 706.1h.01M454.3 682.2h.01M449.2 698.8h.01M460.9 703.1h.01M443.7 679.8h.01M450.1 693.3h.01M444.5 696.2h.01M453.2 702.3h.01M437.1 697.2h.01M456.8 705.0h.01M447.0 684.7h.01M459.0 704.4h.01M439.5 702.7h.01M452.2 699.1h.01M446.4 704.6h.01M448.8 719.4h.01M449.4 668.4h.01M440.2 690.0h.01M440.7 718.3h.01M448.8 674.3h.01M445.7 678.9h.01M450.2 671.7h.01M450.2 730.0h.01M449.4 703.8h.01M448.6 701.0h.01M435.5 713.3h.01M448.3 708.9h.01M440.2 710.1h.01M455.7 727.8h.01M440.0 739.3h.01M456.5 718.1h.01M446.6 671.7h.01M416.8 699.1h.01M422.2 741.1h.01M415.7 719.9h.01M416.0 729.7h.01M421.7 724.6h.01M408.0 698.2h.01M403.4 716.9h.01M413.6 713.5h.01M419.6 727.2h.01M428.7 729.2h.01M430.9 724.0h.01M405.9 728.2h.01M427.1 708.9h.01M433.0 710.0h.01M410.5 723.2h.01M413.7 723.8h.01M427.6 702.4h.01M419.7 722.6h.01M492.0 688.0h.01M484.0 696.0h.01M496.0 702.7h.01M489.3 712.0h.01M502.7 711.5h.01M470.7 678.7h.01M474.7 685.3h.01M606.4 666.8h.01M586.7 641.6h.01M608.0 643.9h.01M564.7 646.9h.01M561.5 656.7h.01M592.4 676.6h.01M596.6 673.6h.01M606.5 651.4h.01M592.0 702.0h.01M601.3 677.3h.01M601.5 667.3h.01M606.9 646.4h.01M589.7 637.5h.01M614.5 676.5h.01M590.4 670.2h.01M586.0 695.3h.01M607.3 688.3h.01M581.2 672.8h.01M567.3 679.1h.01M610.2 684.8h.01M569.8 674.3h.01M609.2 668.6h.01M624.3 646.8h.01M603.0 683.7h.01M578.0 663.2h.01M585.8 667.2h.01M589.8 675.4h.01M592.4 672.4h.01M584.3 692.7h.01M559.4 661.1h.01M594.3 647.5h.01M607.2 681.7h.01M595.2 639.1h.01M571.1 660.7h.01M578.1 643.1h.01M561.8 667.8h.01M615.4 652.8h.01M592.4 639.5h.01M571.0 654.6h.01M596.6 681.4h.01M563.5 670.7h.01M600.6 656.2h.01M556.3 666.9h.01M570.0 649.6h.01M567.4 642.1h.01M598.3 704.2h.01M578.2 649.5h.01M614.0 646.0h.01M611.2 653.8h.01M616.6 671.8h.01M622.0 654.7h.01M551.3 641.2h.01M582.4 676.5h.01M618.5 680.1h.01M573.5 677.8h.01M579.2 670.4h.01M613.4 679.6h.01M603.5 638.0h.01M594.9 688.8h.01M600.3 637.4h.01M576.0 656.8h.01M580.1 692.5h.01M605.3 695.9h.01M568.9 653.0h.01M574.0 683.0h.01M618.9 668.3h.01M586.3 701.4h.01M575.8 688.4h.01M605.1 656.7h.01M596.4 667.7h.01M615.4 662.7h.01M614.3 669.2h.01M609.6 671.5h.01M606.4 678.4h.01M580.2 655.6h.01M558.1 653.4h.01M583.3 684.8h.01M580.4 667.1h.01M573.5 653.7h.01M575.1 665.7h.01M575.0 651.6h.01M600.1 653.8h.01M601.4 659.9h.01M567.1 648.2h.01M565.0 666.4h.01M596.1 655.7h.01M567.1 685.3h.01M627.0 673.1h.01M612.8 649.1h.01M593.9 706.3h.01M610.1 650.2h.01M607.0 662.1h.01M600.6 694.4h.01M621.8 658.6h.01M600.7 641.0h.01M586.7 663.7h.01M617.3 685.4h.01M560.0 636.4h.01M569.2 645.5h.01M618.7 646.4h.01M594.1 693.9h.01M599.4 646.8h.01M600.9 662.6h.01M614.8 665.2h.01M595.1 663.8h.01M604.8 634.7h.01M577.1 668.3h.01M624.8 651.4h.01M623.5 681.7h.01M594.3 657.9h.01M563.9 681.9h.01M570.5 692.6h.01M593.8 681.7h.01M578.5 631.7h.01M575.0 647.3h.01M585.0 679.2h.01M600.8 691.0h.01M582.2 687.8h.01M562.4 645.9h.01M614.4 658.3h.01M579.9 681.8h.01M574.9 671.4h.01M579.3 639.4h.01M568.5 683.1h.01M560.0 671.6h.01M572.3 650.4h.01M564.9 658.5h.01M583.5 659.3h.01M624.1 668.9h.01M604.5 674.6h.01M558.2 648.4h.01M605.0 644.6h.01M621.7 679.6h.01M555.9 657.6h.01M595.4 593.7h.01M589.9 596.7h.01M602.6 609.4h.01M600.9 588.6h.01M595.6 626.8h.01M596.6 599.7h.01M587.5 602.7h.01M594.7 620.8h.01M604.9 624.1h.01M600.1 583.4h.01M602.4 585.8h.01M601.0 618.3h.01M596.2 577.4h.01M593.3 633.7h.01M591.9 627.6h.01M599.0 586.3h.01M596.6 613.1h.01M589.1 607.8h.01M601.2 594.4h.01M598.3 610.0h.01M592.4 606.9h.01M591.9 591.6h.01M597.8 619.6h.01M581.8 624.0h.01M602.6 601.6h.01M595.5 581.3h.01M593.5 603.0h.01M604.6 582.4h.01M597.7 604.3h.01M591.0 624.6h.01M590.9 619.2h.01M594.6 609.3h.01M604.8 594.0h.01M604.6 615.0h.01M598.0 589.4h.01M589.7 645.5h.01M588.1 628.6h.01M593.0 616.0h.01M596.7 632.3h.01M599.5 614.3h.01M585.2 626.4h.01M605.7 609.3h.01M589.2 613.0h.01M597.1 616.2h.01M591.0 581.9h.01M601.4 625.7h.01M586.0 610.4h.01M586.4 638.0h.01M594.9 587.9h.01M596.2 584.6h.01M598.0 595.2h.01M602.5 628.9h.01M583.1 609.7h.01M591.8 585.2h.01M582.5 613.2h.01M592.6 599.3h.01M589.5 633.8h.01M601.0 605.8h.01M591.6 610.9h.01M582.4 628.2h.01M604.5 605.8h.01M587.7 581.9h.01M607.6 554.5h.01M608.0 544.0h.01M600.5 568.1h.01M602.0 558.6h.01M602.9 563.6h.01M611.7 547.7h.01M599.7 554.0h.01M613.7 536.9h.01M619.2 531.4h.01M606.9 549.5h.01M612.8 542.5h.01M504.5 609.1h.01M522.5 618.1h.01M526.5 614.6h.01M554.8 634.8h.01M551.2 632.2h.01M525.2 621.2h.01M542.9 624.3h.01M509.9 606.6h.01M550.9 637.5h.01M501.7 619.1h.01M517.3 612.7h.01M561.9 640.1h.01M534.0 630.5h.01M531.1 619.8h.01M521.4 612.7h.01M527.5 618.4h.01M500.5 612.1h.01M495.6 613.5h.01M546.1 626.9h.01M547.3 633.7h.01M496.7 616.8h.01M514.7 609.7h.01M539.4 633.4h.01M506.6 613.0h.01M538.8 620.7h.01M514.7 617.6h.01M498.7 608.9h.01M524.3 610.9h.01M534.9 627.0h.01M538.2 628.2h.01M529.9 623.8h.01M519.9 620.7h.01M543.0 632.6h.01M512.4 613.0h.01M634.0 606.4h.01M649.6 583.6h.01M653.7 593.0h.01M637.3 595.8h.01M641.2 592.1h.01M621.1 606.4h.01M636.5 600.4h.01M660.6 580.8h.01M653.3 597.5h.01M640.6 604.9h.01M665.7 588.3h.01M630.2 593.6h.01M656.6 588.1h.01M646.3 608.2h.01M631.8 597.8h.01M654.1 583.1h.01M645.3 590.0h.01M658.6 592.2h.01M666.8 593.3h.01M651.6 589.5h.01M627.4 609.9h.01M666.7 581.8h.01M673.0 561.6h.01M677.9 559.5h.01M666.3 566.0h.01M679.8 554.3h.01M682.1 548.0h.01M666.1 573.2h.01M671.2 569.2h.01M698.5 623.0h.01M687.1 628.5h.01M711.6 620.1h.01M707.4 626.0h.01M716.9 633.8h.01M694.9 631.8h.01M716.3 630.5h.01M718.7 622.1h.01M697.6 631.2h.01M699.7 632.0h.01M717.8 626.9h.01M707.5 617.3h.01M719.7 632.6h.01M699.8 639.1h.01M702.0 631.0h.01M702.8 609.4h.01M706.7 632.8h.01M701.8 634.2h.01M708.1 623.1h.01M703.0 626.7h.01M704.8 643.1h.01M726.8 618.4h.01M713.5 625.8h.01M714.0 642.9h.01M707.8 635.3h.01M711.1 627.7h.01M714.3 637.3h.01M718.2 613.1h.01M695.2 635.3h.01M720.4 616.6h.01M725.1 642.9h.01M712.7 630.8h.01M704.1 635.6h.01M690.1 638.0h.01M697.5 641.8h.01M695.9 638.6h.01M710.1 631.2h.01M703.2 618.5h.01M684.7 632.2h.01M727.2 622.8h.01M705.5 629.0h.01M730.2 630.0h.01M707.6 619.6h.01M693.3 627.8h.01M722.2 631.8h.01M702.7 639.8h.01M715.6 627.9h.01M710.9 650.4h.01M737.0 621.5h.01M750.6 621.8h.01M752.6 627.0h.01M744.9 621.0h.01M755.8 623.4h.01M740.8 617.8h.01M735.4 616.3h.01M731.3 620.5h.01M725.3 607.5h.01M726.7 609.3h.01M701.3 592.0h.01M701.3 607.5h.01M681.3 611.2h.01M689.3 612.5h.01M669.3 623.5h.01M674.7 623.5h.01M682.7 622.7h.01M686.7 630.7h.01M669.3 640.0h.01M656.8 637.9h.01M645.9 633.9h.01M624.0 634.1h.01M630.7 639.5h.01M691.5 654.7h.01M702.7 653.9h.01M696.8 666.7h.01M684.8 706.7h.01M642.5 683.7h.01M662.5 685.1h.01M660.3 677.6h.01M641.3 689.0h.01M657.4 681.1h.01M660.6 671.4h.01M666.2 674.4h.01M666.3 667.9h.01M634.8 683.6h.01M647.4 687.9h.01M628.1 679.4h.01M673.6 667.8h.01M675.6 660.3h.01M651.2 683.0h.01M623.4 689.3h.01M658.0 690.3h.01M668.7 679.3h.01M675.8 672.6h.01M627.3 685.6h.01M653.3 678.3h.01M651.8 693.6h.01M654.6 672.4h.01M670.5 662.1h.01M634.7 689.1h.01M654.3 686.6h.01M674.3 655.3h.01M646.6 693.1h.01M638.3 678.3h.01M607.7 700.3h.01M629.2 712.6h.01M620.1 693.7h.01M633.3 708.5h.01M608.7 711.1h.01M613.3 717.8h.01M647.1 715.5h.01M611.9 705.3h.01M652.7 722.6h.01M645.0 730.2h.01M614.5 724.8h.01M629.2 719.1h.01M649.4 727.8h.01M641.0 727.1h.01M640.5 713.7h.01M620.2 708.7h.01M632.6 726.9h.01M638.6 722.3h.01M657.7 736.2h.01M646.6 734.4h.01M652.6 730.8h.01M664.2 733.1h.01M661.6 730.7h.01M662.5 725.5h.01M649.2 735.2h.01M667.4 729.5h.01M656.9 721.6h.01M654.8 734.9h.01M658.9 742.3h.01M668.4 741.0h.01M651.1 742.7h.01M668.5 731.9h.01M673.3 742.0h.01M654.7 738.3h.01M653.0 728.1h.01M665.7 724.2h.01M667.9 738.2h.01M645.3 741.0h.01M670.3 736.1h.01M656.8 731.0h.01M662.1 740.4h.01M660.4 728.6h.01M577.5 738.2h.01M572.6 727.0h.01M577.1 701.5h.01M580.7 756.5h.01M573.8 713.6h.01M576.6 707.3h.01M581.1 710.9h.01M571.3 722.0h.01M572.4 739.1h.01M577.7 718.8h.01M572.7 732.5h.01M581.5 729.2h.01M581.8 750.4h.01M568.9 743.2h.01M574.7 749.8h.01M517.5 765.2h.01M534.2 773.1h.01M526.8 768.4h.01M531.1 773.1h.01M520.4 786.2h.01M518.5 775.7h.01M523.4 764.4h.01M532.8 770.4h.01M518.9 757.9h.01M532.7 765.2h.01M523.4 773.6h.01M517.9 755.0h.01M528.8 786.8h.01M524.7 753.6h.01M536.2 750.5h.01M531.7 754.1h.01M525.2 748.8h.01M523.4 785.3h.01M530.3 757.7h.01M517.7 783.3h.01M522.3 761.5h.01M529.4 763.0h.01M521.5 769.1h.01M526.1 759.6h.01M536.0 758.4h.01M528.1 751.8h.01M521.1 778.4h.01M529.8 747.3h.01M528.6 783.7h.01M522.5 755.9h.01M517.6 748.5h.01M538.9 748.0h.01M528.2 777.5h.01M532.9 761.7h.01M528.9 780.4h.01M537.5 767.9h.01M538.5 737.0h.01M535.2 742.7h.01M535.1 731.5h.01M531.1 725.4h.01M533.8 738.8h.01M539.2 742.1h.01M541.6 731.4h.01M529.4 734.4h.01M528.8 728.7h.01M544.8 738.6h.01M542.6 727.3h.01M538.2 727.3h.01M529.3 740.6h.01M526.8 744.5h.01M573.7 757.5h.01M567.8 754.1h.01M558.7 759.3h.01M547.5 757.7h.01M558.8 751.6h.01M566.7 758.8h.01M586.6 751.7h.01M564.1 763.3h.01M554.0 756.3h.01M571.0 764.8h.01M579.0 763.4h.01M563.5 750.4h.01M561.8 755.6h.01M548.1 752.4h.01M553.2 748.8h.01M583.9 761.4h.01M570.2 748.6h.01M562.4 775.9h.01M568.3 774.5h.01M550.1 766.6h.01M544.3 763.4h.01M538.7 772.9h.01M556.6 769.3h.01M557.4 774.4h.01M547.5 773.2h.01M561.1 769.6h.01M576.4 777.3h.01M575.1 768.1h.01M564.9 780.3h.01M578.1 772.1h.01M497.3 741.3h.01M496.8 776.8h.01M510.7 792.5h.01M516.0 790.7h.01M520.0 798.7h.01M523.5 806.7h.01M528.8 796.5h.01M514.1 782.1h.01M562.7 788.0h.01M584.8 797.9h.01M661.3 695.1h.01M549.6 715.1h.01M609.8 605.7h.01M651.9 703.0h.01M627.5 726.8h.01M550.9 679.5h.01M633.4 655.5h.01M665.6 651.2h.01M532.0 715.3h.01M613.0 689.4h.01M570.6 668.7h.01M644.4 624.7h.01M559.3 735.6h.01M654.7 628.5h.01M532.0 653.6h.01M555.6 730.4h.01M516.9 711.5h.01M627.2 664.3h.01M656.1 647.5h.01M513.4 678.9h.01M530.4 686.1h.01M591.7 739.6h.01M548.2 662.4h.01M610.0 734.7h.01M599.3 731.2h.01M649.3 710.3h.01M564.3 692.3h.01M592.4 726.7h.01M657.7 664.3h.01M560.2 695.5h.01M625.1 700.3h.01M652.2 655.0h.01M644.2 700.0h.01M611.3 611.0h.01M670.5 629.0h.01M621.2 728.4h.01M549.1 709.9h.01M563.6 715.0h.01M644.9 655.2h.01M506.9 666.2h.01M537.3 711.6h.01M621.5 588.0h.01M659.1 613.4h.01M525.8 696.8h.01M557.6 627.2h.01M608.5 628.9h.01M523.0 725.1h.01M654.0 604.1h.01M570.1 620.1h.01M603.5 707.5h.01M616.7 621.2h.01M617.6 774.6h.01M617.3 746.0h.01M615.9 754.5h.01M626.1 773.4h.01M604.9 763.3h.01M614.7 760.4h.01M608.0 759.1h.01M620.4 767.1h.01M627.0 745.5h.01M614.2 787.7h.01M611.4 750.2h.01M623.3 762.0h.01M619.0 751.0h.01M605.3 740.4h.01M612.9 744.9h.01M616.9 780.9h.01M604.2 735.3h.01M620.2 786.7h.01M607.6 748.3h.01M623.1 790.7h.01M623.6 780.6h.01M609.2 754.4h.01M609.4 781.9h.01M616.4 798.2h.01M622.7 754.5h.01M618.6 794.2h.01M616.2 736.1h.01M621.4 771.9h.01M627.3 765.6h.01M603.7 744.8h.01M611.1 740.3h.01M625.0 785.2h.01M606.6 785.4h.01M609.9 770.3h.01M619.5 759.8h.01M610.9 762.4h.01M616.5 769.9h.01M631.9 766.5h.01M602.9 815.0h.01M608.1 816.1h.01M603.8 818.4h.01M596.5 810.7h.01M596.2 825.1h.01M599.9 808.5h.01M605.8 812.9h.01M606.0 803.9h.01M613.7 801.6h.01M592.0 831.9h.01M595.1 829.3h.01M588.5 830.5h.01M594.3 819.0h.01M619.0 789.4h.01M591.7 825.3h.01M611.0 808.3h.01M614.2 794.8h.01M601.7 820.4h.01M612.5 805.0h.01M587.7 834.2h.01M601.4 817.1h.01M597.7 818.4h.01M597.7 828.2h.01M620.0 799.0h.01M600.6 805.9h.01M605.1 800.6h.01M609.5 790.9h.01M593.1 815.1h.01M607.8 807.7h.01M602.8 811.7h.01M612.7 797.7h.01M595.7 815.5h.01M591.4 828.6h.01M583.9 826.5h.01M606.8 821.6h.01M614.1 817.7h.01M608.9 800.8h.01M593.9 822.9h.01M616.4 792.2h.01M599.0 822.5h.01M599.3 811.2h.01M609.2 797.5h.01M600.1 814.3h.01M616.4 804.6h.01M613.7 791.8h.01M604.0 797.0h.01M572.0 842.3h.01M587.8 844.0h.01M574.4 841.6h.01M568.6 846.1h.01M571.4 850.7h.01M584.8 834.4h.01M582.5 831.0h.01M567.6 852.1h.01M566.3 845.7h.01M569.1 841.6h.01M565.0 856.0h.01M556.7 855.0h.01M584.6 836.8h.01M587.0 838.8h.01M556.2 852.1h.01M571.5 847.1h.01M573.3 845.3h.01M558.2 860.5h.01M566.7 848.2h.01M581.0 834.3h.01M553.6 855.6h.01M561.1 849.8h.01M563.9 842.7h.01M555.3 846.1h.01M559.5 858.4h.01M564.0 846.9h.01M582.4 841.3h.01M560.6 854.9h.01M570.6 837.9h.01M575.2 837.8h.01M558.4 847.6h.01M575.9 844.7h.01M565.8 837.3h.01M572.2 839.7h.01M562.3 845.1h.01M578.8 841.3h.01M557.5 850.2h.01M560.0 844.5h.01M553.0 850.7h.01M565.3 859.6h.01M549.1 859.0h.01M579.2 848.5h.01M557.1 867.7h.01M554.6 848.9h.01M563.7 853.2h.01M562.1 838.4h.01M550.4 845.3h.01M548.1 849.0h.01M575.4 849.2h.01M566.4 840.8h.01M555.7 859.0h.01M551.3 863.9h.01M547.9 852.7h.01M552.0 861.5h.01M551.7 848.8h.01M571.8 855.3h.01M560.3 834.8h.01M546.3 864.4h.01M551.8 859.2h.01M550.0 854.4h.01M541.2 851.0h.01M556.1 865.6h.01M560.2 866.5h.01M564.1 850.6h.01M556.6 840.6h.01M561.5 861.9h.01M561.0 823.0h.01M556.0 828.0h.01M569.0 826.0h.01M575.0 827.4h.01M578.0 820.0h.01M585.0 816.0h.01M588.0 820.0h.01M592.0 809.6h.01M589.0 810.6h.01M577.0 804.0h.01M573.0 807.4h.01M577.0 812.0h.01M544.0 840.0h.01M544.0 853.0h.01M608.0 828.0h.01M631.5 530.7h.01M1024.4 614.4h.01M1013.4 627.4h.01M1010.4 633.4h.01M1004.4 644.4h.01M1006.0 648.0h.01M1005.4 651.6h.01M999.4 650.0h.01M997.6 653.0h.01M993.6 658.0h.01M1000.8 658.4h.01M985.4 654.8h.01M1003.2 671.0h.01M1007.6 669.6h.01M1015.6 671.0h.01M1019.4 684.2h.01M997.6 687.2h.01M1013.4 688.0h.01M903.0 647.0h.01M905.0 648.4h.01M907.0 650.0h.01M919.0 652.8h.01M938.8 654.2h.01M938.0 663.2h.01M944.0 658.4h.01M948.0 660.0h.01M952.0 657.0h.01M954.0 659.0h.01M955.0 662.0h.01M958.0 664.0h.01M949.0 670.0h.01M946.0 665.0h.01M952.0 664.0h.01M965.0 660.4h.01M969.0 661.4h.01M928.4 673.2h.01M926.4 678.4h.01M922.4 676.4h.01M917.2 680.4h.01M914.4 682.8h.01M901.6 685.4h.01M1032.0 701.0h.01M1038.0 705.0h.01M1048.0 705.0h.01M1051.6 700.8h.01M1055.0 707.0h.01M1057.0 711.0h.01M1067.6 709.6h.01M1075.0 712.4h.01M1046.0 715.0h.01M1053.0 716.0h.01M1061.6 716.6h.01M1051.0 723.6h.01M1053.4 732.0h.01M1064.0 745.6h.01M1067.0 745.0h.01M1026.0 729.0h.01M1025.0 731.0h.01M1030.4 744.4h.01M1038.0 744.0h.01M1037.0 735.0h.01M1119.4 719.8h.01M1125.4 719.8h.01M1159.4 724.0h.01M1151.2 732.0h.01M1150.0 767.0h.01M1158.0 770.0h.01M1156.0 773.0h.01M1144.0 774.0h.01M1170.0 770.0h.01M1171.4 778.6h.01M1178.0 778.6h.01M1158.4 779.0h.01M1148.0 785.0h.01M1154.0 785.4h.01M1147.4 789.0h.01M1146.4 795.0h.01M1151.0 795.0h.01M1153.6 800.0h.01M1149.6 806.4h.01M1142.0 808.0h.01M1138.0 810.0h.01M1140.0 813.0h.01M1133.4 817.6h.01M1148.0 818.0h.01M1150.0 819.0h.01M1166.0 816.0h.01M1138.0 824.4h.01M1143.0 826.0h.01M1132.6 829.2h.01M1139.0 830.0h.01M1145.0 828.6h.01M1153.0 827.4h.01M1169.6 825.4h.01M1177.4 830.8h.01M1136.0 836.0h.01M1175.0 839.6h.01M1190.6 821.4h.01M1089.0 851.6h.01M1095.6 859.4h.01M1040.0 738.1h.01M1038.7 725.3h.01M1021.3 698.5h.01M1023.4 714.5h.01M1031.9 712.8h.01M1019.4 706.9h.01M1017.2 693.8h.01M1041.8 730.4h.01M1031.6 707.7h.01M1017.3 704.6h.01M1033.9 730.8h.01M1012.0 703.7h.01M1029.2 716.4h.01M1034.0 717.4h.01M1024.6 709.2h.01M1042.9 736.7h.01M1035.4 726.0h.01M1015.3 698.1h.01M1013.8 707.0h.01M1031.7 722.7h.01M1036.8 719.1h.01M1013.0 694.2h.01M1045.2 733.2h.01M1025.7 717.9h.01M1020.3 703.5h.01M1044.7 740.2h.01M1002.1 691.9h.01M1038.7 729.2h.01M1018.3 699.7h.01M1040.1 722.0h.01M1015.3 701.5h.01M1021.2 710.5h.01M1004.8 706.5h.01M1009.9 707.0h.01M1047.5 736.6h.01M1026.5 713.3h.01M1018.7 712.8h.01M1044.0 724.8h.01M1015.2 710.5h.01M1012.5 700.3h.01M1035.0 722.3h.01M1048.4 730.4h.01M1029.2 710.4h.01M1032.2 725.7h.01M1022.4 717.3h.01M1006.7 691.2h.01M1008.3 695.8h.01M1040.4 733.5h.01M1025.9 724.4h.01M1004.0 700.8h.01M1053.1 739.7h.01M1032.5 734.1h.01M1008.8 703.5h.01M1009.0 699.1h.01M1031.3 728.7h.01M1048.1 726.3h.01M1050.3 737.5h.01M1014.0 714.0h.01M1048.9 741.3h.01M1004.1 695.6h.01M1011.4 696.7h.01M1027.9 721.9h.01M1022.8 706.5h.01M1024.3 703.4h.01M1020.7 695.5h.01M1039.9 741.6h.01M1039.1 715.9h.01M1027.7 704.0h.01M1035.0 710.6h.01M1036.3 714.4h.01M1031.3 718.8h.01M1039.1 711.7h.01M1044.3 721.6h.01M1026.9 707.1h.01M1025.9 696.3h.01M1029.1 725.8h.01M1007.2 709.2h.01M1022.7 724.2h.01M1064.7 766.9h.01M1056.2 757.3h.01M1050.7 749.8h.01M1060.5 756.7h.01M1063.7 756.4h.01M1065.0 762.7h.01M1055.8 753.0h.01M1069.1 762.5h.01M1052.2 746.8h.01M1071.1 766.3h.01M1067.0 760.0h.01M1059.5 753.7h.01M1074.0 764.2h.01M1061.3 760.6h.01M1050.2 744.3h.01M1055.4 748.3h.01M1059.1 749.4h.01M1072.1 761.6h.01M1047.1 745.6h.01M1071.5 769.7h.01M1053.5 743.0h.01M1068.0 766.0h.01M1052.9 753.9h.01M1063.0 750.2h.01M450.4 1002.4h.01M451.2 1010.9h.01M451.2 1016.5h.01M453.6 1031.2h.01M448.0 1036.0h.01M448.8 1041.6h.01M525.6 1007.5h.01M518.4 1033.3h.01M513.1 1030.7h.01M508.0 1034.4h.01M504.8 1036.8h.01M507.2 1043.2h.01M500.0 1041.6h.01M496.8 1038.4h.01M492.8 1037.6h.01M495.2 1048.0h.01M490.4 1047.2h.01M489.6 1056.0h.01M481.1 1052.3h.01M482.4 1059.2h.01M485.6 1062.4h.01M484.0 1064.8h.01M476.0 1066.4h.01M471.7 1072.8h.01M466.1 1057.6h.01M465.6 1060.0h.01M480.0 1077.9h.01M481.6 1077.9h.01M485.6 1090.9h.01M481.1 1092.5h.01M482.7 1096.3h.01M477.6 1098.9h.01M504.5 1146.4h.01M523.2 1175.2h.01M508.0 1158.1h.01M512.8 1168.0h.01M449.6 1048.0h.01M457.6 1072.2h.01M460.4 1075.5h.01M451.3 1069.8h.01M448.4 1050.7h.01M453.9 1069.4h.01M454.3 1065.0h.01M450.5 1061.6h.01M446.4 1052.9h.01M453.1 1058.9h.01M448.4 1055.4h.01M453.4 1061.6h.01M450.2 1057.7h.01M459.1 1079.2h.01M462.7 1075.8h.01M457.1 1069.8h.01M451.3 1064.3h.01M447.9 1066.5h.01M451.6 1052.7h.01M447.9 1063.8h.01M449.7 1044.8h.01M456.7 1066.1h.01M456.9 1075.1h.01M448.0 1059.9h.01M455.1 1073.4h.01M456.0 1077.5h.01M450.2 1066.4h.01M460.2 1073.0h.01M446.5 1047.3h.01M450.8 1055.3h.01M451.6 1050.4h.01M461.5 1079.3h.01M449.3 1068.6h.01M493.2 1126.6h.01M471.5 1100.5h.01M468.7 1093.6h.01M491.0 1121.7h.01M462.8 1081.2h.01M487.6 1118.4h.01M460.8 1082.8h.01M495.9 1128.7h.01M500.9 1133.9h.01M467.7 1091.8h.01M464.9 1085.9h.01M477.0 1107.8h.01M481.2 1111.5h.01M492.6 1121.4h.01M497.2 1131.5h.01M470.0 1098.1h.01M502.0 1135.6h.01M459.2 1080.8h.01M490.6 1123.3h.01M496.9 1135.1h.01M476.8 1110.6h.01M465.8 1089.3h.01M475.7 1105.0h.01M493.4 1130.9h.01M479.2 1110.3h.01M481.7 1113.2h.01M482.8 1115.4h.01M475.4 1103.0h.01M477.2 1103.7h.01M463.1 1087.1h.01M458.8 1077.2h.01M486.0 1116.7h.01M467.6 1096.4h.01M469.7 1095.1h.01M473.8 1105.1h.01M497.9 1133.3h.01M477.7 1106.3h.01M464.5 1083.9h.01M489.2 1121.3h.01M466.1 1091.3h.01M483.1 1112.1h.01M472.8 1103.6h.01M466.5 1086.9h.01M503.1 1138.2h.01M492.3 1124.1h.01M464.2 1082.2h.01M473.5 1098.0h.01M499.1 1132.1h.01M464.1 1088.8h.01M461.4 1084.5h.01M500.1 1136.3h.01M483.6 1117.3h.01M460.9 1087.0h.01M479.2 1112.2h.01M480.5 1114.4h.01M474.3 1101.3h.01M487.2 1120.3h.01M501.6 1132.4h.01M498.4 1128.3h.01M475.6 1108.6h.01M464.2 1093.3h.01M494.4 1124.6h.01M513.0 1159.8h.01M516.3 1159.8h.01M523.3 1160.9h.01M506.7 1164.9h.01M511.4 1152.2h.01M514.5 1156.7h.01M509.2 1160.8h.01M519.6 1159.4h.01M513.9 1161.9h.01M525.8 1160.0h.01M514.6 1164.7h.01M518.5 1164.6h.01M1266.4 872.2h.01M1254.2 882.0h.01M1324.9 848.4h.01M1335.2 844.6h.01M1298.8 852.8h.01M1265.7 857.8h.01M1275.9 847.7h.01M1308.6 839.3h.01M1322.6 840.3h.01M1320.5 851.0h.01M1255.7 851.7h.01M1249.4 865.7h.01M1264.7 881.4h.01M1293.7 873.5h.01M1286.2 854.3h.01M1241.8 847.3h.01M1311.4 833.7h.01M1248.6 840.8h.01M1297.6 762.6h.01M1282.9 811.9h.01M1228.0 783.4h.01M1298.4 784.2h.01M1275.0 813.0h.01M1272.0 807.9h.01M1293.0 754.6h.01M1286.2 778.7h.01M1260.2 766.5h.01M1268.9 806.5h.01M1269.0 802.2h.01M1231.5 786.6h.01M1234.9 770.1h.01M1263.8 758.5h.01M1281.6 806.4h.01M1228.8 774.4h.01M1276.1 791.9h.01M1261.1 812.2h.01M1290.6 801.1h.01M1225.0 771.5h.01M1235.4 765.1h.01M1279.8 790.5h.01M1299.7 769.0h.01M1285.1 781.2h.01M1300.4 758.0h.01M1228.2 793.6h.01M1252.5 761.2h.01M1289.7 765.8h.01M1253.8 744.6h.01M1263.4 783.9h.01M1294.0 773.1h.01M1280.9 777.4h.01M1246.7 756.1h.01M1277.3 749.6h.01M1287.4 799.3h.01M1221.9 770.7h.01M1257.4 756.5h.01M1242.1 786.1h.01M1257.2 762.7h.01M1238.6 804.6h.01" stroke="#000004" stroke-width="6.6" stroke-linecap="round" fill="none"/>
<path d="M734.0 343.3h.01M721.9 349.8h.01M737.1 333.9h.01M732.0 339.7h.01M773.4 318.2h.01M771.3 316.3h.01M1028.9 253.9h.01M895.3 307.9h.01M838.0 303.7h.01M852.6 287.5h.01M942.2 294.7h.01M1017.5 306.6h.01M1036.5 305.5h.01M987.3 253.7h.01M1016.9 240.0h.01M822.4 310.0h.01M913.0 278.2h.01M1024.2 284.1h.01M900.1 283.6h.01M876.5 309.5h.01M958.0 305.4h.01M842.5 282.3h.01M815.6 314.7h.01M911.1 267.2h.01M917.1 275.5h.01M909.1 287.7h.01M943.7 280.3h.01M1017.7 248.3h.01M931.2 305.0h.01M872.4 309.4h.01M878.0 285.1h.01M830.6 291.6h.01M1013.7 306.2h.01M928.4 301.1h.01M844.1 343.8h.01M812.2 356.2h.01M792.6 345.7h.01M886.7 315.0h.01M908.3 325.0h.01M978.3 323.3h.01M966.7 341.7h.01M1006.7 353.3h.01M918.3 430.7h.01M1072.9 416.6h.01M1254.2 462.0h.01M1201.7 395.2h.01M1057.0 403.2h.01M1198.8 512.1h.01M1247.2 371.4h.01M1212.6 304.3h.01M1185.9 311.2h.01M1199.7 261.4h.01M1141.4 418.7h.01M1055.5 336.0h.01M1174.2 485.6h.01M1267.9 537.0h.01M1227.0 381.8h.01M1057.1 361.2h.01M1082.2 331.9h.01M1205.0 415.0h.01M1000.7 315.5h.01M1200.8 429.1h.01M1092.9 378.1h.01M1112.1 275.2h.01M1149.8 261.8h.01M1097.4 256.6h.01M1169.2 320.2h.01M1295.0 476.7h.01M1261.3 470.9h.01M1275.1 458.0h.01M1060.8 243.2h.01M1209.1 522.1h.01M1139.5 440.2h.01M1264.9 531.3h.01M1069.5 297.0h.01M1226.7 416.6h.01M1226.2 455.1h.01M1226.8 474.8h.01M1053.2 404.0h.01M1162.7 501.9h.01M1262.0 421.3h.01M1151.4 372.2h.01M1123.6 281.0h.01M1136.9 401.6h.01M1213.6 360.8h.01M1265.2 546.7h.01M1072.1 307.0h.01M1067.6 395.4h.01M1211.3 529.0h.01M1140.0 255.4h.01M1297.4 456.6h.01M1036.1 354.7h.01M1157.7 508.3h.01M1083.1 410.9h.01M1228.4 477.0h.01M1072.9 368.9h.01M1262.9 474.1h.01M1142.1 383.5h.01M1139.1 364.7h.01M1156.0 412.2h.01M1206.7 528.8h.01M1253.9 351.9h.01M1231.5 429.9h.01M1105.3 475.4h.01M1128.5 370.4h.01M1195.6 379.4h.01M1067.7 376.7h.01M1193.4 357.7h.01M1152.2 412.1h.01M1129.0 373.6h.01M1109.8 414.0h.01M1082.9 328.6h.01M1135.2 447.8h.01M1050.1 296.3h.01M1169.0 393.1h.01M1246.0 593.6h.01M1243.0 675.6h.01M1243.0 547.4h.01M1270.8 622.9h.01M1306.1 636.7h.01M1310.8 641.0h.01M1318.9 705.9h.01M1284.3 803.4h.01M1337.3 668.7h.01M1285.0 797.9h.01M1221.1 775.4h.01M1269.0 787.4h.01M1292.8 703.5h.01M1310.2 736.0h.01M1342.5 691.9h.01M1279.7 837.3h.01M1279.4 761.7h.01M1255.9 779.1h.01M1370.9 973.7h.01M1400.7 1052.5h.01M1538.1 1074.8h.01M1284.1 920.7h.01M1559.6 1046.4h.01M1449.3 837.4h.01M1296.9 1040.0h.01M1461.4 864.2h.01M1501.7 894.1h.01M1291.4 948.0h.01M1513.5 959.5h.01M1477.6 840.3h.01M1345.9 961.9h.01M1337.6 1059.0h.01M1297.8 979.0h.01M1406.1 960.2h.01M1539.3 954.4h.01M1486.8 1021.2h.01M1562.6 885.9h.01M1355.8 1084.1h.01M1391.0 1105.6h.01M1498.6 1151.4h.01M1572.6 880.2h.01M1441.9 1120.7h.01M1454.2 927.1h.01M1489.2 1107.9h.01M1480.5 1036.8h.01M1561.8 974.4h.01M1432.2 1061.3h.01M1538.6 874.2h.01M1325.1 1046.0h.01M1317.0 883.7h.01M1502.3 1066.0h.01M1382.2 892.0h.01M1348.4 911.6h.01M1474.3 1164.0h.01M1582.2 1039.1h.01M1396.5 868.7h.01M1500.8 884.9h.01M1363.2 897.8h.01M1399.4 1124.1h.01M1365.4 1028.7h.01M1320.6 891.8h.01M1534.8 864.8h.01M1354.3 960.0h.01M1552.4 990.4h.01M1535.2 1093.7h.01M1400.5 1094.7h.01M1447.9 1072.4h.01M1474.0 864.3h.01M1498.6 840.4h.01M1283.9 1010.5h.01M1455.5 834.3h.01M1569.7 876.6h.01M1619.9 909.2h.01M1666.9 923.4h.01M1616.2 956.7h.01M1419.4 895.7h.01M1361.7 1020.6h.01M1487.1 1118.0h.01M1244.4 922.8h.01M1241.5 1107.4h.01M1187.4 1048.4h.01M1279.7 1059.7h.01M1031.7 917.5h.01M1061.7 948.3h.01M1057.5 955.0h.01M1081.7 954.2h.01M1099.7 944.7h.01M873.0 1186.4h.01M898.0 1181.4h.01M923.0 1162.0h.01M953.4 1152.4h.01M978.0 1150.6h.01M997.6 1169.0h.01M1016.0 1095.0h.01M1032.6 1112.0h.01M1058.6 1108.2h.01M1104.0 1103.6h.01M1191.6 1085.6h.01M1100.0 1042.6h.01M1105.0 1041.0h.01M1109.6 1038.4h.01M663.2 729.9h.01M667.5 736.5h.01M671.2 736.0h.01M574.1 739.2h.01M577.9 767.2h.01M582.1 792.0h.01M549.9 804.8h.01M603.2 805.9h.01M596.0 821.3h.01M580.5 850.7h.01M564.5 855.5h.01M420.0 688.5h.01M612.8 534.7h.01M674.7 554.7h.01M1023.0 700.4h.01M523.5 1157.3h.01M516.8 1167.5h.01M1273.1 877.4h.01M1313.3 838.7h.01M1304.0 851.5h.01M1314.7 859.2h.01M1203.2 985.3h.01" stroke="#E65564" stroke-width="6.6" stroke-linecap="round" fill="none"/>
<path d="M428.0 745.9h.01M548.0 845.9h.01M1318.1 961.3h.01M1390.7 976.8h.01M1571.5 1014.1h.01" stroke="#FCFDBF" stroke-width="6.6" stroke-linecap="round" fill="none"/>
<g stroke="#000" stroke-width="4.6" fill="none">
<path d="M205.5 142.6V1302.4H1801"/>
<path d="M277.6 1304V1317"/>
<path d="M639.8 1304V1317"/>
<path d="M1002.0 1304V1317"/>
<path d="M1364.2 1304V1317"/>
<path d="M1726.4 1304V1317"/>
<path d="M191 1249.7H204"/>
<path d="M191 920.9H204"/>
<path d="M191 592.1H204"/>
<path d="M191 263.4H204"/>
</g>
<g font-family="Liberation Sans, sans-serif" fill="#000">
<g transform="translate(277.6 1367) scale(1 1.04)"><text class="tx" font-size="50" text-anchor="middle">-5</text></g>
<g transform="translate(639.8 1367) scale(1 1.04)"><text class="tx" font-size="50" text-anchor="middle">0</text></g>
<g transform="translate(1002.0 1367) scale(1 1.04)"><text class="tx" font-size="50" text-anchor="middle">5</text></g>
<g transform="translate(1364.2 1367) scale(1 1.04)"><text class="tx" font-size="50" text-anchor="middle">10</text><path fill="#fff" d="M-25.81 -5.75H-15.41V0.50H-25.81zM-10.91 -5.75H-1.06V0.50H-10.91z"/></g>
<g transform="translate(1726.4 1367) scale(1 1.04)"><text class="tx" font-size="50" text-anchor="middle">15</text><path fill="#fff" d="M-25.81 -5.75H-15.41V0.50H-25.81zM-10.91 -5.75H-1.06V0.50H-10.91z"/></g>
<g transform="translate(179 1267.7) scale(1 1.04)"><text class="tx" font-size="50" text-anchor="end">-5</text></g>
<g transform="translate(179 938.9) scale(1 1.04)"><text class="tx" font-size="50" text-anchor="end">0</text></g>
<g transform="translate(179 610.1) scale(1 1.04)"><text class="tx" font-size="50" text-anchor="end">5</text></g>
<g transform="translate(179 281.4) scale(1 1.04)"><text class="tx" font-size="50" text-anchor="end">10</text><path fill="#fff" d="M-53.61 -5.75H-43.21V0.50H-53.61zM-38.71 -5.75H-28.86V0.50H-38.71z"/></g>
<g transform="translate(1003 1435) scale(1 1.04)"><text class="tx" font-size="58.33" text-anchor="middle">UMAP_1</text><path fill="#fff" d="M86.57 -6.71H98.70V0.58H86.57zM103.95 -6.71H115.44V0.58H103.95z"/></g>
<g transform="translate(94.9 722.5) rotate(-90) scale(1 1.04)"><text class="tx" font-size="58.33" text-anchor="middle">UMAP_2</text></g>
<g transform="translate(1003 101.3) scale(1 1.04)"><text class="tx" font-size="66.67" font-weight="bold" text-anchor="middle">ZSWIM1</text><path fill="#fff" d="M94.52 -8.33H107.99V0.67H94.52zM117.06 -8.33H129.52V0.67H117.06z"/></g>
<g transform="translate(1950.3 626.5) scale(1 1.04)"><text class="tx" font-size="50">1.00</text><path fill="#fff" d="M2.00 -5.75H12.40V0.50H2.00zM16.90 -5.75H26.75V0.50H16.90z"/></g>
<g transform="translate(1950.3 699.0) scale(1 1.04)"><text class="tx" font-size="50">0.75</text></g>
<g transform="translate(1950.3 771.4) scale(1 1.04)"><text class="tx" font-size="50">0.50</text></g>
<g transform="translate(1950.3 843.9) scale(1 1.04)"><text class="tx" font-size="50">0.25</text></g>
<g transform="translate(1950.3 916.3) scale(1 1.04)"><text class="tx" font-size="50">0.00</text></g>
</g>
<defs><linearGradient id="mg" x1="0" y1="1" x2="0" y2="0">
<stop offset="0.0" stop-color="#000004"/>
<stop offset="0.1" stop-color="#140E36"/>
<stop offset="0.2" stop-color="#3B0F70"/>
<stop offset="0.3" stop-color="#641A80"/>
<stop offset="0.4" stop-color="#8C2981"/>
<stop offset="0.5" stop-color="#B73779"/>
<stop offset="0.6" stop-color="#DE4968"/>
<stop offset="0.7" stop-color="#F7705C"/>
<stop offset="0.8" stop-color="#FE9F6D"/>
<stop offset="0.9" stop-color="#FECF92"/>
<stop offset="1.0" stop-color="#FCFDBF"/>
</linearGradient></defs>
<rect x="1857" y="577.8" width="64" height="319.5" fill="url(#mg)"/>
<g stroke="#fff" stroke-width="1.6">
<path d="M1857 607.2h13M1921 607.2h-13"/>
<path d="M1857 679.7h13M1921 679.7h-13"/>
<path d="M1857 752.2h13M1921 752.2h-13"/>
<path d="M1857 824.7h13M1921 824.7h-13"/>
<path d="M1857 896.6h13M1921 896.6h-13"/>
</g>
</svg></body></html>
